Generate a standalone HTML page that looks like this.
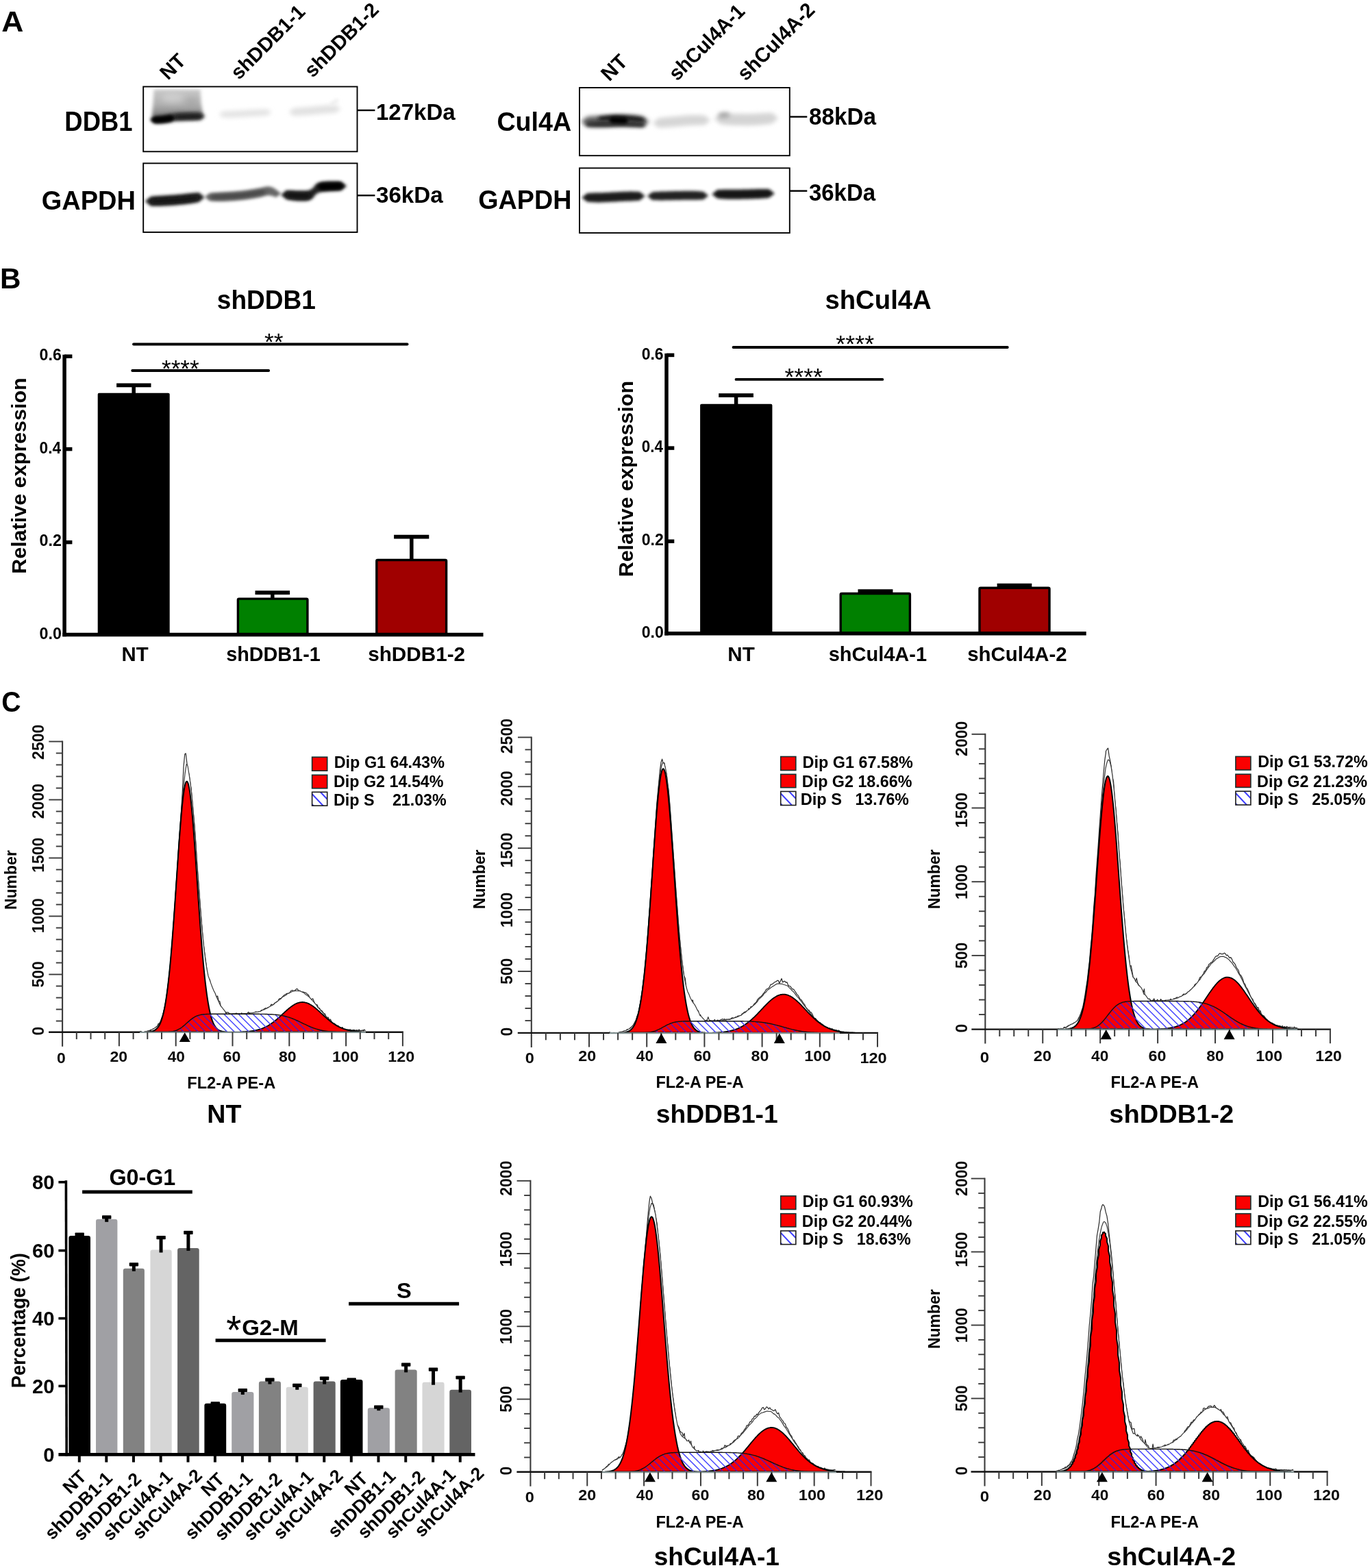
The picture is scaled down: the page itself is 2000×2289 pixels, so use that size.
<!DOCTYPE html>
<html lang="en">
<head>
<meta charset="utf-8">
<title>Figure</title>
<style>
html,body{margin:0;padding:0;background:#fff;}
body{width:2000px;height:2289px;overflow:hidden;}
svg{display:block;font-family:"Liberation Sans", sans-serif;}
</style>
</head>
<body>
<svg xmlns="http://www.w3.org/2000/svg" width="2000" height="2289" viewBox="0 0 2000 2289">
<defs>
<filter id="b2" filterUnits="userSpaceOnUse" x="0" y="0" width="2000" height="400"><feGaussianBlur stdDeviation="2"/></filter>
<filter id="b25" filterUnits="userSpaceOnUse" x="0" y="0" width="2000" height="400"><feGaussianBlur stdDeviation="2.6"/></filter>
<filter id="b3" filterUnits="userSpaceOnUse" x="0" y="0" width="2000" height="400"><feGaussianBlur stdDeviation="3"/></filter>
<filter id="b4" filterUnits="userSpaceOnUse" x="0" y="0" width="2000" height="400"><feGaussianBlur stdDeviation="4"/></filter>
<filter id="b1" filterUnits="userSpaceOnUse" x="0" y="0" width="2000" height="400"><feGaussianBlur stdDeviation="1.2"/></filter>
</defs>
<rect width="2000" height="2289" fill="#fff"/>
<text x="2.19" y="46.00" font-size="43.4" font-weight="bold" fill="#000" textLength="32.12" lengthAdjust="spacingAndGlyphs">A</text>
<g>
<linearGradient id="smg" x1="0" y1="0" x2="0" y2="1"><stop offset="0" stop-color="#c9c9c9"/><stop offset="0.55" stop-color="#b0b0b0"/><stop offset="1" stop-color="#7c7c7c"/></linearGradient>
<path d="M224.5,130.5 L292.5,130.5 L293.5,150 L296.5,168 L221.5,171 L223.5,150 Z" fill="url(#smg)" filter="url(#b25)"/>
<ellipse cx="252" cy="143" rx="16" ry="7" fill="#dcdcdc" opacity="0.55" filter="url(#b4)"/>
<ellipse cx="280" cy="150" rx="9" ry="8" fill="#999" opacity="0.35" filter="url(#b4)"/>
<path d="M219.4,174.2 226.0,168.9 226.8,168.8 227.9,168.7 229.1,168.5 230.5,168.4 232.1,168.2 233.7,168.1 235.3,167.9 236.9,167.8 238.5,167.6 240.0,167.5 241.5,167.3 242.9,167.0 244.4,166.8 245.8,166.5 247.3,166.2 248.8,165.9 250.3,165.7 251.9,165.4 253.4,165.2 255.0,165.0 256.6,164.9 258.2,164.7 259.8,164.6 261.5,164.5 263.1,164.5 264.8,164.4 266.5,164.4 268.3,164.3 270.1,164.3 272.0,164.2 274.0,164.2 276.3,164.1 278.7,164.1 281.1,164.1 283.6,164.1 285.9,164.1 288.1,164.2 290.1,164.3 291.7,164.4 293.0,164.5 299.6,169.8 L299.6,169.8 293.0,175.1 291.7,175.2 290.1,175.4 288.1,175.6 285.9,175.7 283.6,175.8 281.1,175.9 278.7,176.0 276.3,176.1 274.0,176.1 272.0,176.2 270.1,176.3 268.3,176.3 266.5,176.4 264.8,176.4 263.1,176.5 261.5,176.5 259.8,176.6 258.2,176.7 256.6,176.9 255.0,177.0 253.4,177.2 251.9,177.4 250.3,177.7 248.8,177.9 247.3,178.2 245.8,178.5 244.4,178.7 242.9,179.0 241.5,179.2 240.0,179.3 238.5,179.5 236.9,179.6 235.3,179.6 233.7,179.7 232.1,179.7 230.5,179.7 229.1,179.6 227.9,179.6 226.8,179.5 226.0,179.5 219.4,174.2Z" fill="#333" opacity="1.0" filter="url(#b25)"/>
<path d="M219.5,175.0 225.0,170.2 225.3,170.2 225.6,170.2 226.0,170.1 226.4,170.1 226.9,170.1 227.4,170.0 227.9,170.0 228.5,170.0 229.0,170.0 229.6,170.0 230.2,169.9 230.9,169.9 231.5,169.9 232.1,169.9 232.8,169.8 233.4,169.8 234.1,169.8 234.7,169.7 235.4,169.7 236.0,169.6 236.6,169.5 237.3,169.5 238.1,169.4 238.8,169.3 239.6,169.2 240.4,169.1 241.2,168.9 242.1,168.8 242.9,168.7 243.7,168.6 244.5,168.5 245.3,168.4 246.0,168.3 246.7,168.2 247.4,168.1 248.0,168.0 248.6,167.9 249.2,167.9 249.6,167.9 250.0,167.8 255.5,172.6 L255.5,172.6 250.0,177.4 249.6,177.5 249.2,177.6 248.6,177.7 248.0,177.8 247.4,177.9 246.7,178.0 246.0,178.2 245.3,178.3 244.5,178.4 243.7,178.6 242.9,178.7 242.1,178.8 241.2,178.9 240.4,179.1 239.6,179.2 238.8,179.3 238.1,179.4 237.3,179.5 236.6,179.5 236.0,179.6 235.4,179.7 234.7,179.7 234.1,179.7 233.4,179.8 232.8,179.8 232.1,179.8 231.5,179.9 230.9,179.9 230.2,179.9 229.6,179.9 229.0,179.9 228.5,179.9 227.9,179.9 227.4,179.9 226.9,179.9 226.4,179.8 226.0,179.8 225.6,179.8 225.3,179.8 225.0,179.8 219.5,175.0Z" fill="#000" opacity="1.0" filter="url(#b2)"/>
<path d="M254.2,171.0 258.0,167.9 258.9,167.8 259.7,167.7 260.6,167.6 261.4,167.5 262.2,167.5 263.1,167.4 263.9,167.4 264.8,167.3 265.6,167.3 266.5,167.3 267.4,167.2 268.2,167.2 269.1,167.2 269.9,167.2 270.8,167.1 271.6,167.1 272.4,167.1 273.3,167.1 274.1,167.0 275.0,167.0 275.9,167.0 276.7,167.0 277.6,166.9 278.4,166.9 279.2,166.9 280.1,166.9 280.9,166.8 281.8,166.8 282.6,166.8 283.5,166.8 284.4,166.7 285.2,166.7 286.1,166.7 286.9,166.7 287.8,166.7 288.6,166.7 289.4,166.7 290.3,166.8 291.1,166.8 292.0,166.9 295.9,170.0 L295.9,170.0 292.0,173.1 291.1,173.2 290.3,173.3 289.4,173.4 288.6,173.5 287.8,173.5 286.9,173.6 286.1,173.6 285.2,173.7 284.4,173.7 283.5,173.7 282.6,173.8 281.8,173.8 280.9,173.8 280.1,173.8 279.2,173.9 278.4,173.9 277.6,173.9 276.7,173.9 275.9,174.0 275.0,174.0 274.1,174.0 273.3,174.0 272.4,174.1 271.6,174.1 270.8,174.1 269.9,174.1 269.1,174.2 268.2,174.2 267.4,174.2 266.5,174.2 265.6,174.3 264.8,174.3 263.9,174.3 263.1,174.3 262.2,174.3 261.4,174.3 260.6,174.3 259.7,174.2 258.9,174.2 258.0,174.1 254.2,171.0Z" fill="#1a1a1a" opacity="0.8" filter="url(#b25)"/>
<path d="M319.5,167.0 325.0,162.7 325.9,162.6 326.9,162.5 328.1,162.3 329.5,162.2 331.0,162.1 332.6,162.0 334.3,162.0 336.0,161.9 337.8,161.8 339.6,161.7 341.4,161.7 343.2,161.6 345.0,161.5 346.8,161.4 348.6,161.3 350.5,161.2 352.5,161.1 354.4,161.0 356.4,160.8 358.4,160.7 360.4,160.6 362.4,160.5 364.4,160.3 366.3,160.2 368.2,160.1 370.0,160.0 371.8,159.9 373.7,159.8 375.5,159.7 377.4,159.7 379.3,159.6 381.2,159.6 382.9,159.5 384.6,159.5 386.2,159.5 387.7,159.5 389.0,159.6 390.1,159.6 391.0,159.7 396.5,164.0 L396.5,164.0 391.0,168.3 390.1,168.4 389.0,168.6 387.7,168.8 386.2,168.9 384.6,169.1 382.9,169.2 381.2,169.3 379.3,169.5 377.4,169.6 375.5,169.7 373.7,169.8 371.8,169.9 370.0,170.0 368.2,170.1 366.3,170.2 364.4,170.3 362.4,170.5 360.4,170.6 358.4,170.7 356.4,170.8 354.4,171.0 352.5,171.1 350.5,171.2 348.6,171.3 346.8,171.4 345.0,171.5 343.2,171.6 341.4,171.6 339.6,171.7 337.8,171.7 336.0,171.7 334.3,171.7 332.6,171.7 331.0,171.6 329.5,171.6 328.1,171.5 326.9,171.5 325.9,171.4 325.0,171.3 319.5,167.0Z" fill="#e4e4e4" opacity="1.0" filter="url(#b3)"/>
<path d="M421.4,163.5 428.0,158.2 429.0,158.0 430.2,157.8 431.6,157.6 433.1,157.4 434.9,157.3 436.7,157.1 438.6,156.9 440.5,156.7 442.5,156.6 444.5,156.4 446.4,156.3 448.2,156.1 450.0,156.0 451.7,155.9 453.4,155.7 455.1,155.6 456.9,155.4 458.6,155.2 460.3,155.1 462.0,154.9 463.8,154.7 465.5,154.6 467.1,154.4 468.8,154.3 470.4,154.1 472.0,154.0 473.6,153.9 475.3,153.8 477.0,153.7 478.7,153.6 480.4,153.6 482.1,153.5 483.7,153.5 485.2,153.5 486.7,153.5 488.0,153.5 489.2,153.6 490.2,153.6 491.0,153.7 497.6,159.0 L497.6,159.0 491.0,164.3 490.2,164.4 489.2,164.6 488.0,164.7 486.7,164.9 485.2,165.0 483.7,165.2 482.1,165.3 480.4,165.4 478.7,165.5 477.0,165.6 475.3,165.8 473.6,165.9 472.0,166.0 470.4,166.1 468.8,166.3 467.1,166.4 465.5,166.6 463.8,166.7 462.0,166.9 460.3,167.1 458.6,167.2 456.9,167.4 455.1,167.6 453.4,167.7 451.7,167.9 450.0,168.0 448.2,168.1 446.4,168.3 444.5,168.4 442.5,168.5 440.5,168.6 438.6,168.7 436.7,168.8 434.9,168.9 433.1,168.9 431.6,168.9 430.2,168.9 429.0,168.9 428.0,168.8 421.4,163.5Z" fill="#e2e2e2" opacity="1.0" filter="url(#b3)"/>
<path d="M480.7,152.0 484.0,149.0 484.2,148.9 484.4,148.8 484.6,148.6 484.8,148.5 485.0,148.4 485.2,148.3 485.4,148.1 485.6,148.0 485.8,147.9 486.0,147.8 486.2,147.6 486.4,147.5 486.6,147.4 486.8,147.3 487.0,147.1 487.2,147.0 487.4,146.9 487.6,146.8 487.8,146.6 488.0,146.5 488.2,146.4 488.4,146.3 488.6,146.1 488.8,146.0 489.0,145.9 489.2,145.8 489.4,145.6 489.6,145.5 489.8,145.4 490.0,145.3 490.2,145.1 490.4,145.0 490.6,144.9 490.8,144.8 491.0,144.6 491.2,144.5 491.4,144.4 491.6,144.3 491.8,144.2 492.0,144.0 495.3,147.0 L495.3,147.0 492.0,150.0 491.8,150.1 491.6,150.2 491.4,150.4 491.2,150.5 491.0,150.6 490.8,150.7 490.6,150.9 490.4,151.0 490.2,151.1 490.0,151.2 489.8,151.4 489.6,151.5 489.4,151.6 489.2,151.7 489.0,151.9 488.8,152.0 488.6,152.1 488.4,152.2 488.2,152.4 488.0,152.5 487.8,152.6 487.6,152.7 487.4,152.9 487.2,153.0 487.0,153.1 486.8,153.2 486.6,153.4 486.4,153.5 486.2,153.6 486.0,153.7 485.8,153.9 485.6,154.0 485.4,154.1 485.2,154.2 485.0,154.4 484.8,154.5 484.6,154.6 484.4,154.7 484.2,154.8 484.0,155.0 480.7,152.0Z" fill="#ececec" opacity="1.0" filter="url(#b25)"/>
<rect x="209.20" y="126.50" width="312.30" height="94.80" fill="none" stroke="#000" stroke-width="1.9"/>
<path d="M211.5,293.8 220.0,286.8 221.2,286.7 222.7,286.5 224.5,286.3 226.5,286.1 228.6,285.9 230.9,285.8 233.2,285.7 235.6,285.5 237.8,285.4 240.0,285.3 242.1,285.1 244.3,285.0 246.5,284.8 248.8,284.7 251.0,284.5 253.2,284.4 255.5,284.2 257.7,284.0 259.9,283.8 262.0,283.7 264.1,283.5 266.3,283.2 268.5,283.0 270.7,282.8 272.8,282.6 274.9,282.3 276.9,282.1 278.8,281.9 280.5,281.8 282.0,281.6 283.4,281.5 284.6,281.4 285.7,281.3 286.6,281.3 287.5,281.2 288.3,281.1 288.9,281.1 289.5,281.1 290.0,281.0 290.5,281.0 299.0,288.0 L299.0,288.0 290.5,295.0 290.0,295.1 289.5,295.2 288.9,295.4 288.3,295.5 287.5,295.7 286.6,295.9 285.7,296.1 284.6,296.3 283.4,296.5 282.0,296.8 280.5,297.0 278.8,297.2 276.9,297.5 274.9,297.7 272.8,298.0 270.7,298.2 268.5,298.5 266.3,298.7 264.1,298.9 262.0,299.1 259.9,299.3 257.7,299.5 255.5,299.7 253.2,299.9 251.0,300.0 248.8,300.2 246.5,300.3 244.3,300.5 242.1,300.6 240.0,300.7 237.8,300.8 235.6,300.9 233.2,301.0 230.9,301.0 228.6,301.1 226.5,301.0 224.5,301.0 222.7,300.9 221.2,300.9 220.0,300.8 211.5,293.8Z" fill="#262626" opacity="1.0" filter="url(#b2)"/>
<path d="M218.2,294.0 222.0,291.2 223.1,291.0 224.3,290.8 225.7,290.6 227.3,290.5 229.1,290.3 230.9,290.2 232.9,290.0 234.9,289.9 237.1,289.7 239.2,289.6 241.5,289.5 243.7,289.4 245.9,289.2 248.1,289.1 250.3,289.0 252.4,288.8 254.5,288.7 256.4,288.6 258.3,288.4 260.0,288.3 261.7,288.2 263.3,288.0 265.0,287.8 266.7,287.7 268.4,287.5 270.0,287.3 271.7,287.1 273.3,287.0 274.8,286.8 276.4,286.6 277.9,286.5 279.3,286.3 280.7,286.2 282.0,286.1 283.2,286.0 284.4,285.9 285.4,285.8 286.4,285.8 287.2,285.8 288.0,285.8 291.9,288.6 L291.9,288.6 288.0,291.4 287.2,291.6 286.4,291.8 285.4,292.0 284.4,292.2 283.2,292.4 282.0,292.6 280.7,292.9 279.3,293.1 277.9,293.3 276.4,293.5 274.8,293.7 273.3,293.9 271.7,294.1 270.0,294.3 268.4,294.5 266.7,294.7 265.0,294.8 263.3,295.0 261.7,295.2 260.0,295.3 258.3,295.4 256.4,295.6 254.5,295.7 252.4,295.8 250.3,296.0 248.1,296.1 245.9,296.2 243.7,296.4 241.5,296.5 239.2,296.6 237.1,296.7 234.9,296.8 232.9,296.9 230.9,296.9 229.1,297.0 227.3,297.0 225.7,297.0 224.3,297.0 223.1,296.9 222.0,296.8 218.2,294.0Z" fill="#0a0a0a" opacity="0.8" filter="url(#b25)"/>
<path d="M298.6,287.6 306.0,281.9 308.6,281.6 312.2,281.2 316.4,281.0 321.0,280.7 325.7,280.5 330.0,280.3 334.1,280.0 338.3,279.7 342.6,279.4 346.8,279.1 350.9,278.7 355.0,278.3 359.1,277.7 363.2,277.2 367.3,276.5 371.2,275.9 374.8,275.3 378.0,274.8 380.7,274.3 383.0,273.7 385.0,273.2 386.8,272.8 388.4,272.5 390.0,272.3 391.5,272.2 392.7,272.3 393.9,272.4 394.9,272.7 395.9,273.0 397.0,273.3 398.1,273.8 399.3,274.4 400.4,275.1 401.5,275.7 402.4,276.3 403.0,276.7 410.4,282.4 L410.4,282.4 403.0,288.1 402.4,287.9 401.5,287.5 400.4,287.0 399.3,286.6 398.1,286.2 397.0,285.9 395.9,285.6 394.9,285.4 393.9,285.3 392.7,285.2 391.5,285.2 390.0,285.3 388.4,285.6 386.8,286.0 385.0,286.5 383.0,287.1 380.7,287.7 378.0,288.2 374.8,288.8 371.2,289.4 367.3,290.0 363.2,290.7 359.1,291.2 355.0,291.7 350.9,292.2 346.8,292.6 342.6,292.9 338.3,293.2 334.1,293.5 330.0,293.7 325.7,293.9 321.0,293.9 316.4,293.9 312.2,293.8 308.6,293.6 306.0,293.3 298.6,287.6Z" fill="#666" opacity="1.0" filter="url(#b2)"/>
<path d="M306.1,287.6 310.0,284.8 311.1,284.6 312.4,284.5 313.9,284.3 315.5,284.2 317.3,284.0 319.2,283.9 321.2,283.8 323.4,283.7 325.6,283.6 327.8,283.5 330.1,283.3 332.4,283.2 334.8,283.1 337.1,283.0 339.4,282.9 341.7,282.7 343.9,282.6 346.0,282.4 348.1,282.3 350.0,282.1 351.9,281.9 353.9,281.7 355.9,281.4 357.9,281.2 359.9,280.9 362.0,280.6 364.0,280.3 366.0,280.0 368.0,279.7 370.0,279.4 371.9,279.1 373.8,278.9 375.5,278.6 377.2,278.4 378.8,278.2 380.3,278.0 381.7,277.8 382.9,277.7 384.0,277.7 385.0,277.6 388.9,280.4 L388.9,280.4 385.0,283.2 384.0,283.4 382.9,283.7 381.7,284.0 380.3,284.3 378.8,284.7 377.2,285.0 375.5,285.3 373.8,285.7 371.9,286.0 370.0,286.3 368.0,286.7 366.0,287.0 364.0,287.3 362.0,287.6 359.9,287.9 357.9,288.2 355.9,288.4 353.9,288.7 351.9,288.9 350.0,289.1 348.1,289.3 346.0,289.4 343.9,289.6 341.7,289.7 339.4,289.9 337.1,290.0 334.8,290.1 332.4,290.2 330.1,290.3 327.8,290.4 325.6,290.5 323.4,290.5 321.2,290.6 319.2,290.6 317.3,290.6 315.5,290.6 313.9,290.6 312.4,290.5 311.1,290.5 310.0,290.4 306.1,287.6Z" fill="#3a3a3a" opacity="0.7" filter="url(#b25)"/>
<path d="M409.8,284.4 418.0,277.8 419.5,277.8 421.6,277.8 424.0,278.0 426.7,278.1 429.4,278.3 432.0,278.4 434.6,278.5 437.5,278.6 440.4,278.6 443.2,278.6 445.8,278.5 448.0,278.3 449.8,278.0 451.3,277.6 452.6,277.1 453.7,276.5 454.8,275.7 456.0,274.9 457.2,273.8 458.2,272.6 459.2,271.2 460.3,269.8 461.6,268.5 463.0,267.5 464.6,266.7 466.2,266.1 468.0,265.7 470.0,265.3 472.3,265.0 475.0,264.7 478.5,264.5 482.7,264.4 487.2,264.4 491.6,264.5 495.4,264.7 498.0,265.0 506.2,271.6 L506.2,271.6 498.0,278.2 495.4,278.5 491.6,278.8 487.2,279.0 482.7,279.2 478.5,279.4 475.0,279.7 472.3,280.0 470.0,280.3 468.0,280.7 466.2,281.1 464.6,281.7 463.0,282.5 461.6,283.5 460.3,284.8 459.2,286.2 458.2,287.6 457.2,288.8 456.0,289.9 454.8,290.7 453.7,291.5 452.6,292.1 451.3,292.6 449.8,293.0 448.0,293.3 445.8,293.5 443.2,293.6 440.4,293.6 437.5,293.5 434.6,293.4 432.0,293.2 429.4,293.0 426.7,292.6 424.0,292.2 421.6,291.8 419.5,291.4 418.0,291.0 409.8,284.4Z" fill="#242424" opacity="1.0" filter="url(#b2)"/>
<path d="M462.5,272.6 468.0,267.9 468.7,267.8 469.4,267.7 470.2,267.7 470.9,267.6 471.6,267.5 472.4,267.5 473.1,267.5 473.8,267.4 474.5,267.4 475.2,267.4 476.0,267.3 476.7,267.3 477.4,267.3 478.1,267.3 478.9,267.2 479.6,267.2 480.3,267.2 481.1,267.2 481.8,267.1 482.5,267.1 483.2,267.1 483.9,267.1 484.7,267.0 485.4,267.0 486.1,267.0 486.9,267.0 487.6,266.9 488.3,266.9 489.0,266.9 489.8,266.9 490.5,266.8 491.2,266.8 491.9,266.8 492.6,266.8 493.4,266.8 494.1,266.8 494.8,266.8 495.6,266.8 496.3,266.8 497.0,266.9 502.5,271.6 L502.5,271.6 497.0,276.3 496.3,276.4 495.6,276.5 494.8,276.5 494.1,276.6 493.4,276.7 492.6,276.7 491.9,276.7 491.2,276.8 490.5,276.8 489.8,276.8 489.0,276.9 488.3,276.9 487.6,276.9 486.9,276.9 486.1,277.0 485.4,277.0 484.7,277.0 483.9,277.0 483.2,277.1 482.5,277.1 481.8,277.1 481.1,277.1 480.3,277.2 479.6,277.2 478.9,277.2 478.1,277.2 477.4,277.3 476.7,277.3 476.0,277.3 475.2,277.3 474.5,277.4 473.8,277.4 473.1,277.4 472.4,277.4 471.6,277.4 470.9,277.4 470.2,277.4 469.4,277.4 468.7,277.4 468.0,277.3 462.5,272.6Z" fill="#000" opacity="1.0" filter="url(#b2)"/>
<path d="M416.1,285.0 421.0,280.8 421.7,280.8 422.4,280.7 423.2,280.7 423.9,280.7 424.6,280.7 425.4,280.7 426.1,280.7 426.8,280.7 427.5,280.7 428.2,280.8 429.0,280.8 429.7,280.8 430.4,280.8 431.1,280.9 431.9,280.9 432.6,280.9 433.3,280.9 434.1,281.0 434.8,281.0 435.5,281.0 436.2,281.0 436.9,281.1 437.7,281.1 438.4,281.1 439.1,281.1 439.9,281.2 440.6,281.2 441.3,281.2 442.0,281.2 442.8,281.3 443.5,281.3 444.2,281.3 444.9,281.4 445.6,281.4 446.4,281.5 447.1,281.5 447.8,281.6 448.6,281.6 449.3,281.7 450.0,281.8 454.9,286.0 L454.9,286.0 450.0,290.2 449.3,290.2 448.6,290.3 447.8,290.3 447.1,290.3 446.4,290.3 445.6,290.3 444.9,290.3 444.2,290.3 443.5,290.3 442.8,290.2 442.0,290.2 441.3,290.2 440.6,290.2 439.9,290.1 439.1,290.1 438.4,290.1 437.7,290.1 436.9,290.0 436.2,290.0 435.5,290.0 434.8,290.0 434.1,289.9 433.3,289.9 432.6,289.9 431.9,289.9 431.1,289.8 430.4,289.8 429.7,289.8 429.0,289.8 428.2,289.7 427.5,289.7 426.8,289.7 426.1,289.6 425.4,289.6 424.6,289.5 423.9,289.5 423.2,289.4 422.4,289.4 421.7,289.3 421.0,289.2 416.1,285.0Z" fill="#0c0c0c" opacity="0.7" filter="url(#b25)"/>
<rect x="209.20" y="238.40" width="312.30" height="100.60" fill="none" stroke="#000" stroke-width="1.9"/>
</g>
<text x="94.34" y="190.60" font-size="40" font-weight="bold" fill="#000" textLength="99.17" lengthAdjust="spacingAndGlyphs">DDB1</text>
<text x="60.78" y="305.50" font-size="39.5" font-weight="bold" fill="#000" textLength="137.24" lengthAdjust="spacingAndGlyphs">GAPDH</text>
<line x1="521.60" y1="161.00" x2="547.40" y2="161.00" stroke="#000" stroke-width="2.4"/>
<line x1="521.60" y1="285.30" x2="547.40" y2="285.30" stroke="#000" stroke-width="2.4"/>
<text x="548.94" y="175.20" font-size="34" font-weight="bold" fill="#000" textLength="115.74" lengthAdjust="spacingAndGlyphs">127kDa</text>
<text x="548.95" y="295.80" font-size="34" font-weight="bold" fill="#000" textLength="97.86" lengthAdjust="spacingAndGlyphs">36kDa</text>
<text x="245.24" y="117.95" font-size="29.2" font-weight="bold" fill="#000" transform="rotate(-45 245.24 117.95)">NT</text>
<text x="348.68" y="117.58" font-size="29.2" font-weight="bold" fill="#000" transform="rotate(-45 348.68 117.58)">shDDB1-1</text>
<text x="456.23" y="114.58" font-size="29.2" font-weight="bold" fill="#000" transform="rotate(-45 456.23 114.58)">shDDB1-2</text>
<path d="M848.2,177.5 857.0,170.4 858.4,170.2 860.1,170.0 862.1,169.9 864.4,169.7 866.9,169.5 869.6,169.4 872.2,169.3 874.9,169.2 877.5,169.1 880.0,169.0 882.4,168.9 885.0,168.8 887.5,168.6 890.1,168.5 892.7,168.3 895.3,168.2 897.8,168.1 900.3,167.9 902.7,167.9 905.0,167.8 907.2,167.8 909.4,167.8 911.6,167.8 913.6,167.8 915.7,167.9 917.7,167.9 919.6,168.0 921.5,168.1 923.3,168.2 925.0,168.3 926.7,168.5 928.4,168.6 930.1,168.8 931.7,169.0 933.2,169.3 934.7,169.5 936.0,169.8 937.2,170.0 938.2,170.2 939.0,170.4 947.8,177.5 L947.8,177.5 939.0,184.6 938.2,184.6 937.2,184.6 936.0,184.6 934.7,184.5 933.2,184.5 931.7,184.4 930.1,184.3 928.4,184.2 926.7,184.1 925.0,184.1 923.3,184.0 921.5,184.0 919.6,183.9 917.7,183.9 915.7,183.8 913.6,183.8 911.6,183.8 909.4,183.8 907.2,183.8 905.0,183.8 902.7,183.9 900.3,183.9 897.8,184.1 895.3,184.2 892.7,184.3 890.1,184.5 887.5,184.6 885.0,184.8 882.4,184.9 880.0,185.0 877.5,185.0 874.9,185.1 872.2,185.1 869.6,185.1 866.9,185.1 864.4,185.0 862.1,185.0 860.1,184.9 858.4,184.7 857.0,184.6 848.2,177.5Z" fill="#5e5e5e" opacity="1.0" filter="url(#b3)"/>
<path d="M854.1,181.5 858.0,178.8 859.2,178.6 860.7,178.5 862.4,178.4 864.4,178.3 866.5,178.2 868.8,178.2 871.1,178.1 873.5,178.1 876.0,178.1 878.4,178.1 880.7,178.0 882.9,178.0 885.0,178.0 887.0,178.0 888.9,177.9 890.8,177.9 892.7,177.8 894.6,177.8 896.4,177.7 898.3,177.6 900.2,177.6 902.1,177.5 904.0,177.5 906.0,177.5 908.0,177.5 910.0,177.5 912.2,177.6 914.5,177.6 917.0,177.8 919.6,177.9 922.2,178.0 924.8,178.2 927.3,178.4 929.8,178.6 932.1,178.8 934.2,179.1 936.1,179.3 937.7,179.5 939.0,179.8 942.9,182.5 L942.9,182.5 939.0,185.2 937.7,185.3 936.1,185.4 934.2,185.4 932.1,185.3 929.8,185.3 927.3,185.2 924.8,185.1 922.2,185.0 919.6,184.8 917.0,184.7 914.5,184.6 912.2,184.6 910.0,184.5 908.0,184.5 906.0,184.5 904.0,184.5 902.1,184.5 900.2,184.6 898.3,184.6 896.4,184.7 894.6,184.8 892.7,184.8 890.8,184.9 888.9,184.9 887.0,185.0 885.0,185.0 882.9,185.0 880.7,185.0 878.4,185.0 876.0,185.0 873.5,185.0 871.1,184.9 868.8,184.9 866.5,184.8 864.4,184.7 862.4,184.6 860.7,184.5 859.2,184.4 858.0,184.2 854.1,181.5Z" fill="#2c2c2c" opacity="1.0" filter="url(#b25)"/>
<path d="M872.1,173.2 876.0,170.3 877.1,170.1 878.4,169.9 879.9,169.7 881.6,169.4 883.4,169.2 885.4,169.0 887.5,168.8 889.6,168.6 891.8,168.4 893.9,168.3 896.0,168.2 898.1,168.1 900.0,168.1 901.9,168.1 903.9,168.2 905.9,168.3 908.0,168.4 910.1,168.6 912.2,168.7 914.2,168.9 916.2,169.1 918.2,169.3 920.0,169.4 921.8,169.6 923.5,169.8 925.0,169.9 926.4,170.1 927.8,170.3 929.1,170.4 930.3,170.6 931.5,170.8 932.5,171.0 933.6,171.1 934.5,171.3 935.4,171.5 936.1,171.7 936.8,171.8 937.5,172.0 938.0,172.1 941.9,175.0 L941.9,175.0 938.0,177.9 937.5,177.9 936.8,177.8 936.1,177.8 935.4,177.8 934.5,177.7 933.6,177.6 932.5,177.5 931.5,177.4 930.3,177.3 929.1,177.2 927.8,177.1 926.4,177.0 925.0,176.9 923.5,176.7 921.8,176.6 920.0,176.4 918.2,176.2 916.2,176.1 914.2,175.9 912.2,175.7 910.1,175.6 908.0,175.4 905.9,175.3 903.9,175.2 901.9,175.1 900.0,175.1 898.1,175.1 896.0,175.2 893.9,175.3 891.8,175.4 889.6,175.5 887.5,175.6 885.4,175.8 883.4,175.9 881.6,176.0 879.9,176.1 878.4,176.1 877.1,176.1 876.0,176.1 872.1,173.2Z" fill="#1e1e1e" opacity="1.0" filter="url(#b25)"/>
<path d="M888.0,175.5 893.0,171.2 893.5,171.2 894.0,171.1 894.5,171.1 895.0,171.1 895.5,171.1 896.0,171.1 896.5,171.1 897.0,171.2 897.5,171.2 898.0,171.2 898.5,171.2 899.0,171.2 899.5,171.2 900.0,171.2 900.5,171.3 901.0,171.3 901.5,171.3 902.0,171.3 902.5,171.3 903.0,171.3 903.5,171.4 904.0,171.4 904.5,171.4 905.0,171.4 905.5,171.4 906.0,171.5 906.5,171.5 907.0,171.5 907.5,171.5 908.0,171.5 908.5,171.6 909.0,171.6 909.5,171.6 910.0,171.6 910.5,171.7 911.0,171.7 911.5,171.7 912.0,171.8 912.5,171.8 913.0,171.9 918.0,176.2 L918.0,176.2 913.0,180.5 912.5,180.5 912.0,180.6 911.5,180.6 911.0,180.6 910.5,180.6 910.0,180.6 909.5,180.6 909.0,180.5 908.5,180.5 908.0,180.5 907.5,180.5 907.0,180.5 906.5,180.5 906.0,180.5 905.5,180.4 905.0,180.4 904.5,180.4 904.0,180.4 903.5,180.4 903.0,180.3 902.5,180.3 902.0,180.3 901.5,180.3 901.0,180.3 900.5,180.3 900.0,180.2 899.5,180.2 899.0,180.2 898.5,180.2 898.0,180.2 897.5,180.1 897.0,180.1 896.5,180.1 896.0,180.1 895.5,180.0 895.0,180.0 894.5,180.0 894.0,179.9 893.5,179.9 893.0,179.8 888.0,175.5Z" fill="#000" opacity="1.0" filter="url(#b2)"/>
<path d="M952.8,179.5 961.0,172.7 962.1,172.5 963.4,172.3 964.9,172.1 966.6,171.8 968.4,171.6 970.4,171.4 972.5,171.1 974.6,170.9 976.8,170.7 978.9,170.5 981.0,170.3 983.1,170.2 985.0,170.0 986.9,169.8 988.9,169.7 990.8,169.5 992.8,169.3 994.8,169.1 996.8,169.0 998.8,168.8 1000.8,168.6 1002.7,168.5 1004.6,168.3 1006.5,168.2 1008.3,168.1 1010.0,168.0 1011.7,168.0 1013.4,167.9 1015.2,167.9 1016.9,167.9 1018.6,168.0 1020.3,168.0 1021.8,168.1 1023.3,168.2 1024.8,168.3 1026.0,168.4 1027.2,168.5 1028.2,168.6 1029.0,168.7 1037.2,175.5 L1037.2,175.5 1029.0,182.3 1028.2,182.3 1027.2,182.4 1026.0,182.5 1024.8,182.6 1023.3,182.6 1021.8,182.7 1020.3,182.7 1018.6,182.7 1016.9,182.8 1015.2,182.8 1013.4,182.8 1011.7,182.9 1010.0,183.0 1008.3,183.1 1006.5,183.2 1004.6,183.3 1002.7,183.5 1000.8,183.6 998.8,183.8 996.8,184.0 994.8,184.1 992.8,184.3 990.8,184.5 988.9,184.7 986.9,184.8 985.0,185.0 983.1,185.2 981.0,185.3 978.9,185.5 976.8,185.6 974.6,185.8 972.5,185.9 970.4,186.1 968.4,186.2 966.6,186.2 964.9,186.3 963.4,186.3 962.1,186.3 961.0,186.3 952.8,179.5Z" fill="#d6d6d6" opacity="1.0" filter="url(#b3)"/>
<path d="M1042.7,173.5 1052.0,165.8 1053.0,165.8 1054.3,165.7 1055.7,165.7 1057.3,165.6 1059.1,165.6 1061.0,165.7 1062.9,165.7 1065.0,165.7 1067.0,165.8 1069.1,165.9 1071.1,165.9 1073.1,166.0 1075.0,166.0 1076.9,166.0 1078.7,166.1 1080.6,166.1 1082.5,166.1 1084.4,166.2 1086.3,166.2 1088.2,166.2 1090.1,166.2 1092.1,166.2 1094.1,166.2 1096.0,166.1 1098.0,166.1 1100.0,166.0 1102.1,165.9 1104.3,165.8 1106.6,165.7 1109.0,165.5 1111.5,165.3 1113.9,165.2 1116.2,165.1 1118.5,164.9 1120.6,164.9 1122.6,164.8 1124.3,164.8 1125.8,164.8 1127.0,164.8 1136.3,172.5 L1136.3,172.5 1127.0,180.2 1125.8,180.4 1124.3,180.7 1122.6,180.9 1120.6,181.2 1118.5,181.5 1116.2,181.7 1113.9,182.0 1111.5,182.2 1109.0,182.4 1106.6,182.6 1104.3,182.8 1102.1,182.9 1100.0,183.0 1098.0,183.1 1096.0,183.1 1094.1,183.2 1092.1,183.2 1090.1,183.2 1088.2,183.2 1086.3,183.2 1084.4,183.2 1082.5,183.1 1080.6,183.1 1078.7,183.1 1076.9,183.0 1075.0,183.0 1073.1,182.9 1071.1,182.9 1069.1,182.8 1067.0,182.7 1065.0,182.5 1062.9,182.4 1061.0,182.2 1059.1,182.1 1057.3,181.9 1055.7,181.7 1054.3,181.5 1053.0,181.3 1052.0,181.2 1042.7,173.5Z" fill="#d4d4d4" opacity="1.0" filter="url(#b3)"/>
<path d="M1047.6,168.5 1052.0,164.6 1052.2,164.5 1052.5,164.5 1052.8,164.5 1053.0,164.5 1053.2,164.5 1053.5,164.4 1053.8,164.4 1054.0,164.4 1054.2,164.4 1054.5,164.4 1054.8,164.4 1055.0,164.4 1055.2,164.3 1055.5,164.3 1055.8,164.3 1056.0,164.3 1056.2,164.3 1056.5,164.3 1056.8,164.3 1057.0,164.2 1057.2,164.2 1057.5,164.2 1057.8,164.2 1058.0,164.2 1058.2,164.2 1058.5,164.2 1058.8,164.2 1059.0,164.2 1059.2,164.1 1059.5,164.1 1059.8,164.1 1060.0,164.1 1060.2,164.1 1060.5,164.1 1060.8,164.1 1061.0,164.1 1061.2,164.1 1061.5,164.1 1061.8,164.1 1062.0,164.1 1066.4,168.0 L1066.4,168.0 1062.0,171.9 1061.8,172.0 1061.5,172.0 1061.2,172.0 1061.0,172.0 1060.8,172.0 1060.5,172.1 1060.2,172.1 1060.0,172.1 1059.8,172.1 1059.5,172.1 1059.2,172.1 1059.0,172.1 1058.8,172.2 1058.5,172.2 1058.2,172.2 1058.0,172.2 1057.8,172.2 1057.5,172.2 1057.2,172.2 1057.0,172.2 1056.8,172.3 1056.5,172.3 1056.2,172.3 1056.0,172.3 1055.8,172.3 1055.5,172.3 1055.2,172.3 1055.0,172.3 1054.8,172.4 1054.5,172.4 1054.2,172.4 1054.0,172.4 1053.8,172.4 1053.5,172.4 1053.2,172.4 1053.0,172.4 1052.8,172.4 1052.5,172.4 1052.2,172.4 1052.0,172.4 1047.6,168.5Z" fill="#a8a8a8" opacity="1.0" filter="url(#b3)"/>
<rect x="846.00" y="128.00" width="306.80" height="99.20" fill="none" stroke="#000" stroke-width="1.9"/>
<path d="M849.3,288.4 857.0,282.2 858.0,282.1 859.2,282.0 860.6,281.9 862.2,281.8 863.9,281.7 865.7,281.7 867.6,281.6 869.6,281.6 871.7,281.5 873.7,281.5 875.8,281.4 877.9,281.4 880.0,281.3 882.1,281.2 884.3,281.1 886.6,281.0 888.9,280.9 891.3,280.8 893.7,280.6 896.2,280.5 898.6,280.4 901.0,280.2 903.3,280.1 905.6,280.0 907.9,279.9 910.0,279.8 912.1,279.7 914.3,279.7 916.4,279.7 918.6,279.6 920.8,279.6 922.9,279.6 924.9,279.7 926.8,279.7 928.6,279.8 930.2,279.8 931.7,279.9 933.0,280.0 934.0,280.1 941.7,286.3 L941.7,286.3 934.0,292.5 933.0,292.6 931.7,292.7 930.2,292.9 928.6,293.0 926.8,293.1 924.9,293.2 922.9,293.3 920.8,293.4 918.6,293.5 916.4,293.6 914.3,293.6 912.1,293.7 910.0,293.8 907.9,293.9 905.6,294.0 903.3,294.1 901.0,294.2 898.6,294.4 896.2,294.5 893.7,294.6 891.3,294.8 888.9,294.9 886.6,295.0 884.3,295.1 882.1,295.2 880.0,295.3 877.9,295.3 875.8,295.4 873.7,295.4 871.7,295.4 869.6,295.3 867.6,295.3 865.7,295.2 863.9,295.1 862.2,295.0 860.6,294.9 859.2,294.8 858.0,294.7 857.0,294.6 849.3,288.4Z" fill="#1a1a1a" opacity="1.0" filter="url(#b2)"/>
<path d="M944.9,286.2 952.0,280.5 953.0,280.4 954.2,280.3 955.6,280.1 957.2,280.0 958.9,279.9 960.7,279.8 962.6,279.7 964.6,279.6 966.7,279.5 968.7,279.5 970.8,279.4 972.9,279.4 975.0,279.3 977.1,279.3 979.3,279.2 981.6,279.2 984.0,279.1 986.4,279.0 988.8,279.0 991.3,278.9 993.7,278.9 996.1,278.8 998.5,278.8 1000.8,278.7 1002.9,278.7 1005.0,278.7 1007.0,278.7 1009.0,278.7 1011.1,278.8 1013.1,278.8 1015.0,278.9 1017.0,279.0 1018.8,279.1 1020.5,279.2 1022.1,279.4 1023.6,279.5 1024.9,279.6 1026.1,279.8 1027.0,279.9 1034.2,285.6 L1034.2,285.6 1027.0,291.3 1026.1,291.4 1024.9,291.5 1023.6,291.5 1022.1,291.6 1020.5,291.6 1018.8,291.7 1017.0,291.7 1015.0,291.7 1013.1,291.7 1011.1,291.7 1009.0,291.7 1007.0,291.7 1005.0,291.7 1002.9,291.7 1000.8,291.7 998.5,291.8 996.1,291.8 993.7,291.9 991.3,291.9 988.8,292.0 986.4,292.0 984.0,292.1 981.6,292.2 979.3,292.2 977.1,292.3 975.0,292.3 972.9,292.3 970.8,292.3 968.7,292.4 966.7,292.4 964.6,292.4 962.6,292.4 960.7,292.3 958.9,292.3 957.2,292.2 955.6,292.2 954.2,292.1 953.0,292.0 952.0,291.9 944.9,286.2Z" fill="#242424" opacity="1.0" filter="url(#b2)"/>
<path d="M1039.3,283.4 1047.0,277.2 1048.0,277.1 1049.2,277.1 1050.6,277.0 1052.2,276.9 1053.9,276.9 1055.7,276.8 1057.6,276.8 1059.6,276.8 1061.7,276.8 1063.7,276.8 1065.8,276.8 1067.9,276.8 1070.0,276.8 1072.1,276.8 1074.3,276.8 1076.6,276.7 1078.9,276.7 1081.3,276.7 1083.8,276.6 1086.2,276.5 1088.7,276.5 1091.1,276.4 1093.4,276.4 1095.7,276.3 1097.9,276.3 1100.0,276.2 1102.1,276.2 1104.2,276.1 1106.3,276.1 1108.3,276.0 1110.4,276.0 1112.4,276.0 1114.3,276.0 1116.1,276.0 1117.8,276.0 1119.4,276.0 1120.8,276.1 1122.0,276.2 1123.0,276.2 1130.7,282.4 L1130.7,282.4 1123.0,288.6 1122.0,288.7 1120.8,288.9 1119.4,289.0 1117.8,289.2 1116.1,289.4 1114.3,289.5 1112.4,289.6 1110.4,289.8 1108.3,289.9 1106.3,290.0 1104.2,290.0 1102.1,290.1 1100.0,290.2 1097.9,290.3 1095.7,290.3 1093.4,290.4 1091.1,290.4 1088.7,290.5 1086.2,290.5 1083.8,290.6 1081.3,290.7 1078.9,290.7 1076.6,290.7 1074.3,290.8 1072.1,290.8 1070.0,290.8 1067.9,290.8 1065.8,290.8 1063.7,290.7 1061.7,290.7 1059.6,290.6 1057.6,290.5 1055.7,290.4 1053.9,290.3 1052.2,290.1 1050.6,290.0 1049.2,289.8 1048.0,289.7 1047.0,289.6 1039.3,283.4Z" fill="#161616" opacity="1.0" filter="url(#b2)"/>
<rect x="846.00" y="245.40" width="306.80" height="94.60" fill="none" stroke="#000" stroke-width="1.9"/>
<text x="725.39" y="190.60" font-size="39.4" font-weight="bold" fill="#000" textLength="108.81" lengthAdjust="spacingAndGlyphs">Cul4A</text>
<text x="698.29" y="304.80" font-size="39" font-weight="bold" fill="#000" textLength="136.21" lengthAdjust="spacingAndGlyphs">GAPDH</text>
<line x1="1153.20" y1="170.50" x2="1178.30" y2="170.50" stroke="#000" stroke-width="2.4"/>
<line x1="1153.20" y1="278.70" x2="1178.30" y2="278.70" stroke="#000" stroke-width="2.4"/>
<text x="1181.12" y="182.40" font-size="34.3" font-weight="bold" fill="#000" textLength="97.99" lengthAdjust="spacingAndGlyphs">88kDa</text>
<text x="1180.96" y="292.90" font-size="34.3" font-weight="bold" fill="#000" textLength="97.16" lengthAdjust="spacingAndGlyphs">36kDa</text>
<text x="889.62" y="119.98" font-size="30" font-weight="bold" fill="#000" transform="rotate(-45 889.62 119.98)">NT</text>
<text x="988.41" y="119.18" font-size="30" font-weight="bold" fill="#000" transform="rotate(-45 988.41 119.18)" textLength="142.43" lengthAdjust="spacingAndGlyphs">shCul4A-1</text>
<text x="1088.58" y="119.22" font-size="30" font-weight="bold" fill="#000" transform="rotate(-45 1088.58 119.22)" textLength="145.40" lengthAdjust="spacingAndGlyphs">shCul4A-2</text>
<text x="0.06" y="421.30" font-size="43.2" font-weight="bold" fill="#000" textLength="30.43" lengthAdjust="spacingAndGlyphs">B</text>
<rect x="142.70" y="573.80" width="105.00" height="352.70" fill="#000" rx="2"/>
<rect x="347.40" y="874.10" width="101.50" height="52.40" fill="#008000" stroke="#000" stroke-width="3.4" rx="1.5"/>
<rect x="549.80" y="817.50" width="101.80" height="109.00" fill="#a00000" stroke="#000" stroke-width="3.4" rx="1.5"/>
<line x1="195.20" y1="562.40" x2="195.20" y2="575.00" stroke="#000" stroke-width="5.5"/>
<line x1="170.10" y1="562.40" x2="220.50" y2="562.40" stroke="#000" stroke-width="5.8"/>
<line x1="397.80" y1="865.20" x2="397.80" y2="874.00" stroke="#000" stroke-width="5.5"/>
<line x1="372.50" y1="865.20" x2="423.10" y2="865.20" stroke="#000" stroke-width="5.8"/>
<line x1="600.80" y1="783.60" x2="600.80" y2="818.00" stroke="#000" stroke-width="5.5"/>
<line x1="575.10" y1="783.60" x2="626.30" y2="783.60" stroke="#000" stroke-width="5.8"/>
<line x1="94.10" y1="517.65" x2="94.10" y2="929.25" stroke="#000" stroke-width="5.5"/>
<line x1="91.35" y1="926.50" x2="705.50" y2="926.50" stroke="#000" stroke-width="5.5"/>
<line x1="94.10" y1="520.20" x2="105.40" y2="520.20" stroke="#000" stroke-width="5.5"/>
<text x="57.57" y="526.10" font-size="23.5" font-weight="bold" fill="#000" textLength="32.24" lengthAdjust="spacingAndGlyphs">0.6</text>
<line x1="94.10" y1="655.60" x2="105.40" y2="655.60" stroke="#000" stroke-width="5.5"/>
<text x="57.59" y="661.70" font-size="23.5" font-weight="bold" fill="#000" textLength="31.52" lengthAdjust="spacingAndGlyphs">0.4</text>
<line x1="94.10" y1="791.60" x2="105.40" y2="791.60" stroke="#000" stroke-width="5.5"/>
<text x="57.57" y="796.80" font-size="23.5" font-weight="bold" fill="#000" textLength="32.37" lengthAdjust="spacingAndGlyphs">0.2</text>
<text x="57.57" y="933.00" font-size="23.5" font-weight="bold" fill="#000" textLength="32.37" lengthAdjust="spacingAndGlyphs">0.0</text>
<line x1="195.00" y1="502.50" x2="594.60" y2="502.50" stroke="#000" stroke-width="3.8" stroke-linecap="round"/>
<text x="385.98" y="510.50" font-size="35" font-weight="normal" fill="#000" textLength="27.48" lengthAdjust="spacingAndGlyphs">**</text>
<line x1="193.20" y1="541.00" x2="392.20" y2="541.00" stroke="#000" stroke-width="3.8" stroke-linecap="round"/>
<text x="235.98" y="549.80" font-size="35" font-weight="normal" fill="#000" textLength="54.80" lengthAdjust="spacingAndGlyphs">****</text>
<text x="316.80" y="451.30" font-size="38" font-weight="bold" fill="#000" textLength="144.10" lengthAdjust="spacingAndGlyphs">shDDB1</text>
<text x="177.52" y="964.90" font-size="30" font-weight="bold" fill="#000" textLength="39.09" lengthAdjust="spacingAndGlyphs">NT</text>
<text x="330.19" y="964.90" font-size="30" font-weight="bold" fill="#000" textLength="137.54" lengthAdjust="spacingAndGlyphs">shDDB1-1</text>
<text x="537.26" y="964.90" font-size="30" font-weight="bold" fill="#000" textLength="141.77" lengthAdjust="spacingAndGlyphs">shDDB1-2</text>
<text x="38.50" y="837.86" font-size="30.2" font-weight="bold" fill="#000" transform="rotate(-90 38.50 837.86)" textLength="286.53" lengthAdjust="spacingAndGlyphs">Relative expression</text>
<rect x="1022.10" y="589.70" width="105.30" height="335.00" fill="#000" rx="2"/>
<rect x="1227.20" y="866.50" width="101.20" height="58.20" fill="#008000" stroke="#000" stroke-width="3.4" rx="1.5"/>
<rect x="1430.00" y="858.30" width="102.00" height="66.40" fill="#a00000" stroke="#000" stroke-width="3.4" rx="1.5"/>
<line x1="1074.60" y1="577.10" x2="1074.60" y2="591.00" stroke="#000" stroke-width="5.5"/>
<line x1="1049.20" y1="577.10" x2="1099.90" y2="577.10" stroke="#000" stroke-width="5.8"/>
<line x1="1278.00" y1="863.20" x2="1278.00" y2="867.00" stroke="#000" stroke-width="5.5"/>
<line x1="1252.50" y1="863.20" x2="1303.40" y2="863.20" stroke="#000" stroke-width="5.8"/>
<line x1="1481.00" y1="854.70" x2="1481.00" y2="859.00" stroke="#000" stroke-width="5.5"/>
<line x1="1455.60" y1="854.70" x2="1506.30" y2="854.70" stroke="#000" stroke-width="5.8"/>
<line x1="973.00" y1="515.95" x2="973.00" y2="927.45" stroke="#000" stroke-width="5.5"/>
<line x1="970.25" y1="924.70" x2="1585.70" y2="924.70" stroke="#000" stroke-width="5.5"/>
<line x1="973.00" y1="518.40" x2="984.30" y2="518.40" stroke="#000" stroke-width="5.5"/>
<text x="936.68" y="524.50" font-size="23.5" font-weight="bold" fill="#000" textLength="31.93" lengthAdjust="spacingAndGlyphs">0.6</text>
<line x1="973.00" y1="654.10" x2="984.30" y2="654.10" stroke="#000" stroke-width="5.5"/>
<text x="936.70" y="660.30" font-size="23.5" font-weight="bold" fill="#000" textLength="31.21" lengthAdjust="spacingAndGlyphs">0.4</text>
<line x1="973.00" y1="790.20" x2="984.30" y2="790.20" stroke="#000" stroke-width="5.5"/>
<text x="936.68" y="795.80" font-size="23.5" font-weight="bold" fill="#000" textLength="32.05" lengthAdjust="spacingAndGlyphs">0.2</text>
<text x="936.68" y="931.10" font-size="23.5" font-weight="bold" fill="#000" textLength="32.05" lengthAdjust="spacingAndGlyphs">0.0</text>
<line x1="1070.50" y1="507.00" x2="1470.80" y2="507.00" stroke="#000" stroke-width="3.8" stroke-linecap="round"/>
<text x="1220.37" y="514.40" font-size="35" font-weight="normal" fill="#000" textLength="55.72" lengthAdjust="spacingAndGlyphs">****</text>
<line x1="1074.50" y1="553.90" x2="1288.30" y2="553.90" stroke="#000" stroke-width="3.8" stroke-linecap="round"/>
<text x="1145.48" y="561.80" font-size="35" font-weight="normal" fill="#000" textLength="55.42" lengthAdjust="spacingAndGlyphs">****</text>
<text x="1204.46" y="451.40" font-size="38" font-weight="bold" fill="#000" textLength="155.25" lengthAdjust="spacingAndGlyphs">shCul4A</text>
<text x="1062.30" y="965.30" font-size="30" font-weight="bold" fill="#000" textLength="39.41" lengthAdjust="spacingAndGlyphs">NT</text>
<text x="1209.69" y="965.30" font-size="30" font-weight="bold" fill="#000" textLength="143.32" lengthAdjust="spacingAndGlyphs">shCul4A-1</text>
<text x="1412.17" y="965.30" font-size="30" font-weight="bold" fill="#000" textLength="145.52" lengthAdjust="spacingAndGlyphs">shCul4A-2</text>
<text x="924.40" y="842.36" font-size="30.2" font-weight="bold" fill="#000" transform="rotate(-90 924.40 842.36)" textLength="286.43" lengthAdjust="spacingAndGlyphs">Relative expression</text>
<text x="2.13" y="1039.20" font-size="43.2" font-weight="bold" fill="#000" textLength="28.34" lengthAdjust="spacingAndGlyphs">C</text>
<clipPath id="sclip1"><path d="M246,1506.4 247,1506.3 248,1506.2 249,1506.1 250,1506.0 251,1505.9 252,1505.7 253,1505.5 254,1505.2 255,1505.0 256,1504.7 257,1504.3 258,1503.9 259,1503.5 260,1503.0 261,1502.5 262,1501.9 263,1501.3 264,1500.7 265,1500.0 266,1499.2 267,1498.4 268,1497.6 269,1496.8 270,1495.9 271,1495.0 272,1494.1 273,1493.2 274,1492.3 275,1491.4 276,1490.6 277,1489.7 278,1488.9 279,1488.1 280,1487.3 281,1486.6 282,1485.9 283,1485.3 284,1484.7 285,1484.2 286,1483.7 287,1483.2 288,1482.8 289,1482.5 290,1482.1 291,1481.9 292,1481.6 293,1481.4 294,1481.2 295,1481.0 296,1480.9 297,1480.8 298,1480.7 299,1480.6 300,1480.6 301,1480.5 302,1480.5 303,1480.4 304,1480.4 305,1480.4 306,1480.4 307,1480.3 308,1480.3 309,1480.3 310,1480.3 311,1480.3 312,1480.3 313,1480.3 314,1480.3 315,1480.3 316,1480.3 317,1480.3 318,1480.3 319,1480.3 320,1480.3 321,1480.3 322,1480.3 323,1480.3 324,1480.3 325,1480.3 326,1480.3 327,1480.3 328,1480.3 329,1480.3 330,1480.3 331,1480.3 332,1480.3 333,1480.3 334,1480.3 335,1480.3 336,1480.3 337,1480.3 338,1480.3 339,1480.3 340,1480.3 341,1480.3 342,1480.3 343,1480.3 344,1480.3 345,1480.3 346,1480.3 347,1480.3 348,1480.3 349,1480.3 350,1480.3 351,1480.3 352,1480.3 353,1480.3 354,1480.3 355,1480.3 356,1480.3 357,1480.3 358,1480.3 359,1480.3 360,1480.3 361,1480.3 362,1480.3 363,1480.3 364,1480.3 365,1480.3 366,1480.3 367,1480.3 368,1480.3 369,1480.3 370,1480.3 371,1480.3 372,1480.3 373,1480.3 374,1480.3 375,1480.3 376,1480.3 377,1480.3 378,1480.3 379,1480.4 380,1480.4 381,1480.4 382,1480.4 383,1480.4 384,1480.4 385,1480.4 386,1480.4 387,1480.5 388,1480.5 389,1480.5 390,1480.5 391,1480.6 392,1480.6 393,1480.6 394,1480.7 395,1480.7 396,1480.8 397,1480.8 398,1480.9 399,1481.0 400,1481.1 401,1481.1 402,1481.2 403,1481.3 404,1481.4 405,1481.5 406,1481.7 407,1481.8 408,1481.9 409,1482.1 410,1482.3 411,1482.4 412,1482.6 413,1482.8 414,1483.0 415,1483.3 416,1483.5 417,1483.8 418,1484.0 419,1484.3 420,1484.6 421,1484.9 422,1485.2 423,1485.5 424,1485.9 425,1486.2 426,1486.6 427,1487.0 428,1487.4 429,1487.8 430,1488.2 431,1488.6 432,1489.1 433,1489.5 434,1490.0 435,1490.4 436,1490.9 437,1491.4 438,1491.9 439,1492.3 440,1492.8 441,1493.3 442,1493.8 443,1494.3 444,1494.8 445,1495.2 446,1495.7 447,1496.2 448,1496.6 449,1497.1 450,1497.6 451,1498.0 452,1498.4 453,1498.9 454,1499.3 455,1499.7 456,1500.1 457,1500.5 458,1500.8 459,1501.2 460,1501.5 461,1501.9 462,1502.2 463,1502.5 464,1502.8 465,1503.0 466,1503.3 467,1503.5 468,1503.8 469,1504.0 470,1504.2 471,1504.4 472,1504.6 473,1504.8 474,1504.9 475,1505.1 476,1505.2 477,1505.4 478,1505.5 479,1505.6 480,1505.7 481,1505.8 482,1505.9 483,1506.0 484,1506.0 485,1506.1 486,1506.2 487,1506.2 488,1506.3 489,1506.3 490,1506.4 491,1506.4Z"/></clipPath>
<path d="M204.0,1505.8 205.6,1505.6 207.2,1506.4 208.8,1506.7 210.4,1506.7 212.0,1505.9 213.6,1506.4 215.2,1506.3 216.8,1504.7 218.4,1504.2 220.0,1503.3 221.6,1503.8 223.2,1502.4 224.8,1501.6 226.4,1501.9 228.0,1499.1 229.6,1497.9 231.2,1494.3 232.8,1493.9 234.4,1491.1 236.0,1486.0 237.6,1482.0 239.2,1475.1 240.8,1468.7 242.4,1458.9 244.0,1447.1 245.6,1434.7 247.2,1420.7 248.8,1405.7 250.4,1385.3 252.0,1365.6 253.6,1342.9 255.2,1320.7 256.8,1295.4 258.4,1273.0 260.0,1248.4 261.6,1224.0 263.2,1204.4 264.8,1180.3 266.4,1154.1 268.0,1119.7 269.6,1102.5 269.8,1101.0 271.2,1099.8 272.8,1113.0 274.4,1126.5 276.0,1130.1 277.6,1142.1 279.2,1152.4 280.8,1171.6 282.4,1188.2 284.0,1205.4 285.6,1226.9 287.2,1254.2 288.8,1277.0 290.4,1297.4 292.0,1317.9 293.6,1339.2 295.2,1357.6 296.8,1376.2 298.4,1388.7 300.0,1400.5 301.6,1412.9 303.2,1426.1 304.8,1430.2 306.4,1430.1 308.0,1443.5 309.6,1441.4 311.2,1448.0 312.8,1448.5 314.4,1452.4 316.0,1455.2 317.6,1454.0 319.2,1461.2 320.8,1461.7 322.4,1469.6 324.0,1473.3 325.6,1473.0 327.2,1484.5 328.8,1477.4 330.4,1477.8 332.0,1482.7 333.6,1478.1 335.2,1481.5 336.8,1482.4 338.4,1480.3 340.0,1481.1 341.6,1480.7 343.2,1480.3 344.8,1478.9 346.4,1480.0 348.0,1480.1 349.6,1479.7 351.2,1481.8 352.8,1478.7 354.4,1480.9 356.0,1479.4 357.6,1480.8 359.2,1480.6 360.8,1479.9 362.4,1477.5 364.0,1478.5 365.6,1479.6 367.2,1479.1 368.8,1479.7 370.4,1478.3 372.0,1478.6 373.6,1477.0 375.2,1478.7 376.8,1477.3 378.4,1477.3 380.0,1476.7 381.6,1474.7 383.2,1474.7 384.8,1473.6 386.4,1472.3 388.0,1471.6 389.6,1473.4 391.2,1470.5 392.8,1472.0 394.4,1469.3 396.0,1466.1 397.6,1467.3 399.2,1466.3 400.8,1464.6 402.4,1463.6 404.0,1462.3 405.6,1461.9 407.2,1458.6 408.8,1457.5 410.4,1457.4 412.0,1455.6 413.6,1453.9 415.2,1452.3 416.8,1451.8 418.4,1450.4 420.0,1450.4 421.6,1450.3 423.2,1448.8 424.8,1446.3 426.4,1445.7 428.0,1446.1 429.6,1446.5 431.2,1445.2 432.8,1443.6 434.4,1443.9 436.0,1446.5 437.6,1446.1 439.2,1448.2 440.8,1448.5 442.4,1447.8 444.0,1448.9 445.6,1448.9 447.2,1449.8 448.8,1451.6 450.4,1452.6 452.0,1456.2 453.6,1458.5 455.2,1458.5 456.8,1457.9 458.4,1462.3 460.0,1465.8 461.6,1466.3 463.2,1467.0 464.8,1471.5 466.4,1471.6 468.0,1475.0 469.6,1475.0 471.2,1477.4 472.8,1479.7 474.4,1479.9 476.0,1484.0 477.6,1485.9 479.2,1485.1 480.8,1489.2 482.4,1487.9 484.0,1491.3 485.6,1493.5 487.2,1493.8 488.8,1494.9 490.4,1495.9 492.0,1497.3 493.6,1497.1 495.2,1500.8 496.8,1500.1 498.4,1500.6 500.0,1499.6 501.6,1503.2 503.2,1502.4 504.8,1503.5 506.4,1503.5 508.0,1502.8 509.6,1503.3 511.2,1502.7 512.8,1504.4 514.4,1503.9 516.0,1503.4 517.6,1503.6 519.2,1504.6 520.8,1503.5 522.4,1505.1 524.0,1503.0 525.6,1504.3 527.2,1504.5 528.8,1504.2 530.4,1503.7 532.0,1503.1 533.6,1504.6" fill="#fff" stroke="#2a2a2a" stroke-width="1.2" stroke-linejoin="round"/>
<path d="M204.0,1506.7 206.0,1506.4 208.0,1506.6 210.0,1506.5 212.0,1505.8 214.0,1505.6 216.0,1504.8 218.0,1504.6 220.0,1504.3 222.0,1502.8 224.0,1501.9 226.0,1500.5 228.0,1499.4 230.0,1497.7 232.0,1495.1 234.0,1491.9 236.0,1487.1 238.0,1481.1 240.0,1472.2 242.0,1461.9 244.0,1448.4 246.0,1431.8 248.0,1412.5 250.0,1391.0 252.0,1364.9 254.0,1338.6 256.0,1308.8 258.0,1278.6 260.0,1248.6 262.0,1219.4 264.0,1191.6 266.0,1168.3 268.0,1147.6 270.0,1129.7 272.0,1116.6 272.3,1115.5 274.0,1118.0 276.0,1130.0 278.0,1144.0 280.0,1161.2 282.0,1182.3 284.0,1207.5 286.0,1234.5 288.0,1263.8 290.0,1291.4 292.0,1319.2 294.0,1344.4 296.0,1366.1 298.0,1386.0 300.0,1402.0 302.0,1414.6 304.0,1424.7 306.0,1430.1 308.0,1435.9 310.0,1441.3 312.0,1446.1 314.0,1449.7 316.0,1455.3 318.0,1459.4 320.0,1464.0 322.0,1468.3 324.0,1470.5 326.0,1473.2 328.0,1475.6 330.0,1479.6 332.0,1477.6 334.0,1479.0 336.0,1480.0 338.0,1480.1 340.0,1479.8 342.0,1479.8 344.0,1479.9 346.0,1480.1 348.0,1480.1 350.0,1479.8 352.0,1480.0 354.0,1480.1 356.0,1480.0 358.0,1479.7 360.0,1479.5 362.0,1478.8 364.0,1479.6 366.0,1478.8 368.0,1478.7 370.0,1478.3 372.0,1477.7 374.0,1477.3 376.0,1477.2 378.0,1476.8 380.0,1476.4 382.0,1475.3 384.0,1474.2 386.0,1473.8 388.0,1472.6 390.0,1471.6 392.0,1470.6 394.0,1469.2 396.0,1468.3 398.0,1467.2 400.0,1465.9 402.0,1463.8 404.0,1462.7 406.0,1461.1 408.0,1459.2 410.0,1458.1 412.0,1455.8 414.0,1454.6 416.0,1453.5 418.0,1452.2 420.0,1450.4 422.0,1449.9 424.0,1448.7 426.0,1447.7 428.0,1447.0 430.0,1446.6 432.0,1446.3 434.0,1446.5 436.0,1446.6 438.0,1446.7 440.0,1447.6 442.0,1448.8 444.0,1449.3 446.0,1451.8 448.0,1452.7 450.0,1454.3 452.0,1456.1 454.0,1458.4 456.0,1460.7 458.0,1462.7 460.0,1465.2 462.0,1467.4 464.0,1470.7 466.0,1472.2 468.0,1475.0 470.0,1476.8 472.0,1479.2 474.0,1481.4 476.0,1483.9 478.0,1485.7 480.0,1487.9 482.0,1489.6 484.0,1491.4 486.0,1493.2 488.0,1494.0 490.0,1495.7 492.0,1497.6 494.0,1498.1 496.0,1499.6 498.0,1500.3 500.0,1501.2 502.0,1501.9 504.0,1502.3 506.0,1502.9 508.0,1503.6 510.0,1503.6 512.0,1503.8 514.0,1503.7 516.0,1504.3 518.0,1504.6 520.0,1504.4 522.0,1504.2 524.0,1504.6 526.0,1504.5 528.0,1504.3 530.0,1504.4 532.0,1504.4" fill="#fff" stroke="#3a3a3a" stroke-width="1.2" stroke-linejoin="round"/>
<path d="M246,1506.4 247,1506.3 248,1506.2 249,1506.1 250,1506.0 251,1505.9 252,1505.7 253,1505.5 254,1505.2 255,1505.0 256,1504.7 257,1504.3 258,1503.9 259,1503.5 260,1503.0 261,1502.5 262,1501.9 263,1501.3 264,1500.7 265,1500.0 266,1499.2 267,1498.4 268,1497.6 269,1496.8 270,1495.9 271,1495.0 272,1494.1 273,1493.2 274,1492.3 275,1491.4 276,1490.6 277,1489.7 278,1488.9 279,1488.1 280,1487.3 281,1486.6 282,1485.9 283,1485.3 284,1484.7 285,1484.2 286,1483.7 287,1483.2 288,1482.8 289,1482.5 290,1482.1 291,1481.9 292,1481.6 293,1481.4 294,1481.2 295,1481.0 296,1480.9 297,1480.8 298,1480.7 299,1480.6 300,1480.6 301,1480.5 302,1480.5 303,1480.4 304,1480.4 305,1480.4 306,1480.4 307,1480.3 308,1480.3 309,1480.3 310,1480.3 311,1480.3 312,1480.3 313,1480.3 314,1480.3 315,1480.3 316,1480.3 317,1480.3 318,1480.3 319,1480.3 320,1480.3 321,1480.3 322,1480.3 323,1480.3 324,1480.3 325,1480.3 326,1480.3 327,1480.3 328,1480.3 329,1480.3 330,1480.3 331,1480.3 332,1480.3 333,1480.3 334,1480.3 335,1480.3 336,1480.3 337,1480.3 338,1480.3 339,1480.3 340,1480.3 341,1480.3 342,1480.3 343,1480.3 344,1480.3 345,1480.3 346,1480.3 347,1480.3 348,1480.3 349,1480.3 350,1480.3 351,1480.3 352,1480.3 353,1480.3 354,1480.3 355,1480.3 356,1480.3 357,1480.3 358,1480.3 359,1480.3 360,1480.3 361,1480.3 362,1480.3 363,1480.3 364,1480.3 365,1480.3 366,1480.3 367,1480.3 368,1480.3 369,1480.3 370,1480.3 371,1480.3 372,1480.3 373,1480.3 374,1480.3 375,1480.3 376,1480.3 377,1480.3 378,1480.3 379,1480.4 380,1480.4 381,1480.4 382,1480.4 383,1480.4 384,1480.4 385,1480.4 386,1480.4 387,1480.5 388,1480.5 389,1480.5 390,1480.5 391,1480.6 392,1480.6 393,1480.6 394,1480.7 395,1480.7 396,1480.8 397,1480.8 398,1480.9 399,1481.0 400,1481.1 401,1481.1 402,1481.2 403,1481.3 404,1481.4 405,1481.5 406,1481.7 407,1481.8 408,1481.9 409,1482.1 410,1482.3 411,1482.4 412,1482.6 413,1482.8 414,1483.0 415,1483.3 416,1483.5 417,1483.8 418,1484.0 419,1484.3 420,1484.6 421,1484.9 422,1485.2 423,1485.5 424,1485.9 425,1486.2 426,1486.6 427,1487.0 428,1487.4 429,1487.8 430,1488.2 431,1488.6 432,1489.1 433,1489.5 434,1490.0 435,1490.4 436,1490.9 437,1491.4 438,1491.9 439,1492.3 440,1492.8 441,1493.3 442,1493.8 443,1494.3 444,1494.8 445,1495.2 446,1495.7 447,1496.2 448,1496.6 449,1497.1 450,1497.6 451,1498.0 452,1498.4 453,1498.9 454,1499.3 455,1499.7 456,1500.1 457,1500.5 458,1500.8 459,1501.2 460,1501.5 461,1501.9 462,1502.2 463,1502.5 464,1502.8 465,1503.0 466,1503.3 467,1503.5 468,1503.8 469,1504.0 470,1504.2 471,1504.4 472,1504.6 473,1504.8 474,1504.9 475,1505.1 476,1505.2 477,1505.4 478,1505.5 479,1505.6 480,1505.7 481,1505.8 482,1505.9 483,1506.0 484,1506.0 485,1506.1 486,1506.2 487,1506.2 488,1506.3 489,1506.3 490,1506.4 491,1506.4Z" fill="#fff"/>
<path d="M216,1506.4 217,1506.3 218,1506.2 219,1506.1 220,1505.9 221,1505.7 222,1505.5 223,1505.2 224,1504.8 225,1504.4 226,1503.8 227,1503.2 228,1502.4 229,1501.4 230,1500.3 231,1499.0 232,1497.5 233,1495.7 234,1493.6 235,1491.1 236,1488.3 237,1485.1 238,1481.5 239,1477.4 240,1472.7 241,1467.5 242,1461.6 243,1455.1 244,1448.0 245,1440.2 246,1431.6 247,1422.3 248,1412.3 249,1401.6 250,1390.2 251,1378.1 252,1365.4 253,1352.2 254,1338.4 255,1324.2 256,1309.7 257,1295.0 258,1280.2 259,1265.5 260,1250.9 261,1236.6 262,1222.8 263,1209.7 264,1197.3 265,1185.8 266,1175.4 267,1166.1 268,1158.1 269,1151.6 270,1146.5 271,1142.9 272,1141.0 273,1140.7 274,1142.0 275,1144.9 276,1149.4 277,1155.3 278,1162.8 279,1171.5 280,1181.5 281,1192.6 282,1204.6 283,1217.5 284,1231.0 285,1245.1 286,1259.6 287,1274.3 288,1289.1 289,1303.8 290,1318.4 291,1332.8 292,1346.7 293,1360.2 294,1373.1 295,1385.5 296,1397.1 297,1408.1 298,1418.4 299,1428.0 300,1436.8 301,1444.9 302,1452.4 303,1459.1 304,1465.2 305,1470.7 306,1475.6 307,1479.9 308,1483.7 309,1487.1 310,1490.1 311,1492.6 312,1494.9 313,1496.8 314,1498.4 315,1499.8 316,1501.0 317,1502.0 318,1502.9 319,1503.6 320,1504.2 321,1504.6 322,1505.0 323,1505.4 324,1505.6 325,1505.9 326,1506.0 327,1506.2 328,1506.3 329,1506.4 330,1506.5Z" fill="#fa0000" stroke="#000" stroke-width="2" stroke-linejoin="round"/>
<path d="M351,1506.4 352,1506.4 353,1506.3 354,1506.3 355,1506.2 356,1506.2 357,1506.1 358,1506.1 359,1506.0 360,1505.9 361,1505.9 362,1505.8 363,1505.7 364,1505.6 365,1505.5 366,1505.3 367,1505.2 368,1505.1 369,1504.9 370,1504.8 371,1504.6 372,1504.4 373,1504.2 374,1504.0 375,1503.7 376,1503.5 377,1503.2 378,1503.0 379,1502.7 380,1502.3 381,1502.0 382,1501.6 383,1501.3 384,1500.9 385,1500.4 386,1500.0 387,1499.5 388,1499.1 389,1498.5 390,1498.0 391,1497.5 392,1496.9 393,1496.3 394,1495.6 395,1495.0 396,1494.3 397,1493.6 398,1492.9 399,1492.1 400,1491.4 401,1490.6 402,1489.8 403,1489.0 404,1488.1 405,1487.3 406,1486.4 407,1485.5 408,1484.6 409,1483.7 410,1482.8 411,1481.9 412,1480.9 413,1480.0 414,1479.1 415,1478.2 416,1477.2 417,1476.3 418,1475.4 419,1474.5 420,1473.7 421,1472.8 422,1472.0 423,1471.2 424,1470.4 425,1469.6 426,1468.9 427,1468.2 428,1467.5 429,1466.9 430,1466.3 431,1465.8 432,1465.3 433,1464.8 434,1464.4 435,1464.1 436,1463.8 437,1463.5 438,1463.3 439,1463.2 440,1463.1 441,1463.0 442,1463.0 443,1463.1 444,1463.2 445,1463.3 446,1463.6 447,1463.8 448,1464.1 449,1464.5 450,1464.9 451,1465.4 452,1465.9 453,1466.5 454,1467.0 455,1467.7 456,1468.3 457,1469.0 458,1469.8 459,1470.5 460,1471.3 461,1472.1 462,1473.0 463,1473.8 464,1474.7 465,1475.6 466,1476.5 467,1477.4 468,1478.3 469,1479.3 470,1480.2 471,1481.1 472,1482.0 473,1483.0 474,1483.9 475,1484.8 476,1485.7 477,1486.6 478,1487.4 479,1488.3 480,1489.1 481,1489.9 482,1490.7 483,1491.5 484,1492.3 485,1493.0 486,1493.7 487,1494.4 488,1495.1 489,1495.8 490,1496.4 491,1497.0 492,1497.6 493,1498.1 494,1498.6 495,1499.2 496,1499.6 497,1500.1 498,1500.5 499,1500.9 500,1501.3 501,1501.7 502,1502.1 503,1502.4 504,1502.7 505,1503.0 506,1503.3 507,1503.6 508,1503.8 509,1504.0 510,1504.2 511,1504.4 512,1504.6 513,1504.8 514,1505.0 515,1505.1 516,1505.2 517,1505.4 518,1505.5 519,1505.6 520,1505.7 521,1505.8 522,1505.9 523,1506.0 524,1506.0 525,1506.1 526,1506.1 527,1506.2 528,1506.3 529,1506.3 530,1506.3 531,1506.4 532,1506.4Z" fill="#fa0000" stroke="#000" stroke-width="1.8" stroke-linejoin="round"/>
<clipPath id="rclip1"><path d="M216,1506.4 217,1506.3 218,1506.2 219,1506.1 220,1505.9 221,1505.7 222,1505.5 223,1505.2 224,1504.8 225,1504.4 226,1503.8 227,1503.2 228,1502.4 229,1501.4 230,1500.3 231,1499.0 232,1497.5 233,1495.7 234,1493.6 235,1491.1 236,1488.3 237,1485.1 238,1481.5 239,1477.4 240,1472.7 241,1467.5 242,1461.6 243,1455.1 244,1448.0 245,1440.2 246,1431.6 247,1422.3 248,1412.3 249,1401.6 250,1390.2 251,1378.1 252,1365.4 253,1352.2 254,1338.4 255,1324.2 256,1309.7 257,1295.0 258,1280.2 259,1265.5 260,1250.9 261,1236.6 262,1222.8 263,1209.7 264,1197.3 265,1185.8 266,1175.4 267,1166.1 268,1158.1 269,1151.6 270,1146.5 271,1142.9 272,1141.0 273,1140.7 274,1142.0 275,1144.9 276,1149.4 277,1155.3 278,1162.8 279,1171.5 280,1181.5 281,1192.6 282,1204.6 283,1217.5 284,1231.0 285,1245.1 286,1259.6 287,1274.3 288,1289.1 289,1303.8 290,1318.4 291,1332.8 292,1346.7 293,1360.2 294,1373.1 295,1385.5 296,1397.1 297,1408.1 298,1418.4 299,1428.0 300,1436.8 301,1444.9 302,1452.4 303,1459.1 304,1465.2 305,1470.7 306,1475.6 307,1479.9 308,1483.7 309,1487.1 310,1490.1 311,1492.6 312,1494.9 313,1496.8 314,1498.4 315,1499.8 316,1501.0 317,1502.0 318,1502.9 319,1503.6 320,1504.2 321,1504.6 322,1505.0 323,1505.4 324,1505.6 325,1505.9 326,1506.0 327,1506.2 328,1506.3 329,1506.4 330,1506.5Z"/><path d="M351,1506.4 352,1506.4 353,1506.3 354,1506.3 355,1506.2 356,1506.2 357,1506.1 358,1506.1 359,1506.0 360,1505.9 361,1505.9 362,1505.8 363,1505.7 364,1505.6 365,1505.5 366,1505.3 367,1505.2 368,1505.1 369,1504.9 370,1504.8 371,1504.6 372,1504.4 373,1504.2 374,1504.0 375,1503.7 376,1503.5 377,1503.2 378,1503.0 379,1502.7 380,1502.3 381,1502.0 382,1501.6 383,1501.3 384,1500.9 385,1500.4 386,1500.0 387,1499.5 388,1499.1 389,1498.5 390,1498.0 391,1497.5 392,1496.9 393,1496.3 394,1495.6 395,1495.0 396,1494.3 397,1493.6 398,1492.9 399,1492.1 400,1491.4 401,1490.6 402,1489.8 403,1489.0 404,1488.1 405,1487.3 406,1486.4 407,1485.5 408,1484.6 409,1483.7 410,1482.8 411,1481.9 412,1480.9 413,1480.0 414,1479.1 415,1478.2 416,1477.2 417,1476.3 418,1475.4 419,1474.5 420,1473.7 421,1472.8 422,1472.0 423,1471.2 424,1470.4 425,1469.6 426,1468.9 427,1468.2 428,1467.5 429,1466.9 430,1466.3 431,1465.8 432,1465.3 433,1464.8 434,1464.4 435,1464.1 436,1463.8 437,1463.5 438,1463.3 439,1463.2 440,1463.1 441,1463.0 442,1463.0 443,1463.1 444,1463.2 445,1463.3 446,1463.6 447,1463.8 448,1464.1 449,1464.5 450,1464.9 451,1465.4 452,1465.9 453,1466.5 454,1467.0 455,1467.7 456,1468.3 457,1469.0 458,1469.8 459,1470.5 460,1471.3 461,1472.1 462,1473.0 463,1473.8 464,1474.7 465,1475.6 466,1476.5 467,1477.4 468,1478.3 469,1479.3 470,1480.2 471,1481.1 472,1482.0 473,1483.0 474,1483.9 475,1484.8 476,1485.7 477,1486.6 478,1487.4 479,1488.3 480,1489.1 481,1489.9 482,1490.7 483,1491.5 484,1492.3 485,1493.0 486,1493.7 487,1494.4 488,1495.1 489,1495.8 490,1496.4 491,1497.0 492,1497.6 493,1498.1 494,1498.6 495,1499.2 496,1499.6 497,1500.1 498,1500.5 499,1500.9 500,1501.3 501,1501.7 502,1502.1 503,1502.4 504,1502.7 505,1503.0 506,1503.3 507,1503.6 508,1503.8 509,1504.0 510,1504.2 511,1504.4 512,1504.6 513,1504.8 514,1505.0 515,1505.1 516,1505.2 517,1505.4 518,1505.5 519,1505.6 520,1505.7 521,1505.8 522,1505.9 523,1506.0 524,1506.0 525,1506.1 526,1506.1 527,1506.2 528,1506.3 529,1506.3 530,1506.3 531,1506.4 532,1506.4Z"/></clipPath>
<g clip-path="url(#sclip1)" fill="none" stroke-width="1.5">
<path d="M195.6,1476.3l32.4,32.4M206.2,1476.3l32.4,32.4M216.8,1476.3l32.4,32.4M227.4,1476.3l32.4,32.4M238.0,1476.3l32.4,32.4M248.6,1476.3l32.4,32.4M259.2,1476.3l32.4,32.4M269.8,1476.3l32.4,32.4M280.4,1476.3l32.4,32.4M291.0,1476.3l32.4,32.4M301.6,1476.3l32.4,32.4M312.2,1476.3l32.4,32.4M322.8,1476.3l32.4,32.4M333.4,1476.3l32.4,32.4M344.0,1476.3l32.4,32.4M354.6,1476.3l32.4,32.4M365.2,1476.3l32.4,32.4M375.8,1476.3l32.4,32.4M386.4,1476.3l32.4,32.4M397.0,1476.3l32.4,32.4M407.6,1476.3l32.4,32.4M418.2,1476.3l32.4,32.4M428.8,1476.3l32.4,32.4M439.4,1476.3l32.4,32.4M450.0,1476.3l32.4,32.4M460.6,1476.3l32.4,32.4M471.2,1476.3l32.4,32.4M481.8,1476.3l32.4,32.4M492.4,1476.3l32.4,32.4M503.0,1476.3l32.4,32.4M513.6,1476.3l32.4,32.4M524.2,1476.3l32.4,32.4" stroke="#4a4aff"/>
<g clip-path="url(#rclip1)"><path d="M195.6,1476.3l32.4,32.4M206.2,1476.3l32.4,32.4M216.8,1476.3l32.4,32.4M227.4,1476.3l32.4,32.4M238.0,1476.3l32.4,32.4M248.6,1476.3l32.4,32.4M259.2,1476.3l32.4,32.4M269.8,1476.3l32.4,32.4M280.4,1476.3l32.4,32.4M291.0,1476.3l32.4,32.4M301.6,1476.3l32.4,32.4M312.2,1476.3l32.4,32.4M322.8,1476.3l32.4,32.4M333.4,1476.3l32.4,32.4M344.0,1476.3l32.4,32.4M354.6,1476.3l32.4,32.4M365.2,1476.3l32.4,32.4M375.8,1476.3l32.4,32.4M386.4,1476.3l32.4,32.4M397.0,1476.3l32.4,32.4M407.6,1476.3l32.4,32.4M418.2,1476.3l32.4,32.4M428.8,1476.3l32.4,32.4M439.4,1476.3l32.4,32.4M450.0,1476.3l32.4,32.4M460.6,1476.3l32.4,32.4M471.2,1476.3l32.4,32.4M481.8,1476.3l32.4,32.4M492.4,1476.3l32.4,32.4M503.0,1476.3l32.4,32.4M513.6,1476.3l32.4,32.4M524.2,1476.3l32.4,32.4" stroke="#7a0a8c" stroke-width="1.5"/></g>
</g>
<path d="M246,1506.4 247,1506.3 248,1506.2 249,1506.1 250,1506.0 251,1505.9 252,1505.7 253,1505.5 254,1505.2 255,1505.0 256,1504.7 257,1504.3 258,1503.9 259,1503.5 260,1503.0 261,1502.5 262,1501.9 263,1501.3 264,1500.7 265,1500.0 266,1499.2 267,1498.4 268,1497.6 269,1496.8 270,1495.9 271,1495.0 272,1494.1 273,1493.2 274,1492.3 275,1491.4 276,1490.6 277,1489.7 278,1488.9 279,1488.1 280,1487.3 281,1486.6 282,1485.9 283,1485.3 284,1484.7 285,1484.2 286,1483.7 287,1483.2 288,1482.8 289,1482.5 290,1482.1 291,1481.9 292,1481.6 293,1481.4 294,1481.2 295,1481.0 296,1480.9 297,1480.8 298,1480.7 299,1480.6 300,1480.6 301,1480.5 302,1480.5 303,1480.4 304,1480.4 305,1480.4 306,1480.4 307,1480.3 308,1480.3 309,1480.3 310,1480.3 311,1480.3 312,1480.3 313,1480.3 314,1480.3 315,1480.3 316,1480.3 317,1480.3 318,1480.3 319,1480.3 320,1480.3 321,1480.3 322,1480.3 323,1480.3 324,1480.3 325,1480.3 326,1480.3 327,1480.3 328,1480.3 329,1480.3 330,1480.3 331,1480.3 332,1480.3 333,1480.3 334,1480.3 335,1480.3 336,1480.3 337,1480.3 338,1480.3 339,1480.3 340,1480.3 341,1480.3 342,1480.3 343,1480.3 344,1480.3 345,1480.3 346,1480.3 347,1480.3 348,1480.3 349,1480.3 350,1480.3 351,1480.3 352,1480.3 353,1480.3 354,1480.3 355,1480.3 356,1480.3 357,1480.3 358,1480.3 359,1480.3 360,1480.3 361,1480.3 362,1480.3 363,1480.3 364,1480.3 365,1480.3 366,1480.3 367,1480.3 368,1480.3 369,1480.3 370,1480.3 371,1480.3 372,1480.3 373,1480.3 374,1480.3 375,1480.3 376,1480.3 377,1480.3 378,1480.3 379,1480.4 380,1480.4 381,1480.4 382,1480.4 383,1480.4 384,1480.4 385,1480.4 386,1480.4 387,1480.5 388,1480.5 389,1480.5 390,1480.5 391,1480.6 392,1480.6 393,1480.6 394,1480.7 395,1480.7 396,1480.8 397,1480.8 398,1480.9 399,1481.0 400,1481.1 401,1481.1 402,1481.2 403,1481.3 404,1481.4 405,1481.5 406,1481.7 407,1481.8 408,1481.9 409,1482.1 410,1482.3 411,1482.4 412,1482.6 413,1482.8 414,1483.0 415,1483.3 416,1483.5 417,1483.8 418,1484.0 419,1484.3 420,1484.6 421,1484.9 422,1485.2 423,1485.5 424,1485.9 425,1486.2 426,1486.6 427,1487.0 428,1487.4 429,1487.8 430,1488.2 431,1488.6 432,1489.1 433,1489.5 434,1490.0 435,1490.4 436,1490.9 437,1491.4 438,1491.9 439,1492.3 440,1492.8 441,1493.3 442,1493.8 443,1494.3 444,1494.8 445,1495.2 446,1495.7 447,1496.2 448,1496.6 449,1497.1 450,1497.6 451,1498.0 452,1498.4 453,1498.9 454,1499.3 455,1499.7 456,1500.1 457,1500.5 458,1500.8 459,1501.2 460,1501.5 461,1501.9 462,1502.2 463,1502.5 464,1502.8 465,1503.0 466,1503.3 467,1503.5 468,1503.8 469,1504.0 470,1504.2 471,1504.4 472,1504.6 473,1504.8 474,1504.9 475,1505.1 476,1505.2 477,1505.4 478,1505.5 479,1505.6 480,1505.7 481,1505.8 482,1505.9 483,1506.0 484,1506.0 485,1506.1 486,1506.2 487,1506.2 488,1506.3 489,1506.3 490,1506.4 491,1506.4Z" fill="none" stroke="#111" stroke-width="1.4"/>
<line x1="91.10" y1="1081.50" x2="91.10" y2="1527.70" stroke="#3a3a3a" stroke-width="2.1"/>
<line x1="71.10" y1="1506.70" x2="205.00" y2="1506.70" stroke="#111" stroke-width="2.4"/>
<line x1="533.00" y1="1506.70" x2="588.90" y2="1506.70" stroke="#111" stroke-width="2.4"/>
<line x1="204.00" y1="1507.00" x2="534.00" y2="1507.00" stroke="#7f8f8f" stroke-width="2.2"/>
<text x="63.60" y="1511.38" font-size="23" font-weight="bold" fill="#0a0a0a" transform="rotate(-90 63.60 1511.38)">0</text>
<line x1="81.80" y1="1490.50" x2="91.10" y2="1490.50" stroke="#3a3a3a" stroke-width="1.9"/>
<line x1="81.80" y1="1473.50" x2="91.10" y2="1473.50" stroke="#3a3a3a" stroke-width="1.9"/>
<line x1="81.80" y1="1456.50" x2="91.10" y2="1456.50" stroke="#3a3a3a" stroke-width="1.9"/>
<line x1="81.80" y1="1439.50" x2="91.10" y2="1439.50" stroke="#3a3a3a" stroke-width="1.9"/>
<line x1="71.30" y1="1422.50" x2="91.10" y2="1422.50" stroke="#3a3a3a" stroke-width="1.9"/>
<text x="63.60" y="1441.59" font-size="23" font-weight="bold" fill="#0a0a0a" transform="rotate(-90 63.60 1441.59)">500</text>
<line x1="81.80" y1="1405.50" x2="91.10" y2="1405.50" stroke="#3a3a3a" stroke-width="1.9"/>
<line x1="81.80" y1="1388.50" x2="91.10" y2="1388.50" stroke="#3a3a3a" stroke-width="1.9"/>
<line x1="81.80" y1="1371.50" x2="91.10" y2="1371.50" stroke="#3a3a3a" stroke-width="1.9"/>
<line x1="81.80" y1="1354.50" x2="91.10" y2="1354.50" stroke="#3a3a3a" stroke-width="1.9"/>
<line x1="71.30" y1="1337.50" x2="91.10" y2="1337.50" stroke="#3a3a3a" stroke-width="1.9"/>
<text x="63.60" y="1362.32" font-size="23" font-weight="bold" fill="#0a0a0a" transform="rotate(-90 63.60 1362.32)">1000</text>
<line x1="81.80" y1="1320.50" x2="91.10" y2="1320.50" stroke="#3a3a3a" stroke-width="1.9"/>
<line x1="81.80" y1="1303.50" x2="91.10" y2="1303.50" stroke="#3a3a3a" stroke-width="1.9"/>
<line x1="81.80" y1="1286.50" x2="91.10" y2="1286.50" stroke="#3a3a3a" stroke-width="1.9"/>
<line x1="81.80" y1="1269.50" x2="91.10" y2="1269.50" stroke="#3a3a3a" stroke-width="1.9"/>
<line x1="71.30" y1="1252.50" x2="91.10" y2="1252.50" stroke="#3a3a3a" stroke-width="1.9"/>
<text x="63.60" y="1273.82" font-size="23" font-weight="bold" fill="#0a0a0a" transform="rotate(-90 63.60 1273.82)">1500</text>
<line x1="81.80" y1="1235.50" x2="91.10" y2="1235.50" stroke="#3a3a3a" stroke-width="1.9"/>
<line x1="81.80" y1="1218.50" x2="91.10" y2="1218.50" stroke="#3a3a3a" stroke-width="1.9"/>
<line x1="81.80" y1="1201.50" x2="91.10" y2="1201.50" stroke="#3a3a3a" stroke-width="1.9"/>
<line x1="81.80" y1="1184.50" x2="91.10" y2="1184.50" stroke="#3a3a3a" stroke-width="1.9"/>
<line x1="71.30" y1="1167.50" x2="91.10" y2="1167.50" stroke="#3a3a3a" stroke-width="1.9"/>
<text x="63.60" y="1195.20" font-size="23" font-weight="bold" fill="#0a0a0a" transform="rotate(-90 63.60 1195.20)">2000</text>
<line x1="81.80" y1="1150.50" x2="91.10" y2="1150.50" stroke="#3a3a3a" stroke-width="1.9"/>
<line x1="81.80" y1="1133.50" x2="91.10" y2="1133.50" stroke="#3a3a3a" stroke-width="1.9"/>
<line x1="81.80" y1="1116.50" x2="91.10" y2="1116.50" stroke="#3a3a3a" stroke-width="1.9"/>
<line x1="81.80" y1="1099.50" x2="91.10" y2="1099.50" stroke="#3a3a3a" stroke-width="1.9"/>
<line x1="71.30" y1="1082.50" x2="91.10" y2="1082.50" stroke="#3a3a3a" stroke-width="1.9"/>
<text x="63.60" y="1108.90" font-size="23" font-weight="bold" fill="#0a0a0a" transform="rotate(-90 63.60 1108.90)">2500</text>
<line x1="111.80" y1="1506.70" x2="111.80" y2="1517.10" stroke="#3a3a3a" stroke-width="2.0"/>
<line x1="132.50" y1="1506.70" x2="132.50" y2="1517.10" stroke="#3a3a3a" stroke-width="2.0"/>
<line x1="153.20" y1="1506.70" x2="153.20" y2="1517.10" stroke="#3a3a3a" stroke-width="2.0"/>
<line x1="173.90" y1="1506.70" x2="173.90" y2="1527.30" stroke="#3a3a3a" stroke-width="2.0"/>
<line x1="194.60" y1="1506.70" x2="194.60" y2="1517.10" stroke="#3a3a3a" stroke-width="2.0"/>
<line x1="215.30" y1="1506.70" x2="215.30" y2="1517.10" stroke="#3a3a3a" stroke-width="2.0"/>
<line x1="236.00" y1="1506.70" x2="236.00" y2="1517.10" stroke="#3a3a3a" stroke-width="2.0"/>
<line x1="256.70" y1="1506.70" x2="256.70" y2="1527.30" stroke="#3a3a3a" stroke-width="2.0"/>
<line x1="277.40" y1="1506.70" x2="277.40" y2="1517.10" stroke="#3a3a3a" stroke-width="2.0"/>
<line x1="298.10" y1="1506.70" x2="298.10" y2="1517.10" stroke="#3a3a3a" stroke-width="2.0"/>
<line x1="318.80" y1="1506.70" x2="318.80" y2="1517.10" stroke="#3a3a3a" stroke-width="2.0"/>
<line x1="339.50" y1="1506.70" x2="339.50" y2="1527.30" stroke="#3a3a3a" stroke-width="2.0"/>
<line x1="360.20" y1="1506.70" x2="360.20" y2="1517.10" stroke="#3a3a3a" stroke-width="2.0"/>
<line x1="380.90" y1="1506.70" x2="380.90" y2="1517.10" stroke="#3a3a3a" stroke-width="2.0"/>
<line x1="401.60" y1="1506.70" x2="401.60" y2="1517.10" stroke="#3a3a3a" stroke-width="2.0"/>
<line x1="422.30" y1="1506.70" x2="422.30" y2="1527.30" stroke="#3a3a3a" stroke-width="2.0"/>
<line x1="443.00" y1="1506.70" x2="443.00" y2="1517.10" stroke="#3a3a3a" stroke-width="2.0"/>
<line x1="463.70" y1="1506.70" x2="463.70" y2="1517.10" stroke="#3a3a3a" stroke-width="2.0"/>
<line x1="484.40" y1="1506.70" x2="484.40" y2="1517.10" stroke="#3a3a3a" stroke-width="2.0"/>
<line x1="505.10" y1="1506.70" x2="505.10" y2="1527.30" stroke="#3a3a3a" stroke-width="2.0"/>
<line x1="525.80" y1="1506.70" x2="525.80" y2="1517.10" stroke="#3a3a3a" stroke-width="2.0"/>
<line x1="546.50" y1="1506.70" x2="546.50" y2="1517.10" stroke="#3a3a3a" stroke-width="2.0"/>
<line x1="567.20" y1="1506.70" x2="567.20" y2="1517.10" stroke="#3a3a3a" stroke-width="2.0"/>
<line x1="587.90" y1="1506.70" x2="587.90" y2="1527.30" stroke="#3a3a3a" stroke-width="2.0"/>
<text x="82.98" y="1552.30" font-size="22.8" font-weight="bold" fill="#0a0a0a" textLength="12.76" lengthAdjust="spacingAndGlyphs">0</text>
<text x="160.49" y="1549.90" font-size="22.8" font-weight="bold" fill="#0a0a0a" textLength="25.69" lengthAdjust="spacingAndGlyphs">20</text>
<text x="244.66" y="1549.90" font-size="22.8" font-weight="bold" fill="#0a0a0a" textLength="25.20" lengthAdjust="spacingAndGlyphs">40</text>
<text x="325.63" y="1549.90" font-size="22.8" font-weight="bold" fill="#0a0a0a" textLength="25.86" lengthAdjust="spacingAndGlyphs">60</text>
<text x="407.05" y="1549.90" font-size="22.8" font-weight="bold" fill="#0a0a0a" textLength="25.62" lengthAdjust="spacingAndGlyphs">80</text>
<text x="485.05" y="1549.90" font-size="22.8" font-weight="bold" fill="#0a0a0a" textLength="38.70" lengthAdjust="spacingAndGlyphs">100</text>
<text x="566.24" y="1549.90" font-size="22.8" font-weight="bold" fill="#0a0a0a" textLength="38.91" lengthAdjust="spacingAndGlyphs">120</text>
<path d="M261.7,1521.0 L277.7,1521.0 L269.7,1507.2 Z" fill="#000"/>
<rect x="455.60" y="1105.20" width="22.10" height="20.00" fill="#fa0000" stroke="#16302e" stroke-width="1.6"/>
<rect x="455.60" y="1131.30" width="22.10" height="19.50" fill="#fa0000" stroke="#16302e" stroke-width="1.6"/>
<rect x="455.60" y="1156.30" width="22.10" height="19.90" fill="#fff" stroke="none" stroke-width="0"/>
<clipPath id="lg1"><rect x="455.6" y="1156.3" width="22.1" height="19.9"/></clipPath>
<g clip-path="url(#lg1)">
<line x1="438.00" y1="1155.50" x2="462.00" y2="1181.00" stroke="#3c3cff" stroke-width="2.0"/>
<line x1="452.20" y1="1155.50" x2="476.20" y2="1181.00" stroke="#3c3cff" stroke-width="2.0"/>
<line x1="467.10" y1="1155.50" x2="491.10" y2="1181.00" stroke="#3c3cff" stroke-width="2.0"/>
</g>
<rect x="455.60" y="1156.30" width="22.10" height="19.90" fill="none" stroke="#1c1c1c" stroke-width="1.6"/>
<text x="487.72" y="1121.40" font-size="23.6" font-weight="bold" fill="#000" textLength="161.22" lengthAdjust="spacingAndGlyphs">Dip G1 64.43%</text>
<text x="487.03" y="1149.30" font-size="23.6" font-weight="bold" fill="#000" textLength="160.51" lengthAdjust="spacingAndGlyphs">Dip G2 14.54%</text>
<text x="487.02" y="1176.00" font-size="23.6" font-weight="bold" fill="#000" textLength="59.67" lengthAdjust="spacingAndGlyphs">Dip S</text>
<text x="572.89" y="1176.00" font-size="23.6" font-weight="bold" fill="#000" textLength="78.83" lengthAdjust="spacingAndGlyphs">21.03%</text>
<text x="273.21" y="1589.10" font-size="23.5" font-weight="bold" fill="#000" textLength="129.06" lengthAdjust="spacingAndGlyphs">FL2-A PE-A</text>
<text x="302.26" y="1639.00" font-size="37.6" font-weight="bold" fill="#000">NT</text>
<text x="24.30" y="1328.07" font-size="23" font-weight="bold" fill="#000" transform="rotate(-90 24.30 1328.07)">Number</text>
<clipPath id="sclip2"><path d="M942,1507.6 943,1507.5 944,1507.5 945,1507.4 946,1507.3 947,1507.1 948,1507.0 949,1506.9 950,1506.7 951,1506.5 952,1506.3 953,1506.0 954,1505.7 955,1505.4 956,1505.1 957,1504.7 958,1504.4 959,1504.0 960,1503.5 961,1503.1 962,1502.6 963,1502.1 964,1501.6 965,1501.1 966,1500.5 967,1500.0 968,1499.4 969,1498.9 970,1498.3 971,1497.8 972,1497.2 973,1496.7 974,1496.2 975,1495.7 976,1495.3 977,1494.8 978,1494.4 979,1494.0 980,1493.6 981,1493.3 982,1493.0 983,1492.7 984,1492.4 985,1492.2 986,1492.0 987,1491.8 988,1491.6 989,1491.5 990,1491.4 991,1491.3 992,1491.2 993,1491.1 994,1491.0 995,1491.0 996,1490.9 997,1490.9 998,1490.8 999,1490.8 1000,1490.8 1001,1490.8 1002,1490.8 1003,1490.7 1004,1490.7 1005,1490.7 1006,1490.7 1007,1490.7 1008,1490.7 1009,1490.7 1010,1490.7 1011,1490.7 1012,1490.7 1013,1490.7 1014,1490.7 1015,1490.7 1016,1490.7 1017,1490.7 1018,1490.7 1019,1490.7 1020,1490.7 1021,1490.7 1022,1490.7 1023,1490.7 1024,1490.7 1025,1490.7 1026,1490.7 1027,1490.7 1028,1490.7 1029,1490.7 1030,1490.7 1031,1490.7 1032,1490.7 1033,1490.7 1034,1490.7 1035,1490.7 1036,1490.7 1037,1490.7 1038,1490.7 1039,1490.7 1040,1490.7 1041,1490.7 1042,1490.7 1043,1490.7 1044,1490.7 1045,1490.7 1046,1490.7 1047,1490.7 1048,1490.7 1049,1490.7 1050,1490.7 1051,1490.7 1052,1490.7 1053,1490.7 1054,1490.7 1055,1490.7 1056,1490.7 1057,1490.7 1058,1490.7 1059,1490.7 1060,1490.7 1061,1490.7 1062,1490.7 1063,1490.7 1064,1490.7 1065,1490.7 1066,1490.7 1067,1490.7 1068,1490.7 1069,1490.7 1070,1490.7 1071,1490.7 1072,1490.7 1073,1490.7 1074,1490.7 1075,1490.7 1076,1490.7 1077,1490.8 1078,1490.8 1079,1490.8 1080,1490.8 1081,1490.8 1082,1490.8 1083,1490.8 1084,1490.8 1085,1490.8 1086,1490.9 1087,1490.9 1088,1490.9 1089,1490.9 1090,1490.9 1091,1491.0 1092,1491.0 1093,1491.0 1094,1491.1 1095,1491.1 1096,1491.1 1097,1491.2 1098,1491.2 1099,1491.3 1100,1491.3 1101,1491.4 1102,1491.4 1103,1491.5 1104,1491.6 1105,1491.7 1106,1491.7 1107,1491.8 1108,1491.9 1109,1492.0 1110,1492.1 1111,1492.2 1112,1492.4 1113,1492.5 1114,1492.6 1115,1492.7 1116,1492.9 1117,1493.0 1118,1493.2 1119,1493.4 1120,1493.5 1121,1493.7 1122,1493.9 1123,1494.1 1124,1494.3 1125,1494.5 1126,1494.7 1127,1494.9 1128,1495.2 1129,1495.4 1130,1495.6 1131,1495.9 1132,1496.1 1133,1496.4 1134,1496.6 1135,1496.9 1136,1497.2 1137,1497.4 1138,1497.7 1139,1498.0 1140,1498.3 1141,1498.5 1142,1498.8 1143,1499.1 1144,1499.4 1145,1499.7 1146,1499.9 1147,1500.2 1148,1500.5 1149,1500.8 1150,1501.1 1151,1501.3 1152,1501.6 1153,1501.9 1154,1502.1 1155,1502.4 1156,1502.6 1157,1502.9 1158,1503.1 1159,1503.3 1160,1503.6 1161,1503.8 1162,1504.0 1163,1504.2 1164,1504.4 1165,1504.6 1166,1504.8 1167,1505.0 1168,1505.2 1169,1505.3 1170,1505.5 1171,1505.6 1172,1505.8 1173,1505.9 1174,1506.1 1175,1506.2 1176,1506.3 1177,1506.4 1178,1506.5 1179,1506.6 1180,1506.7 1181,1506.8 1182,1506.9 1183,1507.0 1184,1507.1 1185,1507.1 1186,1507.2 1187,1507.3 1188,1507.3 1189,1507.4 1190,1507.4 1191,1507.5 1192,1507.5 1193,1507.5 1194,1507.6 1195,1507.6 1196,1507.6Z"/></clipPath>
<path d="M889.8,1506.3 891.4,1507.9 893.0,1507.6 894.6,1507.7 896.2,1507.2 897.8,1507.9 899.4,1507.9 901.0,1507.9 902.6,1507.9 904.2,1507.6 905.8,1507.1 907.4,1506.5 909.0,1506.6 910.6,1505.1 912.2,1505.2 913.8,1506.7 915.4,1502.5 917.0,1503.0 918.6,1502.4 920.2,1500.5 921.8,1499.2 923.4,1497.7 925.0,1496.4 926.6,1492.7 928.2,1490.8 929.8,1483.6 931.4,1480.8 933.0,1473.1 934.6,1464.8 936.2,1455.0 937.8,1444.3 939.4,1430.4 941.0,1420.9 942.6,1400.1 944.2,1382.0 945.8,1362.5 947.4,1338.3 949.0,1319.6 950.6,1294.9 952.2,1274.3 953.8,1246.6 955.4,1226.5 957.0,1204.1 958.6,1175.9 960.2,1159.1 961.8,1141.7 963.4,1124.6 965.0,1113.0 965.0,1113.0 966.6,1108.1 968.2,1114.3 969.8,1113.6 971.4,1123.9 973.0,1129.5 974.6,1144.3 976.2,1154.3 977.8,1173.8 979.4,1196.7 981.0,1220.7 982.6,1241.3 984.2,1263.1 985.8,1287.6 987.4,1308.0 989.0,1328.5 990.6,1350.4 992.2,1369.6 993.8,1384.8 995.4,1401.3 997.0,1412.7 998.6,1425.1 1000.2,1427.9 1001.8,1442.0 1003.4,1450.3 1005.0,1450.5 1006.6,1456.4 1008.2,1460.4 1009.8,1460.3 1011.4,1460.1 1013.0,1472.5 1014.6,1468.6 1016.2,1472.2 1017.8,1475.4 1019.4,1475.6 1021.0,1484.8 1022.6,1481.4 1024.2,1486.1 1025.8,1486.8 1027.4,1489.0 1029.0,1490.2 1030.6,1491.3 1032.2,1489.1 1033.8,1484.6 1035.4,1489.4 1037.0,1489.7 1038.6,1490.0 1040.2,1490.9 1041.8,1489.9 1043.4,1488.4 1045.0,1491.5 1046.6,1489.4 1048.2,1489.2 1049.8,1489.7 1051.4,1489.1 1053.0,1488.4 1054.6,1487.5 1056.2,1488.2 1057.8,1487.6 1059.4,1488.7 1061.0,1487.9 1062.6,1488.3 1064.2,1487.8 1065.8,1488.2 1067.4,1486.7 1069.0,1485.5 1070.6,1486.6 1072.2,1485.7 1073.8,1484.7 1075.4,1484.7 1077.0,1483.1 1078.6,1483.0 1080.2,1483.6 1081.8,1482.6 1083.4,1479.9 1085.0,1479.0 1086.6,1477.4 1088.2,1477.2 1089.8,1476.0 1091.4,1476.5 1093.0,1472.1 1094.6,1473.0 1096.2,1469.4 1097.8,1470.2 1099.4,1468.0 1101.0,1465.5 1102.6,1464.3 1104.2,1462.8 1105.8,1459.2 1107.4,1457.6 1109.0,1456.0 1110.6,1454.9 1112.2,1453.5 1113.8,1451.2 1115.4,1449.4 1117.0,1447.0 1118.6,1444.3 1120.2,1443.6 1121.8,1442.7 1123.4,1440.9 1125.0,1437.2 1126.6,1437.2 1128.2,1435.9 1129.8,1434.7 1131.4,1433.4 1133.0,1433.2 1134.6,1431.3 1136.2,1431.3 1137.8,1435.5 1139.4,1432.1 1141.0,1428.5 1142.6,1434.0 1144.2,1432.7 1145.8,1432.3 1147.4,1434.4 1149.0,1433.9 1150.6,1438.2 1152.2,1439.5 1153.8,1439.8 1155.4,1442.1 1157.0,1444.2 1158.6,1444.2 1160.2,1446.5 1161.8,1448.9 1163.4,1451.6 1165.0,1453.0 1166.6,1455.7 1168.2,1458.7 1169.8,1459.6 1171.4,1462.0 1173.0,1464.7 1174.6,1466.3 1176.2,1470.5 1177.8,1471.7 1179.4,1474.2 1181.0,1474.5 1182.6,1477.4 1184.2,1477.8 1185.8,1480.3 1187.4,1484.0 1189.0,1486.5 1190.6,1486.6 1192.2,1489.0 1193.8,1490.4 1195.4,1492.6 1197.0,1492.5 1198.6,1494.1 1200.2,1495.1 1201.8,1496.3 1203.4,1498.4 1205.0,1500.4 1206.6,1499.6 1208.2,1500.7 1209.8,1501.4 1211.4,1500.8 1213.0,1502.3 1214.6,1501.5 1216.2,1503.0 1217.8,1503.0 1219.4,1503.5 1221.0,1503.6 1222.6,1505.5 1224.2,1503.9 1225.8,1504.8" fill="#fff" stroke="#2a2a2a" stroke-width="1.2" stroke-linejoin="round"/>
<path d="M889.8,1507.9 891.8,1507.8 893.8,1507.8 895.8,1507.6 897.8,1507.6 899.8,1507.5 901.8,1507.7 903.8,1506.8 905.8,1506.4 907.8,1506.1 909.8,1505.5 911.8,1504.7 913.8,1504.4 915.8,1503.2 917.8,1502.3 919.8,1501.2 921.8,1499.3 923.8,1497.2 925.8,1493.9 927.8,1490.1 929.8,1485.4 931.8,1478.5 933.8,1469.0 935.8,1457.8 937.8,1444.3 939.8,1428.0 941.8,1408.3 943.8,1386.7 945.8,1362.0 947.8,1334.6 949.8,1306.2 951.8,1277.1 953.8,1247.4 955.8,1217.8 957.8,1189.6 959.8,1166.1 961.8,1144.2 963.8,1129.3 965.8,1118.0 967.5,1113.3 967.8,1113.4 969.8,1114.6 971.8,1122.9 973.8,1135.0 975.8,1152.7 977.8,1175.7 979.8,1200.7 981.8,1228.5 983.8,1258.0 985.8,1284.6 987.8,1313.5 989.8,1339.8 991.8,1364.1 993.8,1385.7 995.8,1403.3 997.8,1419.9 999.8,1431.5 1001.8,1440.9 1003.8,1447.4 1005.8,1451.6 1007.8,1456.7 1009.8,1460.6 1011.8,1463.8 1013.8,1466.1 1015.8,1469.7 1017.8,1473.9 1019.8,1477.1 1021.8,1482.2 1023.8,1483.9 1025.8,1486.2 1027.8,1488.4 1029.8,1489.8 1031.8,1489.2 1033.8,1490.7 1035.8,1490.4 1037.8,1490.6 1039.8,1489.9 1041.8,1490.3 1043.8,1490.4 1045.8,1490.2 1047.8,1490.1 1049.8,1489.9 1051.8,1490.2 1053.8,1489.9 1055.8,1489.2 1057.8,1488.9 1059.8,1489.1 1061.8,1488.5 1063.8,1488.3 1065.8,1488.3 1067.8,1487.3 1069.8,1487.0 1071.8,1485.8 1073.8,1485.4 1075.8,1484.6 1077.8,1484.1 1079.8,1482.7 1081.8,1482.3 1083.8,1480.5 1085.8,1479.0 1087.8,1478.3 1089.8,1476.3 1091.8,1474.6 1093.8,1473.4 1095.8,1471.3 1097.8,1469.7 1099.8,1467.9 1101.8,1466.3 1103.8,1464.0 1105.8,1462.0 1107.8,1458.7 1109.8,1457.1 1111.8,1455.0 1113.8,1453.2 1115.8,1450.1 1117.8,1448.9 1119.8,1446.1 1121.8,1444.4 1123.8,1442.9 1125.8,1441.6 1127.8,1440.0 1129.8,1439.1 1131.8,1437.5 1133.8,1436.4 1135.8,1436.1 1137.8,1435.8 1139.8,1436.3 1141.8,1436.3 1143.8,1437.2 1145.8,1437.8 1147.8,1438.5 1149.8,1439.2 1151.8,1441.4 1153.8,1443.2 1155.8,1445.7 1157.8,1447.2 1159.8,1449.7 1161.8,1452.3 1163.8,1454.8 1165.8,1456.9 1167.8,1459.7 1169.8,1462.0 1171.8,1465.0 1173.8,1467.6 1175.8,1469.8 1177.8,1472.6 1179.8,1475.2 1181.8,1477.5 1183.8,1480.2 1185.8,1482.8 1187.8,1484.9 1189.8,1487.2 1191.8,1488.7 1193.8,1490.7 1195.8,1492.2 1197.8,1493.7 1199.8,1495.6 1201.8,1496.7 1203.8,1497.7 1205.8,1499.1 1207.8,1499.9 1209.8,1501.0 1211.8,1502.0 1213.8,1502.5 1215.8,1503.5 1217.8,1503.5 1219.8,1504.2 1221.8,1504.1 1223.8,1504.9 1225.8,1504.9" fill="#fff" stroke="#3a3a3a" stroke-width="1.2" stroke-linejoin="round"/>
<path d="M942,1507.6 943,1507.5 944,1507.5 945,1507.4 946,1507.3 947,1507.1 948,1507.0 949,1506.9 950,1506.7 951,1506.5 952,1506.3 953,1506.0 954,1505.7 955,1505.4 956,1505.1 957,1504.7 958,1504.4 959,1504.0 960,1503.5 961,1503.1 962,1502.6 963,1502.1 964,1501.6 965,1501.1 966,1500.5 967,1500.0 968,1499.4 969,1498.9 970,1498.3 971,1497.8 972,1497.2 973,1496.7 974,1496.2 975,1495.7 976,1495.3 977,1494.8 978,1494.4 979,1494.0 980,1493.6 981,1493.3 982,1493.0 983,1492.7 984,1492.4 985,1492.2 986,1492.0 987,1491.8 988,1491.6 989,1491.5 990,1491.4 991,1491.3 992,1491.2 993,1491.1 994,1491.0 995,1491.0 996,1490.9 997,1490.9 998,1490.8 999,1490.8 1000,1490.8 1001,1490.8 1002,1490.8 1003,1490.7 1004,1490.7 1005,1490.7 1006,1490.7 1007,1490.7 1008,1490.7 1009,1490.7 1010,1490.7 1011,1490.7 1012,1490.7 1013,1490.7 1014,1490.7 1015,1490.7 1016,1490.7 1017,1490.7 1018,1490.7 1019,1490.7 1020,1490.7 1021,1490.7 1022,1490.7 1023,1490.7 1024,1490.7 1025,1490.7 1026,1490.7 1027,1490.7 1028,1490.7 1029,1490.7 1030,1490.7 1031,1490.7 1032,1490.7 1033,1490.7 1034,1490.7 1035,1490.7 1036,1490.7 1037,1490.7 1038,1490.7 1039,1490.7 1040,1490.7 1041,1490.7 1042,1490.7 1043,1490.7 1044,1490.7 1045,1490.7 1046,1490.7 1047,1490.7 1048,1490.7 1049,1490.7 1050,1490.7 1051,1490.7 1052,1490.7 1053,1490.7 1054,1490.7 1055,1490.7 1056,1490.7 1057,1490.7 1058,1490.7 1059,1490.7 1060,1490.7 1061,1490.7 1062,1490.7 1063,1490.7 1064,1490.7 1065,1490.7 1066,1490.7 1067,1490.7 1068,1490.7 1069,1490.7 1070,1490.7 1071,1490.7 1072,1490.7 1073,1490.7 1074,1490.7 1075,1490.7 1076,1490.7 1077,1490.8 1078,1490.8 1079,1490.8 1080,1490.8 1081,1490.8 1082,1490.8 1083,1490.8 1084,1490.8 1085,1490.8 1086,1490.9 1087,1490.9 1088,1490.9 1089,1490.9 1090,1490.9 1091,1491.0 1092,1491.0 1093,1491.0 1094,1491.1 1095,1491.1 1096,1491.1 1097,1491.2 1098,1491.2 1099,1491.3 1100,1491.3 1101,1491.4 1102,1491.4 1103,1491.5 1104,1491.6 1105,1491.7 1106,1491.7 1107,1491.8 1108,1491.9 1109,1492.0 1110,1492.1 1111,1492.2 1112,1492.4 1113,1492.5 1114,1492.6 1115,1492.7 1116,1492.9 1117,1493.0 1118,1493.2 1119,1493.4 1120,1493.5 1121,1493.7 1122,1493.9 1123,1494.1 1124,1494.3 1125,1494.5 1126,1494.7 1127,1494.9 1128,1495.2 1129,1495.4 1130,1495.6 1131,1495.9 1132,1496.1 1133,1496.4 1134,1496.6 1135,1496.9 1136,1497.2 1137,1497.4 1138,1497.7 1139,1498.0 1140,1498.3 1141,1498.5 1142,1498.8 1143,1499.1 1144,1499.4 1145,1499.7 1146,1499.9 1147,1500.2 1148,1500.5 1149,1500.8 1150,1501.1 1151,1501.3 1152,1501.6 1153,1501.9 1154,1502.1 1155,1502.4 1156,1502.6 1157,1502.9 1158,1503.1 1159,1503.3 1160,1503.6 1161,1503.8 1162,1504.0 1163,1504.2 1164,1504.4 1165,1504.6 1166,1504.8 1167,1505.0 1168,1505.2 1169,1505.3 1170,1505.5 1171,1505.6 1172,1505.8 1173,1505.9 1174,1506.1 1175,1506.2 1176,1506.3 1177,1506.4 1178,1506.5 1179,1506.6 1180,1506.7 1181,1506.8 1182,1506.9 1183,1507.0 1184,1507.1 1185,1507.1 1186,1507.2 1187,1507.3 1188,1507.3 1189,1507.4 1190,1507.4 1191,1507.5 1192,1507.5 1193,1507.5 1194,1507.6 1195,1507.6 1196,1507.6Z" fill="#fff"/>
<path d="M908,1507.6 909,1507.5 910,1507.4 911,1507.3 912,1507.2 913,1507.0 914,1506.7 915,1506.5 916,1506.1 917,1505.7 918,1505.3 919,1504.7 920,1504.0 921,1503.2 922,1502.2 923,1501.1 924,1499.8 925,1498.3 926,1496.5 927,1494.5 928,1492.1 929,1489.4 930,1486.4 931,1482.9 932,1479.0 933,1474.6 934,1469.7 935,1464.3 936,1458.3 937,1451.6 938,1444.4 939,1436.5 940,1427.9 941,1418.6 942,1408.7 943,1398.1 944,1386.8 945,1374.9 946,1362.4 947,1349.3 948,1335.8 949,1321.9 950,1307.6 951,1293.0 952,1278.4 953,1263.7 954,1249.0 955,1234.6 956,1220.6 957,1206.9 958,1193.9 959,1181.7 960,1170.2 961,1159.8 962,1150.4 963,1142.3 964,1135.4 965,1129.9 966,1125.9 967,1123.3 968,1122.2 969,1122.7 970,1124.7 971,1128.1 972,1133.1 973,1139.4 974,1147.0 975,1155.9 976,1165.9 977,1177.0 978,1188.9 979,1201.7 980,1215.0 981,1229.0 982,1243.2 983,1257.8 984,1272.5 985,1287.2 986,1301.8 987,1316.2 988,1330.3 989,1344.0 990,1357.2 991,1369.9 992,1382.1 993,1393.6 994,1404.5 995,1414.7 996,1424.3 997,1433.1 998,1441.3 999,1448.8 1000,1455.7 1001,1462.0 1002,1467.6 1003,1472.7 1004,1477.3 1005,1481.4 1006,1485.0 1007,1488.3 1008,1491.1 1009,1493.6 1010,1495.7 1011,1497.6 1012,1499.2 1013,1500.6 1014,1501.8 1015,1502.8 1016,1503.7 1017,1504.4 1018,1505.0 1019,1505.6 1020,1506.0 1021,1506.3 1022,1506.6 1023,1506.9 1024,1507.1 1025,1507.2 1026,1507.4 1027,1507.5 1028,1507.6 1029,1507.6Z" fill="#fa0000" stroke="#000" stroke-width="2" stroke-linejoin="round"/>
<path d="M1040,1507.6 1041,1507.6 1042,1507.5 1043,1507.5 1044,1507.5 1045,1507.4 1046,1507.4 1047,1507.3 1048,1507.3 1049,1507.2 1050,1507.1 1051,1507.1 1052,1507.0 1053,1506.9 1054,1506.8 1055,1506.7 1056,1506.6 1057,1506.5 1058,1506.3 1059,1506.2 1060,1506.1 1061,1505.9 1062,1505.7 1063,1505.6 1064,1505.4 1065,1505.2 1066,1504.9 1067,1504.7 1068,1504.5 1069,1504.2 1070,1503.9 1071,1503.6 1072,1503.3 1073,1503.0 1074,1502.6 1075,1502.3 1076,1501.9 1077,1501.5 1078,1501.1 1079,1500.6 1080,1500.1 1081,1499.6 1082,1499.1 1083,1498.6 1084,1498.0 1085,1497.4 1086,1496.8 1087,1496.2 1088,1495.5 1089,1494.8 1090,1494.1 1091,1493.4 1092,1492.6 1093,1491.9 1094,1491.0 1095,1490.2 1096,1489.4 1097,1488.5 1098,1487.6 1099,1486.7 1100,1485.7 1101,1484.8 1102,1483.8 1103,1482.8 1104,1481.8 1105,1480.8 1106,1479.8 1107,1478.7 1108,1477.7 1109,1476.6 1110,1475.6 1111,1474.5 1112,1473.4 1113,1472.4 1114,1471.3 1115,1470.2 1116,1469.2 1117,1468.2 1118,1467.1 1119,1466.1 1120,1465.1 1121,1464.1 1122,1463.2 1123,1462.2 1124,1461.3 1125,1460.4 1126,1459.6 1127,1458.8 1128,1458.0 1129,1457.2 1130,1456.5 1131,1455.9 1132,1455.2 1133,1454.7 1134,1454.1 1135,1453.6 1136,1453.2 1137,1452.8 1138,1452.5 1139,1452.2 1140,1452.0 1141,1451.8 1142,1451.7 1143,1451.6 1144,1451.6 1145,1451.6 1146,1451.7 1147,1451.9 1148,1452.1 1149,1452.4 1150,1452.7 1151,1453.0 1152,1453.5 1153,1453.9 1154,1454.4 1155,1455.0 1156,1455.6 1157,1456.3 1158,1456.9 1159,1457.7 1160,1458.4 1161,1459.3 1162,1460.1 1163,1461.0 1164,1461.9 1165,1462.8 1166,1463.7 1167,1464.7 1168,1465.7 1169,1466.7 1170,1467.7 1171,1468.8 1172,1469.8 1173,1470.9 1174,1471.9 1175,1473.0 1176,1474.1 1177,1475.1 1178,1476.2 1179,1477.3 1180,1478.3 1181,1479.4 1182,1480.4 1183,1481.4 1184,1482.4 1185,1483.4 1186,1484.4 1187,1485.4 1188,1486.3 1189,1487.2 1190,1488.1 1191,1489.0 1192,1489.9 1193,1490.7 1194,1491.5 1195,1492.3 1196,1493.1 1197,1493.8 1198,1494.6 1199,1495.3 1200,1495.9 1201,1496.6 1202,1497.2 1203,1497.8 1204,1498.4 1205,1498.9 1206,1499.4 1207,1499.9 1208,1500.4 1209,1500.9 1210,1501.3 1211,1501.7 1212,1502.1 1213,1502.5 1214,1502.9 1215,1503.2 1216,1503.5 1217,1503.8 1218,1504.1 1219,1504.4 1220,1504.6 1221,1504.9 1222,1505.1 1223,1505.3 1224,1505.5 1225,1505.7 1226,1505.8 1227,1506.0 1228,1506.1 1229,1506.3 1230,1506.4 1231,1506.5 1232,1506.6 1233,1506.8 1234,1506.8 1235,1506.9 1236,1507.0 1237,1507.1 1238,1507.2 1239,1507.2 1240,1507.3 1241,1507.3 1242,1507.4 1243,1507.4 1244,1507.5 1245,1507.5 1246,1507.6 1247,1507.6 1248,1507.6Z" fill="#fa0000" stroke="#000" stroke-width="1.8" stroke-linejoin="round"/>
<clipPath id="rclip2"><path d="M908,1507.6 909,1507.5 910,1507.4 911,1507.3 912,1507.2 913,1507.0 914,1506.7 915,1506.5 916,1506.1 917,1505.7 918,1505.3 919,1504.7 920,1504.0 921,1503.2 922,1502.2 923,1501.1 924,1499.8 925,1498.3 926,1496.5 927,1494.5 928,1492.1 929,1489.4 930,1486.4 931,1482.9 932,1479.0 933,1474.6 934,1469.7 935,1464.3 936,1458.3 937,1451.6 938,1444.4 939,1436.5 940,1427.9 941,1418.6 942,1408.7 943,1398.1 944,1386.8 945,1374.9 946,1362.4 947,1349.3 948,1335.8 949,1321.9 950,1307.6 951,1293.0 952,1278.4 953,1263.7 954,1249.0 955,1234.6 956,1220.6 957,1206.9 958,1193.9 959,1181.7 960,1170.2 961,1159.8 962,1150.4 963,1142.3 964,1135.4 965,1129.9 966,1125.9 967,1123.3 968,1122.2 969,1122.7 970,1124.7 971,1128.1 972,1133.1 973,1139.4 974,1147.0 975,1155.9 976,1165.9 977,1177.0 978,1188.9 979,1201.7 980,1215.0 981,1229.0 982,1243.2 983,1257.8 984,1272.5 985,1287.2 986,1301.8 987,1316.2 988,1330.3 989,1344.0 990,1357.2 991,1369.9 992,1382.1 993,1393.6 994,1404.5 995,1414.7 996,1424.3 997,1433.1 998,1441.3 999,1448.8 1000,1455.7 1001,1462.0 1002,1467.6 1003,1472.7 1004,1477.3 1005,1481.4 1006,1485.0 1007,1488.3 1008,1491.1 1009,1493.6 1010,1495.7 1011,1497.6 1012,1499.2 1013,1500.6 1014,1501.8 1015,1502.8 1016,1503.7 1017,1504.4 1018,1505.0 1019,1505.6 1020,1506.0 1021,1506.3 1022,1506.6 1023,1506.9 1024,1507.1 1025,1507.2 1026,1507.4 1027,1507.5 1028,1507.6 1029,1507.6Z"/><path d="M1040,1507.6 1041,1507.6 1042,1507.5 1043,1507.5 1044,1507.5 1045,1507.4 1046,1507.4 1047,1507.3 1048,1507.3 1049,1507.2 1050,1507.1 1051,1507.1 1052,1507.0 1053,1506.9 1054,1506.8 1055,1506.7 1056,1506.6 1057,1506.5 1058,1506.3 1059,1506.2 1060,1506.1 1061,1505.9 1062,1505.7 1063,1505.6 1064,1505.4 1065,1505.2 1066,1504.9 1067,1504.7 1068,1504.5 1069,1504.2 1070,1503.9 1071,1503.6 1072,1503.3 1073,1503.0 1074,1502.6 1075,1502.3 1076,1501.9 1077,1501.5 1078,1501.1 1079,1500.6 1080,1500.1 1081,1499.6 1082,1499.1 1083,1498.6 1084,1498.0 1085,1497.4 1086,1496.8 1087,1496.2 1088,1495.5 1089,1494.8 1090,1494.1 1091,1493.4 1092,1492.6 1093,1491.9 1094,1491.0 1095,1490.2 1096,1489.4 1097,1488.5 1098,1487.6 1099,1486.7 1100,1485.7 1101,1484.8 1102,1483.8 1103,1482.8 1104,1481.8 1105,1480.8 1106,1479.8 1107,1478.7 1108,1477.7 1109,1476.6 1110,1475.6 1111,1474.5 1112,1473.4 1113,1472.4 1114,1471.3 1115,1470.2 1116,1469.2 1117,1468.2 1118,1467.1 1119,1466.1 1120,1465.1 1121,1464.1 1122,1463.2 1123,1462.2 1124,1461.3 1125,1460.4 1126,1459.6 1127,1458.8 1128,1458.0 1129,1457.2 1130,1456.5 1131,1455.9 1132,1455.2 1133,1454.7 1134,1454.1 1135,1453.6 1136,1453.2 1137,1452.8 1138,1452.5 1139,1452.2 1140,1452.0 1141,1451.8 1142,1451.7 1143,1451.6 1144,1451.6 1145,1451.6 1146,1451.7 1147,1451.9 1148,1452.1 1149,1452.4 1150,1452.7 1151,1453.0 1152,1453.5 1153,1453.9 1154,1454.4 1155,1455.0 1156,1455.6 1157,1456.3 1158,1456.9 1159,1457.7 1160,1458.4 1161,1459.3 1162,1460.1 1163,1461.0 1164,1461.9 1165,1462.8 1166,1463.7 1167,1464.7 1168,1465.7 1169,1466.7 1170,1467.7 1171,1468.8 1172,1469.8 1173,1470.9 1174,1471.9 1175,1473.0 1176,1474.1 1177,1475.1 1178,1476.2 1179,1477.3 1180,1478.3 1181,1479.4 1182,1480.4 1183,1481.4 1184,1482.4 1185,1483.4 1186,1484.4 1187,1485.4 1188,1486.3 1189,1487.2 1190,1488.1 1191,1489.0 1192,1489.9 1193,1490.7 1194,1491.5 1195,1492.3 1196,1493.1 1197,1493.8 1198,1494.6 1199,1495.3 1200,1495.9 1201,1496.6 1202,1497.2 1203,1497.8 1204,1498.4 1205,1498.9 1206,1499.4 1207,1499.9 1208,1500.4 1209,1500.9 1210,1501.3 1211,1501.7 1212,1502.1 1213,1502.5 1214,1502.9 1215,1503.2 1216,1503.5 1217,1503.8 1218,1504.1 1219,1504.4 1220,1504.6 1221,1504.9 1222,1505.1 1223,1505.3 1224,1505.5 1225,1505.7 1226,1505.8 1227,1506.0 1228,1506.1 1229,1506.3 1230,1506.4 1231,1506.5 1232,1506.6 1233,1506.8 1234,1506.8 1235,1506.9 1236,1507.0 1237,1507.1 1238,1507.2 1239,1507.2 1240,1507.3 1241,1507.3 1242,1507.4 1243,1507.4 1244,1507.5 1245,1507.5 1246,1507.6 1247,1507.6 1248,1507.6Z"/></clipPath>
<g clip-path="url(#sclip2)" fill="none" stroke-width="1.5">
<path d="M897.2,1486.7l23.2,23.2M907.8,1486.7l23.2,23.2M918.4,1486.7l23.2,23.2M929.0,1486.7l23.2,23.2M939.6,1486.7l23.2,23.2M950.2,1486.7l23.2,23.2M960.8,1486.7l23.2,23.2M971.4,1486.7l23.2,23.2M982.0,1486.7l23.2,23.2M992.6,1486.7l23.2,23.2M1003.2,1486.7l23.2,23.2M1013.8,1486.7l23.2,23.2M1024.4,1486.7l23.2,23.2M1035.0,1486.7l23.2,23.2M1045.6,1486.7l23.2,23.2M1056.2,1486.7l23.2,23.2M1066.8,1486.7l23.2,23.2M1077.4,1486.7l23.2,23.2M1088.0,1486.7l23.2,23.2M1098.6,1486.7l23.2,23.2M1109.2,1486.7l23.2,23.2M1119.8,1486.7l23.2,23.2M1130.4,1486.7l23.2,23.2M1141.0,1486.7l23.2,23.2M1151.6,1486.7l23.2,23.2M1162.2,1486.7l23.2,23.2M1172.8,1486.7l23.2,23.2M1183.4,1486.7l23.2,23.2M1194.0,1486.7l23.2,23.2M1204.6,1486.7l23.2,23.2M1215.2,1486.7l23.2,23.2M1225.8,1486.7l23.2,23.2M1236.4,1486.7l23.2,23.2" stroke="#4a4aff"/>
<g clip-path="url(#rclip2)"><path d="M897.2,1486.7l23.2,23.2M907.8,1486.7l23.2,23.2M918.4,1486.7l23.2,23.2M929.0,1486.7l23.2,23.2M939.6,1486.7l23.2,23.2M950.2,1486.7l23.2,23.2M960.8,1486.7l23.2,23.2M971.4,1486.7l23.2,23.2M982.0,1486.7l23.2,23.2M992.6,1486.7l23.2,23.2M1003.2,1486.7l23.2,23.2M1013.8,1486.7l23.2,23.2M1024.4,1486.7l23.2,23.2M1035.0,1486.7l23.2,23.2M1045.6,1486.7l23.2,23.2M1056.2,1486.7l23.2,23.2M1066.8,1486.7l23.2,23.2M1077.4,1486.7l23.2,23.2M1088.0,1486.7l23.2,23.2M1098.6,1486.7l23.2,23.2M1109.2,1486.7l23.2,23.2M1119.8,1486.7l23.2,23.2M1130.4,1486.7l23.2,23.2M1141.0,1486.7l23.2,23.2M1151.6,1486.7l23.2,23.2M1162.2,1486.7l23.2,23.2M1172.8,1486.7l23.2,23.2M1183.4,1486.7l23.2,23.2M1194.0,1486.7l23.2,23.2M1204.6,1486.7l23.2,23.2M1215.2,1486.7l23.2,23.2M1225.8,1486.7l23.2,23.2M1236.4,1486.7l23.2,23.2" stroke="#7a0a8c" stroke-width="1.5"/></g>
</g>
<path d="M942,1507.6 943,1507.5 944,1507.5 945,1507.4 946,1507.3 947,1507.1 948,1507.0 949,1506.9 950,1506.7 951,1506.5 952,1506.3 953,1506.0 954,1505.7 955,1505.4 956,1505.1 957,1504.7 958,1504.4 959,1504.0 960,1503.5 961,1503.1 962,1502.6 963,1502.1 964,1501.6 965,1501.1 966,1500.5 967,1500.0 968,1499.4 969,1498.9 970,1498.3 971,1497.8 972,1497.2 973,1496.7 974,1496.2 975,1495.7 976,1495.3 977,1494.8 978,1494.4 979,1494.0 980,1493.6 981,1493.3 982,1493.0 983,1492.7 984,1492.4 985,1492.2 986,1492.0 987,1491.8 988,1491.6 989,1491.5 990,1491.4 991,1491.3 992,1491.2 993,1491.1 994,1491.0 995,1491.0 996,1490.9 997,1490.9 998,1490.8 999,1490.8 1000,1490.8 1001,1490.8 1002,1490.8 1003,1490.7 1004,1490.7 1005,1490.7 1006,1490.7 1007,1490.7 1008,1490.7 1009,1490.7 1010,1490.7 1011,1490.7 1012,1490.7 1013,1490.7 1014,1490.7 1015,1490.7 1016,1490.7 1017,1490.7 1018,1490.7 1019,1490.7 1020,1490.7 1021,1490.7 1022,1490.7 1023,1490.7 1024,1490.7 1025,1490.7 1026,1490.7 1027,1490.7 1028,1490.7 1029,1490.7 1030,1490.7 1031,1490.7 1032,1490.7 1033,1490.7 1034,1490.7 1035,1490.7 1036,1490.7 1037,1490.7 1038,1490.7 1039,1490.7 1040,1490.7 1041,1490.7 1042,1490.7 1043,1490.7 1044,1490.7 1045,1490.7 1046,1490.7 1047,1490.7 1048,1490.7 1049,1490.7 1050,1490.7 1051,1490.7 1052,1490.7 1053,1490.7 1054,1490.7 1055,1490.7 1056,1490.7 1057,1490.7 1058,1490.7 1059,1490.7 1060,1490.7 1061,1490.7 1062,1490.7 1063,1490.7 1064,1490.7 1065,1490.7 1066,1490.7 1067,1490.7 1068,1490.7 1069,1490.7 1070,1490.7 1071,1490.7 1072,1490.7 1073,1490.7 1074,1490.7 1075,1490.7 1076,1490.7 1077,1490.8 1078,1490.8 1079,1490.8 1080,1490.8 1081,1490.8 1082,1490.8 1083,1490.8 1084,1490.8 1085,1490.8 1086,1490.9 1087,1490.9 1088,1490.9 1089,1490.9 1090,1490.9 1091,1491.0 1092,1491.0 1093,1491.0 1094,1491.1 1095,1491.1 1096,1491.1 1097,1491.2 1098,1491.2 1099,1491.3 1100,1491.3 1101,1491.4 1102,1491.4 1103,1491.5 1104,1491.6 1105,1491.7 1106,1491.7 1107,1491.8 1108,1491.9 1109,1492.0 1110,1492.1 1111,1492.2 1112,1492.4 1113,1492.5 1114,1492.6 1115,1492.7 1116,1492.9 1117,1493.0 1118,1493.2 1119,1493.4 1120,1493.5 1121,1493.7 1122,1493.9 1123,1494.1 1124,1494.3 1125,1494.5 1126,1494.7 1127,1494.9 1128,1495.2 1129,1495.4 1130,1495.6 1131,1495.9 1132,1496.1 1133,1496.4 1134,1496.6 1135,1496.9 1136,1497.2 1137,1497.4 1138,1497.7 1139,1498.0 1140,1498.3 1141,1498.5 1142,1498.8 1143,1499.1 1144,1499.4 1145,1499.7 1146,1499.9 1147,1500.2 1148,1500.5 1149,1500.8 1150,1501.1 1151,1501.3 1152,1501.6 1153,1501.9 1154,1502.1 1155,1502.4 1156,1502.6 1157,1502.9 1158,1503.1 1159,1503.3 1160,1503.6 1161,1503.8 1162,1504.0 1163,1504.2 1164,1504.4 1165,1504.6 1166,1504.8 1167,1505.0 1168,1505.2 1169,1505.3 1170,1505.5 1171,1505.6 1172,1505.8 1173,1505.9 1174,1506.1 1175,1506.2 1176,1506.3 1177,1506.4 1178,1506.5 1179,1506.6 1180,1506.7 1181,1506.8 1182,1506.9 1183,1507.0 1184,1507.1 1185,1507.1 1186,1507.2 1187,1507.3 1188,1507.3 1189,1507.4 1190,1507.4 1191,1507.5 1192,1507.5 1193,1507.5 1194,1507.6 1195,1507.6 1196,1507.6Z" fill="none" stroke="#111" stroke-width="1.4"/>
<line x1="775.80" y1="1075.38" x2="775.80" y2="1528.90" stroke="#3a3a3a" stroke-width="2.1"/>
<line x1="755.80" y1="1507.90" x2="890.80" y2="1507.90" stroke="#111" stroke-width="2.4"/>
<line x1="1224.90" y1="1507.90" x2="1282.00" y2="1507.90" stroke="#111" stroke-width="2.4"/>
<line x1="889.80" y1="1508.20" x2="1225.90" y2="1508.20" stroke="#7f8f8f" stroke-width="2.2"/>
<text x="747.80" y="1512.38" font-size="23" font-weight="bold" fill="#0a0a0a" transform="rotate(-90 747.80 1512.38)">0</text>
<line x1="766.50" y1="1489.92" x2="775.80" y2="1489.92" stroke="#3a3a3a" stroke-width="1.9"/>
<line x1="766.50" y1="1471.94" x2="775.80" y2="1471.94" stroke="#3a3a3a" stroke-width="1.9"/>
<line x1="766.50" y1="1453.96" x2="775.80" y2="1453.96" stroke="#3a3a3a" stroke-width="1.9"/>
<line x1="766.50" y1="1435.98" x2="775.80" y2="1435.98" stroke="#3a3a3a" stroke-width="1.9"/>
<line x1="756.00" y1="1418.00" x2="775.80" y2="1418.00" stroke="#3a3a3a" stroke-width="1.9"/>
<text x="747.80" y="1437.09" font-size="23" font-weight="bold" fill="#0a0a0a" transform="rotate(-90 747.80 1437.09)">500</text>
<line x1="766.50" y1="1400.02" x2="775.80" y2="1400.02" stroke="#3a3a3a" stroke-width="1.9"/>
<line x1="766.50" y1="1382.04" x2="775.80" y2="1382.04" stroke="#3a3a3a" stroke-width="1.9"/>
<line x1="766.50" y1="1364.06" x2="775.80" y2="1364.06" stroke="#3a3a3a" stroke-width="1.9"/>
<line x1="766.50" y1="1346.08" x2="775.80" y2="1346.08" stroke="#3a3a3a" stroke-width="1.9"/>
<line x1="756.00" y1="1328.10" x2="775.80" y2="1328.10" stroke="#3a3a3a" stroke-width="1.9"/>
<text x="747.80" y="1353.92" font-size="23" font-weight="bold" fill="#0a0a0a" transform="rotate(-90 747.80 1353.92)">1000</text>
<line x1="766.50" y1="1310.12" x2="775.80" y2="1310.12" stroke="#3a3a3a" stroke-width="1.9"/>
<line x1="766.50" y1="1292.14" x2="775.80" y2="1292.14" stroke="#3a3a3a" stroke-width="1.9"/>
<line x1="766.50" y1="1274.16" x2="775.80" y2="1274.16" stroke="#3a3a3a" stroke-width="1.9"/>
<line x1="766.50" y1="1256.18" x2="775.80" y2="1256.18" stroke="#3a3a3a" stroke-width="1.9"/>
<line x1="756.00" y1="1238.20" x2="775.80" y2="1238.20" stroke="#3a3a3a" stroke-width="1.9"/>
<text x="747.80" y="1266.72" font-size="23" font-weight="bold" fill="#0a0a0a" transform="rotate(-90 747.80 1266.72)">1500</text>
<line x1="766.50" y1="1220.22" x2="775.80" y2="1220.22" stroke="#3a3a3a" stroke-width="1.9"/>
<line x1="766.50" y1="1202.24" x2="775.80" y2="1202.24" stroke="#3a3a3a" stroke-width="1.9"/>
<line x1="766.50" y1="1184.26" x2="775.80" y2="1184.26" stroke="#3a3a3a" stroke-width="1.9"/>
<line x1="766.50" y1="1166.28" x2="775.80" y2="1166.28" stroke="#3a3a3a" stroke-width="1.9"/>
<line x1="756.00" y1="1148.30" x2="775.80" y2="1148.30" stroke="#3a3a3a" stroke-width="1.9"/>
<text x="747.80" y="1176.40" font-size="23" font-weight="bold" fill="#0a0a0a" transform="rotate(-90 747.80 1176.40)">2000</text>
<line x1="766.50" y1="1130.32" x2="775.80" y2="1130.32" stroke="#3a3a3a" stroke-width="1.9"/>
<line x1="766.50" y1="1112.34" x2="775.80" y2="1112.34" stroke="#3a3a3a" stroke-width="1.9"/>
<line x1="766.50" y1="1094.36" x2="775.80" y2="1094.36" stroke="#3a3a3a" stroke-width="1.9"/>
<line x1="756.00" y1="1076.38" x2="775.80" y2="1076.38" stroke="#3a3a3a" stroke-width="1.9"/>
<text x="747.80" y="1100.20" font-size="23" font-weight="bold" fill="#0a0a0a" transform="rotate(-90 747.80 1100.20)">2500</text>
<line x1="796.85" y1="1507.90" x2="796.85" y2="1518.30" stroke="#3a3a3a" stroke-width="2.0"/>
<line x1="817.90" y1="1507.90" x2="817.90" y2="1518.30" stroke="#3a3a3a" stroke-width="2.0"/>
<line x1="838.95" y1="1507.90" x2="838.95" y2="1518.30" stroke="#3a3a3a" stroke-width="2.0"/>
<line x1="860.00" y1="1507.90" x2="860.00" y2="1528.50" stroke="#3a3a3a" stroke-width="2.0"/>
<line x1="881.05" y1="1507.90" x2="881.05" y2="1518.30" stroke="#3a3a3a" stroke-width="2.0"/>
<line x1="902.10" y1="1507.90" x2="902.10" y2="1518.30" stroke="#3a3a3a" stroke-width="2.0"/>
<line x1="923.15" y1="1507.90" x2="923.15" y2="1518.30" stroke="#3a3a3a" stroke-width="2.0"/>
<line x1="944.20" y1="1507.90" x2="944.20" y2="1528.50" stroke="#3a3a3a" stroke-width="2.0"/>
<line x1="965.25" y1="1507.90" x2="965.25" y2="1518.30" stroke="#3a3a3a" stroke-width="2.0"/>
<line x1="986.30" y1="1507.90" x2="986.30" y2="1518.30" stroke="#3a3a3a" stroke-width="2.0"/>
<line x1="1007.35" y1="1507.90" x2="1007.35" y2="1518.30" stroke="#3a3a3a" stroke-width="2.0"/>
<line x1="1028.40" y1="1507.90" x2="1028.40" y2="1528.50" stroke="#3a3a3a" stroke-width="2.0"/>
<line x1="1049.45" y1="1507.90" x2="1049.45" y2="1518.30" stroke="#3a3a3a" stroke-width="2.0"/>
<line x1="1070.50" y1="1507.90" x2="1070.50" y2="1518.30" stroke="#3a3a3a" stroke-width="2.0"/>
<line x1="1091.55" y1="1507.90" x2="1091.55" y2="1518.30" stroke="#3a3a3a" stroke-width="2.0"/>
<line x1="1112.60" y1="1507.90" x2="1112.60" y2="1528.50" stroke="#3a3a3a" stroke-width="2.0"/>
<line x1="1133.65" y1="1507.90" x2="1133.65" y2="1518.30" stroke="#3a3a3a" stroke-width="2.0"/>
<line x1="1154.70" y1="1507.90" x2="1154.70" y2="1518.30" stroke="#3a3a3a" stroke-width="2.0"/>
<line x1="1175.75" y1="1507.90" x2="1175.75" y2="1518.30" stroke="#3a3a3a" stroke-width="2.0"/>
<line x1="1196.80" y1="1507.90" x2="1196.80" y2="1528.50" stroke="#3a3a3a" stroke-width="2.0"/>
<line x1="1217.85" y1="1507.90" x2="1217.85" y2="1518.30" stroke="#3a3a3a" stroke-width="2.0"/>
<line x1="1238.90" y1="1507.90" x2="1238.90" y2="1518.30" stroke="#3a3a3a" stroke-width="2.0"/>
<line x1="1259.95" y1="1507.90" x2="1259.95" y2="1518.30" stroke="#3a3a3a" stroke-width="2.0"/>
<line x1="1281.00" y1="1507.90" x2="1281.00" y2="1528.50" stroke="#3a3a3a" stroke-width="2.0"/>
<text x="766.66" y="1551.60" font-size="22.8" font-weight="bold" fill="#0a0a0a" textLength="13.11" lengthAdjust="spacingAndGlyphs">0</text>
<text x="844.29" y="1549.40" font-size="22.8" font-weight="bold" fill="#0a0a0a" textLength="25.90" lengthAdjust="spacingAndGlyphs">20</text>
<text x="928.86" y="1549.40" font-size="22.8" font-weight="bold" fill="#0a0a0a" textLength="25.09" lengthAdjust="spacingAndGlyphs">40</text>
<text x="1012.43" y="1549.40" font-size="22.8" font-weight="bold" fill="#0a0a0a" textLength="25.86" lengthAdjust="spacingAndGlyphs">60</text>
<text x="1096.55" y="1549.40" font-size="22.8" font-weight="bold" fill="#0a0a0a" textLength="25.73" lengthAdjust="spacingAndGlyphs">80</text>
<text x="1174.23" y="1549.40" font-size="22.8" font-weight="bold" fill="#0a0a0a" textLength="39.23" lengthAdjust="spacingAndGlyphs">100</text>
<text x="1255.43" y="1551.90" font-size="22.8" font-weight="bold" fill="#0a0a0a" textLength="39.23" lengthAdjust="spacingAndGlyphs">120</text>
<path d="M957.4,1523.0 L973.4,1523.0 L965.4,1508.4 Z" fill="#000"/>
<path d="M1129.8,1523.0 L1145.8,1523.0 L1137.8,1508.4 Z" fill="#000"/>
<rect x="1139.70" y="1104.50" width="22.10" height="20.00" fill="#fa0000" stroke="#16302e" stroke-width="1.6"/>
<rect x="1139.70" y="1130.30" width="22.10" height="19.40" fill="#fa0000" stroke="#16302e" stroke-width="1.6"/>
<rect x="1139.70" y="1155.40" width="22.10" height="20.10" fill="#fff" stroke="none" stroke-width="0"/>
<clipPath id="lg2"><rect x="1139.7" y="1155.4" width="22.1" height="20.1"/></clipPath>
<g clip-path="url(#lg2)">
<line x1="1122.10" y1="1154.60" x2="1146.10" y2="1180.10" stroke="#3c3cff" stroke-width="2.0"/>
<line x1="1136.30" y1="1154.60" x2="1160.30" y2="1180.10" stroke="#3c3cff" stroke-width="2.0"/>
<line x1="1151.20" y1="1154.60" x2="1175.20" y2="1180.10" stroke="#3c3cff" stroke-width="2.0"/>
</g>
<rect x="1139.70" y="1155.40" width="22.10" height="20.10" fill="none" stroke="#1c1c1c" stroke-width="1.6"/>
<text x="1171.52" y="1120.70" font-size="23.6" font-weight="bold" fill="#000" textLength="161.22" lengthAdjust="spacingAndGlyphs">Dip G1 67.58%</text>
<text x="1170.83" y="1149.10" font-size="23.6" font-weight="bold" fill="#000" textLength="160.61" lengthAdjust="spacingAndGlyphs">Dip G2 18.66%</text>
<text x="1168.71" y="1175.30" font-size="23.6" font-weight="bold" fill="#000">Dip S</text>
<text x="1248.46" y="1175.30" font-size="23.6" font-weight="bold" fill="#000" textLength="78.36" lengthAdjust="spacingAndGlyphs">13.76%</text>
<text x="957.41" y="1588.40" font-size="23.5" font-weight="bold" fill="#000">FL2-A PE-A</text>
<text x="957.70" y="1638.70" font-size="37.6" font-weight="bold" fill="#000" textLength="178.08" lengthAdjust="spacingAndGlyphs">shDDB1-1</text>
<text x="707.60" y="1327.07" font-size="23" font-weight="bold" fill="#000" transform="rotate(-90 707.60 1327.07)">Number</text>
<clipPath id="sclip3"><path d="M1586,1502.3 1587,1502.3 1588,1502.2 1589,1502.1 1590,1502.0 1591,1501.8 1592,1501.7 1593,1501.5 1594,1501.3 1595,1501.0 1596,1500.7 1597,1500.4 1598,1500.0 1599,1499.6 1600,1499.1 1601,1498.6 1602,1498.0 1603,1497.3 1604,1496.6 1605,1495.8 1606,1494.9 1607,1494.0 1608,1493.1 1609,1492.0 1610,1491.0 1611,1489.8 1612,1488.7 1613,1487.4 1614,1486.2 1615,1484.9 1616,1483.6 1617,1482.3 1618,1481.0 1619,1479.7 1620,1478.4 1621,1477.2 1622,1475.9 1623,1474.7 1624,1473.6 1625,1472.5 1626,1471.4 1627,1470.4 1628,1469.5 1629,1468.6 1630,1467.8 1631,1467.1 1632,1466.4 1633,1465.8 1634,1465.2 1635,1464.7 1636,1464.3 1637,1463.9 1638,1463.5 1639,1463.2 1640,1462.9 1641,1462.7 1642,1462.5 1643,1462.3 1644,1462.2 1645,1462.1 1646,1461.9 1647,1461.9 1648,1461.8 1649,1461.7 1650,1461.7 1651,1461.6 1652,1461.6 1653,1461.6 1654,1461.6 1655,1461.6 1656,1461.5 1657,1461.5 1658,1461.5 1659,1461.5 1660,1461.5 1661,1461.5 1662,1461.5 1663,1461.5 1664,1461.5 1665,1461.5 1666,1461.5 1667,1461.5 1668,1461.5 1669,1461.5 1670,1461.5 1671,1461.5 1672,1461.5 1673,1461.5 1674,1461.5 1675,1461.5 1676,1461.5 1677,1461.5 1678,1461.5 1679,1461.5 1680,1461.5 1681,1461.5 1682,1461.5 1683,1461.5 1684,1461.5 1685,1461.5 1686,1461.5 1687,1461.5 1688,1461.5 1689,1461.5 1690,1461.5 1691,1461.5 1692,1461.5 1693,1461.5 1694,1461.5 1695,1461.5 1696,1461.5 1697,1461.5 1698,1461.5 1699,1461.5 1700,1461.5 1701,1461.5 1702,1461.5 1703,1461.5 1704,1461.5 1705,1461.5 1706,1461.5 1707,1461.5 1708,1461.5 1709,1461.5 1710,1461.5 1711,1461.5 1712,1461.5 1713,1461.5 1714,1461.5 1715,1461.5 1716,1461.5 1717,1461.5 1718,1461.5 1719,1461.5 1720,1461.5 1721,1461.6 1722,1461.6 1723,1461.6 1724,1461.6 1725,1461.6 1726,1461.6 1727,1461.6 1728,1461.6 1729,1461.7 1730,1461.7 1731,1461.7 1732,1461.7 1733,1461.7 1734,1461.8 1735,1461.8 1736,1461.9 1737,1461.9 1738,1461.9 1739,1462.0 1740,1462.1 1741,1462.1 1742,1462.2 1743,1462.3 1744,1462.4 1745,1462.4 1746,1462.5 1747,1462.6 1748,1462.8 1749,1462.9 1750,1463.0 1751,1463.2 1752,1463.3 1753,1463.5 1754,1463.7 1755,1463.9 1756,1464.1 1757,1464.3 1758,1464.6 1759,1464.8 1760,1465.1 1761,1465.4 1762,1465.7 1763,1466.0 1764,1466.3 1765,1466.7 1766,1467.1 1767,1467.4 1768,1467.8 1769,1468.3 1770,1468.7 1771,1469.2 1772,1469.7 1773,1470.2 1774,1470.7 1775,1471.2 1776,1471.7 1777,1472.3 1778,1472.9 1779,1473.5 1780,1474.1 1781,1474.7 1782,1475.3 1783,1476.0 1784,1476.6 1785,1477.3 1786,1478.0 1787,1478.7 1788,1479.3 1789,1480.0 1790,1480.7 1791,1481.4 1792,1482.1 1793,1482.8 1794,1483.5 1795,1484.2 1796,1484.9 1797,1485.6 1798,1486.3 1799,1486.9 1800,1487.6 1801,1488.2 1802,1488.9 1803,1489.5 1804,1490.1 1805,1490.7 1806,1491.3 1807,1491.9 1808,1492.5 1809,1493.0 1810,1493.5 1811,1494.1 1812,1494.5 1813,1495.0 1814,1495.5 1815,1495.9 1816,1496.3 1817,1496.7 1818,1497.1 1819,1497.5 1820,1497.8 1821,1498.2 1822,1498.5 1823,1498.8 1824,1499.1 1825,1499.3 1826,1499.6 1827,1499.8 1828,1500.0 1829,1500.3 1830,1500.4 1831,1500.6 1832,1500.8 1833,1501.0 1834,1501.1 1835,1501.2 1836,1501.4 1837,1501.5 1838,1501.6 1839,1501.7 1840,1501.8 1841,1501.8 1842,1501.9 1843,1502.0 1844,1502.1 1845,1502.1 1846,1502.2 1847,1502.2 1848,1502.3 1849,1502.3 1850,1502.3Z"/></clipPath>
<path d="M1544.0,1502.4 1545.6,1501.5 1547.2,1502.6 1548.8,1501.2 1550.4,1501.8 1552.0,1501.4 1553.6,1499.3 1555.2,1500.0 1556.8,1499.4 1558.4,1498.0 1560.0,1496.9 1561.6,1496.9 1563.2,1495.4 1564.8,1495.7 1566.4,1494.2 1568.0,1493.2 1569.6,1492.8 1571.2,1491.6 1572.8,1490.0 1574.4,1486.5 1576.0,1483.5 1577.6,1479.8 1579.2,1474.7 1580.8,1470.1 1582.4,1461.5 1584.0,1452.4 1585.6,1441.4 1587.2,1431.3 1588.8,1417.1 1590.4,1403.8 1592.0,1384.8 1593.6,1368.7 1595.2,1347.7 1596.8,1322.8 1598.4,1305.9 1600.0,1278.4 1601.6,1256.2 1603.2,1234.4 1604.8,1210.6 1606.4,1188.4 1608.0,1165.6 1609.6,1146.5 1611.2,1126.8 1612.8,1109.7 1614.4,1098.9 1614.5,1096.5 1616.0,1094.0 1617.6,1092.2 1619.2,1103.9 1620.8,1110.8 1622.4,1120.6 1624.0,1134.7 1625.6,1141.3 1627.2,1165.6 1628.8,1179.8 1630.4,1200.0 1632.0,1216.9 1633.6,1244.5 1635.2,1260.8 1636.8,1284.9 1638.4,1304.4 1640.0,1324.6 1641.6,1340.8 1643.2,1360.1 1644.8,1373.6 1646.4,1386.3 1648.0,1395.8 1649.6,1410.8 1651.2,1409.7 1652.8,1418.0 1654.4,1427.8 1656.0,1428.2 1657.6,1433.4 1659.2,1427.8 1660.8,1434.7 1662.4,1438.1 1664.0,1440.3 1665.6,1442.7 1667.2,1445.4 1668.8,1450.6 1670.4,1443.6 1672.0,1459.5 1673.6,1467.2 1675.2,1457.6 1676.8,1459.1 1678.4,1458.4 1680.0,1460.9 1681.6,1461.2 1683.2,1459.9 1684.8,1458.0 1686.4,1461.6 1688.0,1461.6 1689.6,1459.1 1691.2,1460.6 1692.8,1462.1 1694.4,1458.5 1696.0,1460.1 1697.6,1461.4 1699.2,1461.9 1700.8,1460.2 1702.4,1461.3 1704.0,1461.3 1705.6,1461.4 1707.2,1460.3 1708.8,1458.3 1710.4,1459.7 1712.0,1460.4 1713.6,1457.8 1715.2,1458.0 1716.8,1456.7 1718.4,1455.7 1720.0,1456.7 1721.6,1456.0 1723.2,1455.2 1724.8,1455.6 1726.4,1452.7 1728.0,1451.0 1729.6,1451.3 1731.2,1450.7 1732.8,1449.5 1734.4,1448.8 1736.0,1447.5 1737.6,1445.6 1739.2,1444.5 1740.8,1442.4 1742.4,1441.9 1744.0,1437.8 1745.6,1436.3 1747.2,1435.7 1748.8,1434.9 1750.4,1430.0 1752.0,1426.4 1753.6,1426.4 1755.2,1423.7 1756.8,1421.5 1758.4,1417.6 1760.0,1417.1 1761.6,1412.4 1763.2,1411.7 1764.8,1407.8 1766.4,1406.7 1768.0,1404.9 1769.6,1404.5 1771.2,1401.6 1772.8,1399.3 1774.4,1396.5 1776.0,1395.6 1777.6,1395.6 1779.2,1393.2 1780.8,1391.6 1782.4,1392.6 1784.0,1392.7 1785.6,1392.6 1787.2,1391.2 1788.8,1392.1 1790.4,1394.8 1792.0,1394.1 1793.6,1396.5 1795.2,1398.4 1796.8,1397.6 1798.4,1400.1 1800.0,1404.3 1801.6,1405.7 1803.2,1407.8 1804.8,1412.0 1806.4,1414.3 1808.0,1416.3 1809.6,1422.5 1811.2,1423.2 1812.8,1426.0 1814.4,1429.6 1816.0,1435.2 1817.6,1436.6 1819.2,1441.4 1820.8,1443.1 1822.4,1446.4 1824.0,1450.1 1825.6,1454.4 1827.2,1457.3 1828.8,1458.7 1830.4,1463.5 1832.0,1464.8 1833.6,1467.5 1835.2,1470.9 1836.8,1470.7 1838.4,1475.4 1840.0,1475.5 1841.6,1481.7 1843.2,1483.8 1844.8,1482.6 1846.4,1484.6 1848.0,1487.1 1849.6,1488.3 1851.2,1491.3 1852.8,1491.4 1854.4,1492.9 1856.0,1493.3 1857.6,1493.3 1859.2,1494.9 1860.8,1495.4 1862.4,1496.9 1864.0,1497.3 1865.6,1497.4 1867.2,1498.1 1868.8,1497.3 1870.4,1499.3 1872.0,1497.5 1873.6,1499.9 1875.2,1498.5 1876.8,1500.1 1878.4,1498.3 1880.0,1499.6 1881.6,1499.5 1883.2,1499.3 1884.8,1500.4 1886.4,1500.7 1888.0,1501.5 1889.6,1499.2 1891.2,1500.7 1892.8,1500.7" fill="#fff" stroke="#2a2a2a" stroke-width="1.2" stroke-linejoin="round"/>
<path d="M1544.0,1502.4 1546.0,1501.9 1548.0,1502.4 1550.0,1501.7 1552.0,1501.3 1554.0,1500.5 1556.0,1500.2 1558.0,1498.9 1560.0,1497.6 1562.0,1496.3 1564.0,1495.2 1566.0,1494.6 1568.0,1493.2 1570.0,1491.9 1572.0,1490.5 1574.0,1488.3 1576.0,1484.6 1578.0,1480.4 1580.0,1474.6 1582.0,1466.6 1584.0,1457.4 1586.0,1444.7 1588.0,1430.1 1590.0,1412.7 1592.0,1392.4 1594.0,1369.9 1596.0,1344.9 1598.0,1318.1 1600.0,1289.2 1602.0,1261.4 1604.0,1232.1 1606.0,1204.6 1608.0,1179.4 1610.0,1156.0 1612.0,1137.6 1614.0,1121.7 1616.0,1113.2 1617.0,1110.2 1618.0,1109.0 1620.0,1111.1 1622.0,1119.0 1624.0,1132.0 1626.0,1149.9 1628.0,1171.2 1630.0,1194.2 1632.0,1220.0 1634.0,1247.1 1636.0,1272.9 1638.0,1299.1 1640.0,1324.1 1642.0,1346.0 1644.0,1366.7 1646.0,1383.9 1648.0,1398.0 1650.0,1411.4 1652.0,1418.6 1654.0,1426.4 1656.0,1428.6 1658.0,1433.0 1660.0,1434.4 1662.0,1438.2 1664.0,1439.8 1666.0,1441.8 1668.0,1445.8 1670.0,1451.5 1672.0,1452.3 1674.0,1455.1 1676.0,1458.3 1678.0,1458.1 1680.0,1461.2 1682.0,1460.9 1684.0,1460.1 1686.0,1460.8 1688.0,1460.8 1690.0,1461.5 1692.0,1461.6 1694.0,1460.9 1696.0,1461.3 1698.0,1460.8 1700.0,1461.0 1702.0,1460.1 1704.0,1460.0 1706.0,1459.8 1708.0,1459.6 1710.0,1459.3 1712.0,1459.0 1714.0,1458.3 1716.0,1457.8 1718.0,1457.1 1720.0,1456.6 1722.0,1455.2 1724.0,1454.7 1726.0,1453.4 1728.0,1452.3 1730.0,1451.7 1732.0,1450.5 1734.0,1448.1 1736.0,1447.0 1738.0,1445.0 1740.0,1443.2 1742.0,1441.0 1744.0,1439.3 1746.0,1436.6 1748.0,1434.3 1750.0,1431.6 1752.0,1429.7 1754.0,1426.0 1756.0,1423.4 1758.0,1421.3 1760.0,1418.2 1762.0,1415.2 1764.0,1412.3 1766.0,1409.9 1768.0,1407.0 1770.0,1405.2 1772.0,1403.5 1774.0,1401.5 1776.0,1399.4 1778.0,1398.6 1780.0,1397.1 1782.0,1396.4 1784.0,1396.3 1786.0,1396.2 1788.0,1397.1 1790.0,1397.9 1792.0,1399.3 1794.0,1400.9 1796.0,1403.2 1798.0,1405.1 1800.0,1407.9 1802.0,1410.9 1804.0,1413.5 1806.0,1416.8 1808.0,1420.7 1810.0,1423.8 1812.0,1427.8 1814.0,1431.7 1816.0,1436.2 1818.0,1440.5 1820.0,1443.9 1822.0,1447.9 1824.0,1451.7 1826.0,1455.5 1828.0,1459.0 1830.0,1463.0 1832.0,1466.1 1834.0,1469.7 1836.0,1473.1 1838.0,1475.5 1840.0,1477.7 1842.0,1481.0 1844.0,1482.7 1846.0,1485.2 1848.0,1487.1 1850.0,1488.8 1852.0,1490.4 1854.0,1492.1 1856.0,1493.1 1858.0,1494.2 1860.0,1495.2 1862.0,1496.4 1864.0,1496.6 1866.0,1497.2 1868.0,1497.6 1870.0,1498.9 1872.0,1498.9 1874.0,1499.6 1876.0,1499.3 1878.0,1499.5 1880.0,1499.9 1882.0,1500.1 1884.0,1499.8 1886.0,1499.8 1888.0,1500.2 1890.0,1500.1 1892.0,1500.7 1894.0,1500.4" fill="#fff" stroke="#3a3a3a" stroke-width="1.2" stroke-linejoin="round"/>
<path d="M1586,1502.3 1587,1502.3 1588,1502.2 1589,1502.1 1590,1502.0 1591,1501.8 1592,1501.7 1593,1501.5 1594,1501.3 1595,1501.0 1596,1500.7 1597,1500.4 1598,1500.0 1599,1499.6 1600,1499.1 1601,1498.6 1602,1498.0 1603,1497.3 1604,1496.6 1605,1495.8 1606,1494.9 1607,1494.0 1608,1493.1 1609,1492.0 1610,1491.0 1611,1489.8 1612,1488.7 1613,1487.4 1614,1486.2 1615,1484.9 1616,1483.6 1617,1482.3 1618,1481.0 1619,1479.7 1620,1478.4 1621,1477.2 1622,1475.9 1623,1474.7 1624,1473.6 1625,1472.5 1626,1471.4 1627,1470.4 1628,1469.5 1629,1468.6 1630,1467.8 1631,1467.1 1632,1466.4 1633,1465.8 1634,1465.2 1635,1464.7 1636,1464.3 1637,1463.9 1638,1463.5 1639,1463.2 1640,1462.9 1641,1462.7 1642,1462.5 1643,1462.3 1644,1462.2 1645,1462.1 1646,1461.9 1647,1461.9 1648,1461.8 1649,1461.7 1650,1461.7 1651,1461.6 1652,1461.6 1653,1461.6 1654,1461.6 1655,1461.6 1656,1461.5 1657,1461.5 1658,1461.5 1659,1461.5 1660,1461.5 1661,1461.5 1662,1461.5 1663,1461.5 1664,1461.5 1665,1461.5 1666,1461.5 1667,1461.5 1668,1461.5 1669,1461.5 1670,1461.5 1671,1461.5 1672,1461.5 1673,1461.5 1674,1461.5 1675,1461.5 1676,1461.5 1677,1461.5 1678,1461.5 1679,1461.5 1680,1461.5 1681,1461.5 1682,1461.5 1683,1461.5 1684,1461.5 1685,1461.5 1686,1461.5 1687,1461.5 1688,1461.5 1689,1461.5 1690,1461.5 1691,1461.5 1692,1461.5 1693,1461.5 1694,1461.5 1695,1461.5 1696,1461.5 1697,1461.5 1698,1461.5 1699,1461.5 1700,1461.5 1701,1461.5 1702,1461.5 1703,1461.5 1704,1461.5 1705,1461.5 1706,1461.5 1707,1461.5 1708,1461.5 1709,1461.5 1710,1461.5 1711,1461.5 1712,1461.5 1713,1461.5 1714,1461.5 1715,1461.5 1716,1461.5 1717,1461.5 1718,1461.5 1719,1461.5 1720,1461.5 1721,1461.6 1722,1461.6 1723,1461.6 1724,1461.6 1725,1461.6 1726,1461.6 1727,1461.6 1728,1461.6 1729,1461.7 1730,1461.7 1731,1461.7 1732,1461.7 1733,1461.7 1734,1461.8 1735,1461.8 1736,1461.9 1737,1461.9 1738,1461.9 1739,1462.0 1740,1462.1 1741,1462.1 1742,1462.2 1743,1462.3 1744,1462.4 1745,1462.4 1746,1462.5 1747,1462.6 1748,1462.8 1749,1462.9 1750,1463.0 1751,1463.2 1752,1463.3 1753,1463.5 1754,1463.7 1755,1463.9 1756,1464.1 1757,1464.3 1758,1464.6 1759,1464.8 1760,1465.1 1761,1465.4 1762,1465.7 1763,1466.0 1764,1466.3 1765,1466.7 1766,1467.1 1767,1467.4 1768,1467.8 1769,1468.3 1770,1468.7 1771,1469.2 1772,1469.7 1773,1470.2 1774,1470.7 1775,1471.2 1776,1471.7 1777,1472.3 1778,1472.9 1779,1473.5 1780,1474.1 1781,1474.7 1782,1475.3 1783,1476.0 1784,1476.6 1785,1477.3 1786,1478.0 1787,1478.7 1788,1479.3 1789,1480.0 1790,1480.7 1791,1481.4 1792,1482.1 1793,1482.8 1794,1483.5 1795,1484.2 1796,1484.9 1797,1485.6 1798,1486.3 1799,1486.9 1800,1487.6 1801,1488.2 1802,1488.9 1803,1489.5 1804,1490.1 1805,1490.7 1806,1491.3 1807,1491.9 1808,1492.5 1809,1493.0 1810,1493.5 1811,1494.1 1812,1494.5 1813,1495.0 1814,1495.5 1815,1495.9 1816,1496.3 1817,1496.7 1818,1497.1 1819,1497.5 1820,1497.8 1821,1498.2 1822,1498.5 1823,1498.8 1824,1499.1 1825,1499.3 1826,1499.6 1827,1499.8 1828,1500.0 1829,1500.3 1830,1500.4 1831,1500.6 1832,1500.8 1833,1501.0 1834,1501.1 1835,1501.2 1836,1501.4 1837,1501.5 1838,1501.6 1839,1501.7 1840,1501.8 1841,1501.8 1842,1501.9 1843,1502.0 1844,1502.1 1845,1502.1 1846,1502.2 1847,1502.2 1848,1502.3 1849,1502.3 1850,1502.3Z" fill="#fff"/>
<path d="M1556,1502.3 1557,1502.3 1558,1502.2 1559,1502.1 1560,1501.9 1561,1501.8 1562,1501.6 1563,1501.3 1564,1501.0 1565,1500.7 1566,1500.2 1567,1499.7 1568,1499.1 1569,1498.4 1570,1497.6 1571,1496.6 1572,1495.4 1573,1494.1 1574,1492.5 1575,1490.7 1576,1488.6 1577,1486.2 1578,1483.5 1579,1480.5 1580,1477.0 1581,1473.1 1582,1468.7 1583,1463.9 1584,1458.5 1585,1452.6 1586,1446.1 1587,1439.0 1588,1431.2 1589,1422.9 1590,1413.9 1591,1404.3 1592,1394.0 1593,1383.2 1594,1371.7 1595,1359.8 1596,1347.3 1597,1334.4 1598,1321.1 1599,1307.5 1600,1293.7 1601,1279.8 1602,1265.9 1603,1252.1 1604,1238.5 1605,1225.2 1606,1212.4 1607,1200.2 1608,1188.7 1609,1178.0 1610,1168.2 1611,1159.4 1612,1151.8 1613,1145.4 1614,1140.2 1615,1136.4 1616,1134.0 1617,1133.0 1618,1133.5 1619,1135.3 1620,1138.5 1621,1143.2 1622,1149.1 1623,1156.2 1624,1164.5 1625,1173.9 1626,1184.3 1627,1195.5 1628,1207.5 1629,1220.1 1630,1233.1 1631,1246.6 1632,1260.4 1633,1274.2 1634,1288.2 1635,1302.0 1636,1315.7 1637,1329.1 1638,1342.2 1639,1354.8 1640,1367.0 1641,1378.7 1642,1389.8 1643,1400.2 1644,1410.1 1645,1419.4 1646,1428.0 1647,1436.0 1648,1443.3 1649,1450.0 1650,1456.2 1651,1461.8 1652,1466.9 1653,1471.4 1654,1475.5 1655,1479.1 1656,1482.3 1657,1485.2 1658,1487.7 1659,1489.9 1660,1491.8 1661,1493.5 1662,1494.9 1663,1496.1 1664,1497.2 1665,1498.1 1666,1498.9 1667,1499.5 1668,1500.1 1669,1500.5 1670,1500.9 1671,1501.2 1672,1501.5 1673,1501.7 1674,1501.9 1675,1502.0 1676,1502.1 1677,1502.2 1678,1502.3Z" fill="#fa0000" stroke="#000" stroke-width="2" stroke-linejoin="round"/>
<path d="M1689,1502.3 1690,1502.3 1691,1502.2 1692,1502.2 1693,1502.1 1694,1502.1 1695,1502.0 1696,1502.0 1697,1501.9 1698,1501.8 1699,1501.8 1700,1501.7 1701,1501.6 1702,1501.5 1703,1501.4 1704,1501.3 1705,1501.1 1706,1501.0 1707,1500.9 1708,1500.7 1709,1500.5 1710,1500.3 1711,1500.1 1712,1499.9 1713,1499.7 1714,1499.4 1715,1499.2 1716,1498.9 1717,1498.6 1718,1498.2 1719,1497.9 1720,1497.5 1721,1497.1 1722,1496.7 1723,1496.3 1724,1495.8 1725,1495.3 1726,1494.8 1727,1494.2 1728,1493.6 1729,1493.0 1730,1492.4 1731,1491.7 1732,1491.0 1733,1490.2 1734,1489.5 1735,1488.7 1736,1487.8 1737,1486.9 1738,1486.0 1739,1485.0 1740,1484.1 1741,1483.0 1742,1482.0 1743,1480.9 1744,1479.7 1745,1478.6 1746,1477.4 1747,1476.2 1748,1474.9 1749,1473.6 1750,1472.3 1751,1470.9 1752,1469.6 1753,1468.2 1754,1466.8 1755,1465.3 1756,1463.9 1757,1462.4 1758,1461.0 1759,1459.5 1760,1458.0 1761,1456.5 1762,1455.0 1763,1453.5 1764,1452.0 1765,1450.6 1766,1449.1 1767,1447.7 1768,1446.2 1769,1444.9 1770,1443.5 1771,1442.1 1772,1440.8 1773,1439.6 1774,1438.3 1775,1437.2 1776,1436.0 1777,1434.9 1778,1433.9 1779,1432.9 1780,1432.0 1781,1431.2 1782,1430.4 1783,1429.7 1784,1429.0 1785,1428.5 1786,1428.0 1787,1427.5 1788,1427.2 1789,1426.9 1790,1426.7 1791,1426.6 1792,1426.6 1793,1426.6 1794,1426.8 1795,1427.0 1796,1427.3 1797,1427.6 1798,1428.1 1799,1428.6 1800,1429.2 1801,1429.8 1802,1430.6 1803,1431.3 1804,1432.2 1805,1433.1 1806,1434.1 1807,1435.2 1808,1436.2 1809,1437.4 1810,1438.6 1811,1439.8 1812,1441.1 1813,1442.4 1814,1443.8 1815,1445.1 1816,1446.5 1817,1448.0 1818,1449.4 1819,1450.9 1820,1452.3 1821,1453.8 1822,1455.3 1823,1456.8 1824,1458.3 1825,1459.8 1826,1461.3 1827,1462.7 1828,1464.2 1829,1465.6 1830,1467.1 1831,1468.5 1832,1469.9 1833,1471.2 1834,1472.6 1835,1473.9 1836,1475.2 1837,1476.4 1838,1477.6 1839,1478.8 1840,1480.0 1841,1481.1 1842,1482.2 1843,1483.2 1844,1484.3 1845,1485.2 1846,1486.2 1847,1487.1 1848,1488.0 1849,1488.8 1850,1489.6 1851,1490.4 1852,1491.1 1853,1491.8 1854,1492.5 1855,1493.2 1856,1493.8 1857,1494.3 1858,1494.9 1859,1495.4 1860,1495.9 1861,1496.4 1862,1496.8 1863,1497.2 1864,1497.6 1865,1498.0 1866,1498.3 1867,1498.6 1868,1498.9 1869,1499.2 1870,1499.5 1871,1499.7 1872,1500.0 1873,1500.2 1874,1500.4 1875,1500.6 1876,1500.7 1877,1500.9 1878,1501.0 1879,1501.2 1880,1501.3 1881,1501.4 1882,1501.5 1883,1501.6 1884,1501.7 1885,1501.8 1886,1501.9 1887,1501.9 1888,1502.0 1889,1502.1 1890,1502.1 1891,1502.2 1892,1502.2 1893,1502.2 1894,1502.3 1895,1502.3Z" fill="#fa0000" stroke="#000" stroke-width="1.8" stroke-linejoin="round"/>
<clipPath id="rclip3"><path d="M1556,1502.3 1557,1502.3 1558,1502.2 1559,1502.1 1560,1501.9 1561,1501.8 1562,1501.6 1563,1501.3 1564,1501.0 1565,1500.7 1566,1500.2 1567,1499.7 1568,1499.1 1569,1498.4 1570,1497.6 1571,1496.6 1572,1495.4 1573,1494.1 1574,1492.5 1575,1490.7 1576,1488.6 1577,1486.2 1578,1483.5 1579,1480.5 1580,1477.0 1581,1473.1 1582,1468.7 1583,1463.9 1584,1458.5 1585,1452.6 1586,1446.1 1587,1439.0 1588,1431.2 1589,1422.9 1590,1413.9 1591,1404.3 1592,1394.0 1593,1383.2 1594,1371.7 1595,1359.8 1596,1347.3 1597,1334.4 1598,1321.1 1599,1307.5 1600,1293.7 1601,1279.8 1602,1265.9 1603,1252.1 1604,1238.5 1605,1225.2 1606,1212.4 1607,1200.2 1608,1188.7 1609,1178.0 1610,1168.2 1611,1159.4 1612,1151.8 1613,1145.4 1614,1140.2 1615,1136.4 1616,1134.0 1617,1133.0 1618,1133.5 1619,1135.3 1620,1138.5 1621,1143.2 1622,1149.1 1623,1156.2 1624,1164.5 1625,1173.9 1626,1184.3 1627,1195.5 1628,1207.5 1629,1220.1 1630,1233.1 1631,1246.6 1632,1260.4 1633,1274.2 1634,1288.2 1635,1302.0 1636,1315.7 1637,1329.1 1638,1342.2 1639,1354.8 1640,1367.0 1641,1378.7 1642,1389.8 1643,1400.2 1644,1410.1 1645,1419.4 1646,1428.0 1647,1436.0 1648,1443.3 1649,1450.0 1650,1456.2 1651,1461.8 1652,1466.9 1653,1471.4 1654,1475.5 1655,1479.1 1656,1482.3 1657,1485.2 1658,1487.7 1659,1489.9 1660,1491.8 1661,1493.5 1662,1494.9 1663,1496.1 1664,1497.2 1665,1498.1 1666,1498.9 1667,1499.5 1668,1500.1 1669,1500.5 1670,1500.9 1671,1501.2 1672,1501.5 1673,1501.7 1674,1501.9 1675,1502.0 1676,1502.1 1677,1502.2 1678,1502.3Z"/><path d="M1689,1502.3 1690,1502.3 1691,1502.2 1692,1502.2 1693,1502.1 1694,1502.1 1695,1502.0 1696,1502.0 1697,1501.9 1698,1501.8 1699,1501.8 1700,1501.7 1701,1501.6 1702,1501.5 1703,1501.4 1704,1501.3 1705,1501.1 1706,1501.0 1707,1500.9 1708,1500.7 1709,1500.5 1710,1500.3 1711,1500.1 1712,1499.9 1713,1499.7 1714,1499.4 1715,1499.2 1716,1498.9 1717,1498.6 1718,1498.2 1719,1497.9 1720,1497.5 1721,1497.1 1722,1496.7 1723,1496.3 1724,1495.8 1725,1495.3 1726,1494.8 1727,1494.2 1728,1493.6 1729,1493.0 1730,1492.4 1731,1491.7 1732,1491.0 1733,1490.2 1734,1489.5 1735,1488.7 1736,1487.8 1737,1486.9 1738,1486.0 1739,1485.0 1740,1484.1 1741,1483.0 1742,1482.0 1743,1480.9 1744,1479.7 1745,1478.6 1746,1477.4 1747,1476.2 1748,1474.9 1749,1473.6 1750,1472.3 1751,1470.9 1752,1469.6 1753,1468.2 1754,1466.8 1755,1465.3 1756,1463.9 1757,1462.4 1758,1461.0 1759,1459.5 1760,1458.0 1761,1456.5 1762,1455.0 1763,1453.5 1764,1452.0 1765,1450.6 1766,1449.1 1767,1447.7 1768,1446.2 1769,1444.9 1770,1443.5 1771,1442.1 1772,1440.8 1773,1439.6 1774,1438.3 1775,1437.2 1776,1436.0 1777,1434.9 1778,1433.9 1779,1432.9 1780,1432.0 1781,1431.2 1782,1430.4 1783,1429.7 1784,1429.0 1785,1428.5 1786,1428.0 1787,1427.5 1788,1427.2 1789,1426.9 1790,1426.7 1791,1426.6 1792,1426.6 1793,1426.6 1794,1426.8 1795,1427.0 1796,1427.3 1797,1427.6 1798,1428.1 1799,1428.6 1800,1429.2 1801,1429.8 1802,1430.6 1803,1431.3 1804,1432.2 1805,1433.1 1806,1434.1 1807,1435.2 1808,1436.2 1809,1437.4 1810,1438.6 1811,1439.8 1812,1441.1 1813,1442.4 1814,1443.8 1815,1445.1 1816,1446.5 1817,1448.0 1818,1449.4 1819,1450.9 1820,1452.3 1821,1453.8 1822,1455.3 1823,1456.8 1824,1458.3 1825,1459.8 1826,1461.3 1827,1462.7 1828,1464.2 1829,1465.6 1830,1467.1 1831,1468.5 1832,1469.9 1833,1471.2 1834,1472.6 1835,1473.9 1836,1475.2 1837,1476.4 1838,1477.6 1839,1478.8 1840,1480.0 1841,1481.1 1842,1482.2 1843,1483.2 1844,1484.3 1845,1485.2 1846,1486.2 1847,1487.1 1848,1488.0 1849,1488.8 1850,1489.6 1851,1490.4 1852,1491.1 1853,1491.8 1854,1492.5 1855,1493.2 1856,1493.8 1857,1494.3 1858,1494.9 1859,1495.4 1860,1495.9 1861,1496.4 1862,1496.8 1863,1497.2 1864,1497.6 1865,1498.0 1866,1498.3 1867,1498.6 1868,1498.9 1869,1499.2 1870,1499.5 1871,1499.7 1872,1500.0 1873,1500.2 1874,1500.4 1875,1500.6 1876,1500.7 1877,1500.9 1878,1501.0 1879,1501.2 1880,1501.3 1881,1501.4 1882,1501.5 1883,1501.6 1884,1501.7 1885,1501.8 1886,1501.9 1887,1501.9 1888,1502.0 1889,1502.1 1890,1502.1 1891,1502.2 1892,1502.2 1893,1502.2 1894,1502.3 1895,1502.3Z"/></clipPath>
<g clip-path="url(#sclip3)" fill="none" stroke-width="1.5">
<path d="M1522.2,1457.5l47.1,47.1M1532.8,1457.5l47.1,47.1M1543.4,1457.5l47.1,47.1M1554.0,1457.5l47.1,47.1M1564.6,1457.5l47.1,47.1M1575.2,1457.5l47.1,47.1M1585.8,1457.5l47.1,47.1M1596.4,1457.5l47.1,47.1M1607.0,1457.5l47.1,47.1M1617.6,1457.5l47.1,47.1M1628.2,1457.5l47.1,47.1M1638.8,1457.5l47.1,47.1M1649.4,1457.5l47.1,47.1M1660.0,1457.5l47.1,47.1M1670.6,1457.5l47.1,47.1M1681.2,1457.5l47.1,47.1M1691.8,1457.5l47.1,47.1M1702.4,1457.5l47.1,47.1M1713.0,1457.5l47.1,47.1M1723.6,1457.5l47.1,47.1M1734.2,1457.5l47.1,47.1M1744.8,1457.5l47.1,47.1M1755.4,1457.5l47.1,47.1M1766.0,1457.5l47.1,47.1M1776.6,1457.5l47.1,47.1M1787.2,1457.5l47.1,47.1M1797.8,1457.5l47.1,47.1M1808.4,1457.5l47.1,47.1M1819.0,1457.5l47.1,47.1M1829.6,1457.5l47.1,47.1M1840.2,1457.5l47.1,47.1M1850.8,1457.5l47.1,47.1M1861.4,1457.5l47.1,47.1M1872.0,1457.5l47.1,47.1M1882.6,1457.5l47.1,47.1" stroke="#4a4aff"/>
<g clip-path="url(#rclip3)"><path d="M1522.2,1457.5l47.1,47.1M1532.8,1457.5l47.1,47.1M1543.4,1457.5l47.1,47.1M1554.0,1457.5l47.1,47.1M1564.6,1457.5l47.1,47.1M1575.2,1457.5l47.1,47.1M1585.8,1457.5l47.1,47.1M1596.4,1457.5l47.1,47.1M1607.0,1457.5l47.1,47.1M1617.6,1457.5l47.1,47.1M1628.2,1457.5l47.1,47.1M1638.8,1457.5l47.1,47.1M1649.4,1457.5l47.1,47.1M1660.0,1457.5l47.1,47.1M1670.6,1457.5l47.1,47.1M1681.2,1457.5l47.1,47.1M1691.8,1457.5l47.1,47.1M1702.4,1457.5l47.1,47.1M1713.0,1457.5l47.1,47.1M1723.6,1457.5l47.1,47.1M1734.2,1457.5l47.1,47.1M1744.8,1457.5l47.1,47.1M1755.4,1457.5l47.1,47.1M1766.0,1457.5l47.1,47.1M1776.6,1457.5l47.1,47.1M1787.2,1457.5l47.1,47.1M1797.8,1457.5l47.1,47.1M1808.4,1457.5l47.1,47.1M1819.0,1457.5l47.1,47.1M1829.6,1457.5l47.1,47.1M1840.2,1457.5l47.1,47.1M1850.8,1457.5l47.1,47.1M1861.4,1457.5l47.1,47.1M1872.0,1457.5l47.1,47.1M1882.6,1457.5l47.1,47.1" stroke="#7a0a8c" stroke-width="1.5"/></g>
</g>
<path d="M1586,1502.3 1587,1502.3 1588,1502.2 1589,1502.1 1590,1502.0 1591,1501.8 1592,1501.7 1593,1501.5 1594,1501.3 1595,1501.0 1596,1500.7 1597,1500.4 1598,1500.0 1599,1499.6 1600,1499.1 1601,1498.6 1602,1498.0 1603,1497.3 1604,1496.6 1605,1495.8 1606,1494.9 1607,1494.0 1608,1493.1 1609,1492.0 1610,1491.0 1611,1489.8 1612,1488.7 1613,1487.4 1614,1486.2 1615,1484.9 1616,1483.6 1617,1482.3 1618,1481.0 1619,1479.7 1620,1478.4 1621,1477.2 1622,1475.9 1623,1474.7 1624,1473.6 1625,1472.5 1626,1471.4 1627,1470.4 1628,1469.5 1629,1468.6 1630,1467.8 1631,1467.1 1632,1466.4 1633,1465.8 1634,1465.2 1635,1464.7 1636,1464.3 1637,1463.9 1638,1463.5 1639,1463.2 1640,1462.9 1641,1462.7 1642,1462.5 1643,1462.3 1644,1462.2 1645,1462.1 1646,1461.9 1647,1461.9 1648,1461.8 1649,1461.7 1650,1461.7 1651,1461.6 1652,1461.6 1653,1461.6 1654,1461.6 1655,1461.6 1656,1461.5 1657,1461.5 1658,1461.5 1659,1461.5 1660,1461.5 1661,1461.5 1662,1461.5 1663,1461.5 1664,1461.5 1665,1461.5 1666,1461.5 1667,1461.5 1668,1461.5 1669,1461.5 1670,1461.5 1671,1461.5 1672,1461.5 1673,1461.5 1674,1461.5 1675,1461.5 1676,1461.5 1677,1461.5 1678,1461.5 1679,1461.5 1680,1461.5 1681,1461.5 1682,1461.5 1683,1461.5 1684,1461.5 1685,1461.5 1686,1461.5 1687,1461.5 1688,1461.5 1689,1461.5 1690,1461.5 1691,1461.5 1692,1461.5 1693,1461.5 1694,1461.5 1695,1461.5 1696,1461.5 1697,1461.5 1698,1461.5 1699,1461.5 1700,1461.5 1701,1461.5 1702,1461.5 1703,1461.5 1704,1461.5 1705,1461.5 1706,1461.5 1707,1461.5 1708,1461.5 1709,1461.5 1710,1461.5 1711,1461.5 1712,1461.5 1713,1461.5 1714,1461.5 1715,1461.5 1716,1461.5 1717,1461.5 1718,1461.5 1719,1461.5 1720,1461.5 1721,1461.6 1722,1461.6 1723,1461.6 1724,1461.6 1725,1461.6 1726,1461.6 1727,1461.6 1728,1461.6 1729,1461.7 1730,1461.7 1731,1461.7 1732,1461.7 1733,1461.7 1734,1461.8 1735,1461.8 1736,1461.9 1737,1461.9 1738,1461.9 1739,1462.0 1740,1462.1 1741,1462.1 1742,1462.2 1743,1462.3 1744,1462.4 1745,1462.4 1746,1462.5 1747,1462.6 1748,1462.8 1749,1462.9 1750,1463.0 1751,1463.2 1752,1463.3 1753,1463.5 1754,1463.7 1755,1463.9 1756,1464.1 1757,1464.3 1758,1464.6 1759,1464.8 1760,1465.1 1761,1465.4 1762,1465.7 1763,1466.0 1764,1466.3 1765,1466.7 1766,1467.1 1767,1467.4 1768,1467.8 1769,1468.3 1770,1468.7 1771,1469.2 1772,1469.7 1773,1470.2 1774,1470.7 1775,1471.2 1776,1471.7 1777,1472.3 1778,1472.9 1779,1473.5 1780,1474.1 1781,1474.7 1782,1475.3 1783,1476.0 1784,1476.6 1785,1477.3 1786,1478.0 1787,1478.7 1788,1479.3 1789,1480.0 1790,1480.7 1791,1481.4 1792,1482.1 1793,1482.8 1794,1483.5 1795,1484.2 1796,1484.9 1797,1485.6 1798,1486.3 1799,1486.9 1800,1487.6 1801,1488.2 1802,1488.9 1803,1489.5 1804,1490.1 1805,1490.7 1806,1491.3 1807,1491.9 1808,1492.5 1809,1493.0 1810,1493.5 1811,1494.1 1812,1494.5 1813,1495.0 1814,1495.5 1815,1495.9 1816,1496.3 1817,1496.7 1818,1497.1 1819,1497.5 1820,1497.8 1821,1498.2 1822,1498.5 1823,1498.8 1824,1499.1 1825,1499.3 1826,1499.6 1827,1499.8 1828,1500.0 1829,1500.3 1830,1500.4 1831,1500.6 1832,1500.8 1833,1501.0 1834,1501.1 1835,1501.2 1836,1501.4 1837,1501.5 1838,1501.6 1839,1501.7 1840,1501.8 1841,1501.8 1842,1501.9 1843,1502.0 1844,1502.1 1845,1502.1 1846,1502.2 1847,1502.2 1848,1502.3 1849,1502.3 1850,1502.3Z" fill="none" stroke="#111" stroke-width="1.4"/>
<line x1="1438.30" y1="1070.80" x2="1438.30" y2="1523.60" stroke="#3a3a3a" stroke-width="2.1"/>
<line x1="1418.30" y1="1502.60" x2="1545.00" y2="1502.60" stroke="#111" stroke-width="2.4"/>
<line x1="1893.20" y1="1502.60" x2="1942.90" y2="1502.60" stroke="#111" stroke-width="2.4"/>
<line x1="1544.00" y1="1502.90" x2="1894.20" y2="1502.90" stroke="#7f8f8f" stroke-width="2.2"/>
<text x="1411.60" y="1507.38" font-size="23" font-weight="bold" fill="#0a0a0a" transform="rotate(-90 1411.60 1507.38)">0</text>
<line x1="1429.00" y1="1481.06" x2="1438.30" y2="1481.06" stroke="#3a3a3a" stroke-width="1.9"/>
<line x1="1429.00" y1="1459.52" x2="1438.30" y2="1459.52" stroke="#3a3a3a" stroke-width="1.9"/>
<line x1="1429.00" y1="1437.98" x2="1438.30" y2="1437.98" stroke="#3a3a3a" stroke-width="1.9"/>
<line x1="1429.00" y1="1416.44" x2="1438.30" y2="1416.44" stroke="#3a3a3a" stroke-width="1.9"/>
<line x1="1418.50" y1="1394.90" x2="1438.30" y2="1394.90" stroke="#3a3a3a" stroke-width="1.9"/>
<text x="1411.60" y="1413.99" font-size="23" font-weight="bold" fill="#0a0a0a" transform="rotate(-90 1411.60 1413.99)">500</text>
<line x1="1429.00" y1="1373.36" x2="1438.30" y2="1373.36" stroke="#3a3a3a" stroke-width="1.9"/>
<line x1="1429.00" y1="1351.82" x2="1438.30" y2="1351.82" stroke="#3a3a3a" stroke-width="1.9"/>
<line x1="1429.00" y1="1330.28" x2="1438.30" y2="1330.28" stroke="#3a3a3a" stroke-width="1.9"/>
<line x1="1429.00" y1="1308.74" x2="1438.30" y2="1308.74" stroke="#3a3a3a" stroke-width="1.9"/>
<line x1="1418.50" y1="1287.20" x2="1438.30" y2="1287.20" stroke="#3a3a3a" stroke-width="1.9"/>
<text x="1411.60" y="1313.02" font-size="23" font-weight="bold" fill="#0a0a0a" transform="rotate(-90 1411.60 1313.02)">1000</text>
<line x1="1429.00" y1="1265.66" x2="1438.30" y2="1265.66" stroke="#3a3a3a" stroke-width="1.9"/>
<line x1="1429.00" y1="1244.12" x2="1438.30" y2="1244.12" stroke="#3a3a3a" stroke-width="1.9"/>
<line x1="1429.00" y1="1222.58" x2="1438.30" y2="1222.58" stroke="#3a3a3a" stroke-width="1.9"/>
<line x1="1429.00" y1="1201.04" x2="1438.30" y2="1201.04" stroke="#3a3a3a" stroke-width="1.9"/>
<line x1="1418.50" y1="1179.50" x2="1438.30" y2="1179.50" stroke="#3a3a3a" stroke-width="1.9"/>
<text x="1411.60" y="1208.12" font-size="23" font-weight="bold" fill="#0a0a0a" transform="rotate(-90 1411.60 1208.12)">1500</text>
<line x1="1429.00" y1="1157.96" x2="1438.30" y2="1157.96" stroke="#3a3a3a" stroke-width="1.9"/>
<line x1="1429.00" y1="1136.42" x2="1438.30" y2="1136.42" stroke="#3a3a3a" stroke-width="1.9"/>
<line x1="1429.00" y1="1114.88" x2="1438.30" y2="1114.88" stroke="#3a3a3a" stroke-width="1.9"/>
<line x1="1429.00" y1="1093.34" x2="1438.30" y2="1093.34" stroke="#3a3a3a" stroke-width="1.9"/>
<line x1="1418.50" y1="1071.80" x2="1438.30" y2="1071.80" stroke="#3a3a3a" stroke-width="1.9"/>
<text x="1411.60" y="1103.90" font-size="23" font-weight="bold" fill="#0a0a0a" transform="rotate(-90 1411.60 1103.90)">2000</text>
<line x1="1459.28" y1="1502.60" x2="1459.28" y2="1513.00" stroke="#3a3a3a" stroke-width="2.0"/>
<line x1="1480.27" y1="1502.60" x2="1480.27" y2="1513.00" stroke="#3a3a3a" stroke-width="2.0"/>
<line x1="1501.25" y1="1502.60" x2="1501.25" y2="1513.00" stroke="#3a3a3a" stroke-width="2.0"/>
<line x1="1522.23" y1="1502.60" x2="1522.23" y2="1523.20" stroke="#3a3a3a" stroke-width="2.0"/>
<line x1="1543.22" y1="1502.60" x2="1543.22" y2="1513.00" stroke="#3a3a3a" stroke-width="2.0"/>
<line x1="1564.20" y1="1502.60" x2="1564.20" y2="1513.00" stroke="#3a3a3a" stroke-width="2.0"/>
<line x1="1585.18" y1="1502.60" x2="1585.18" y2="1513.00" stroke="#3a3a3a" stroke-width="2.0"/>
<line x1="1606.17" y1="1502.60" x2="1606.17" y2="1523.20" stroke="#3a3a3a" stroke-width="2.0"/>
<line x1="1627.15" y1="1502.60" x2="1627.15" y2="1513.00" stroke="#3a3a3a" stroke-width="2.0"/>
<line x1="1648.13" y1="1502.60" x2="1648.13" y2="1513.00" stroke="#3a3a3a" stroke-width="2.0"/>
<line x1="1669.12" y1="1502.60" x2="1669.12" y2="1513.00" stroke="#3a3a3a" stroke-width="2.0"/>
<line x1="1690.10" y1="1502.60" x2="1690.10" y2="1523.20" stroke="#3a3a3a" stroke-width="2.0"/>
<line x1="1711.08" y1="1502.60" x2="1711.08" y2="1513.00" stroke="#3a3a3a" stroke-width="2.0"/>
<line x1="1732.07" y1="1502.60" x2="1732.07" y2="1513.00" stroke="#3a3a3a" stroke-width="2.0"/>
<line x1="1753.05" y1="1502.60" x2="1753.05" y2="1513.00" stroke="#3a3a3a" stroke-width="2.0"/>
<line x1="1774.03" y1="1502.60" x2="1774.03" y2="1523.20" stroke="#3a3a3a" stroke-width="2.0"/>
<line x1="1795.02" y1="1502.60" x2="1795.02" y2="1513.00" stroke="#3a3a3a" stroke-width="2.0"/>
<line x1="1816.00" y1="1502.60" x2="1816.00" y2="1513.00" stroke="#3a3a3a" stroke-width="2.0"/>
<line x1="1836.98" y1="1502.60" x2="1836.98" y2="1513.00" stroke="#3a3a3a" stroke-width="2.0"/>
<line x1="1857.97" y1="1502.60" x2="1857.97" y2="1523.20" stroke="#3a3a3a" stroke-width="2.0"/>
<line x1="1878.95" y1="1502.60" x2="1878.95" y2="1513.00" stroke="#3a3a3a" stroke-width="2.0"/>
<line x1="1899.93" y1="1502.60" x2="1899.93" y2="1513.00" stroke="#3a3a3a" stroke-width="2.0"/>
<line x1="1920.92" y1="1502.60" x2="1920.92" y2="1513.00" stroke="#3a3a3a" stroke-width="2.0"/>
<line x1="1941.90" y1="1502.60" x2="1941.90" y2="1523.20" stroke="#3a3a3a" stroke-width="2.0"/>
<text x="1430.84" y="1551.20" font-size="22.8" font-weight="bold" fill="#0a0a0a" textLength="13.35" lengthAdjust="spacingAndGlyphs">0</text>
<text x="1508.88" y="1549.00" font-size="22.8" font-weight="bold" fill="#0a0a0a" textLength="26.01" lengthAdjust="spacingAndGlyphs">20</text>
<text x="1593.06" y="1549.00" font-size="22.8" font-weight="bold" fill="#0a0a0a" textLength="25.20" lengthAdjust="spacingAndGlyphs">40</text>
<text x="1676.63" y="1549.00" font-size="22.8" font-weight="bold" fill="#0a0a0a" textLength="25.86" lengthAdjust="spacingAndGlyphs">60</text>
<text x="1761.15" y="1548.60" font-size="22.8" font-weight="bold" fill="#0a0a0a" textLength="25.52" lengthAdjust="spacingAndGlyphs">80</text>
<text x="1833.35" y="1548.60" font-size="22.8" font-weight="bold" fill="#0a0a0a" textLength="38.70" lengthAdjust="spacingAndGlyphs">100</text>
<text x="1920.36" y="1548.60" font-size="22.8" font-weight="bold" fill="#0a0a0a" textLength="38.38" lengthAdjust="spacingAndGlyphs">120</text>
<path d="M1606.7,1517.2 L1622.7,1517.2 L1614.7,1503.1 Z" fill="#000"/>
<path d="M1786.6,1517.2 L1802.6,1517.2 L1794.6,1503.1 Z" fill="#000"/>
<rect x="1803.90" y="1104.40" width="22.00" height="19.60" fill="#fa0000" stroke="#16302e" stroke-width="1.6"/>
<rect x="1803.90" y="1130.20" width="22.00" height="19.20" fill="#fa0000" stroke="#16302e" stroke-width="1.6"/>
<rect x="1803.90" y="1155.10" width="22.00" height="19.90" fill="#fff" stroke="none" stroke-width="0"/>
<clipPath id="lg3"><rect x="1803.9" y="1155.1" width="22.0" height="19.9"/></clipPath>
<g clip-path="url(#lg3)">
<line x1="1786.30" y1="1154.30" x2="1810.30" y2="1179.80" stroke="#3c3cff" stroke-width="2.0"/>
<line x1="1800.50" y1="1154.30" x2="1824.50" y2="1179.80" stroke="#3c3cff" stroke-width="2.0"/>
<line x1="1815.40" y1="1154.30" x2="1839.40" y2="1179.80" stroke="#3c3cff" stroke-width="2.0"/>
</g>
<rect x="1803.90" y="1155.10" width="22.00" height="19.90" fill="none" stroke="#1c1c1c" stroke-width="1.6"/>
<text x="1836.13" y="1120.30" font-size="23.6" font-weight="bold" fill="#000" textLength="160.61" lengthAdjust="spacingAndGlyphs">Dip G1 53.72%</text>
<text x="1835.12" y="1149.00" font-size="23.6" font-weight="bold" fill="#000" textLength="161.02" lengthAdjust="spacingAndGlyphs">Dip G2 21.23%</text>
<text x="1835.92" y="1175.10" font-size="23.6" font-weight="bold" fill="#000" textLength="59.77" lengthAdjust="spacingAndGlyphs">Dip S</text>
<text x="1915.19" y="1175.10" font-size="23.6" font-weight="bold" fill="#000" textLength="78.43" lengthAdjust="spacingAndGlyphs">25.05%</text>
<text x="1621.61" y="1588.00" font-size="23.5" font-weight="bold" fill="#000">FL2-A PE-A</text>
<text x="1619.37" y="1639.00" font-size="37.6" font-weight="bold" fill="#000" textLength="181.81" lengthAdjust="spacingAndGlyphs">shDDB1-2</text>
<text x="1371.80" y="1327.07" font-size="23" font-weight="bold" fill="#000" transform="rotate(-90 1371.80 1327.07)">Number</text>
<clipPath id="sclip4"><path d="M919,2148.5 920,2148.5 921,2148.4 922,2148.3 923,2148.2 924,2148.1 925,2148.0 926,2147.9 927,2147.7 928,2147.5 929,2147.3 930,2147.1 931,2146.8 932,2146.5 933,2146.2 934,2145.8 935,2145.4 936,2145.0 937,2144.5 938,2144.0 939,2143.5 940,2142.9 941,2142.3 942,2141.6 943,2141.0 944,2140.3 945,2139.5 946,2138.8 947,2138.0 948,2137.2 949,2136.4 950,2135.5 951,2134.7 952,2133.9 953,2133.1 954,2132.2 955,2131.4 956,2130.7 957,2129.9 958,2129.1 959,2128.4 960,2127.7 961,2127.1 962,2126.4 963,2125.9 964,2125.3 965,2124.8 966,2124.3 967,2123.9 968,2123.4 969,2123.1 970,2122.7 971,2122.4 972,2122.1 973,2121.9 974,2121.7 975,2121.5 976,2121.3 977,2121.2 978,2121.0 979,2120.9 980,2120.8 981,2120.7 982,2120.7 983,2120.6 984,2120.5 985,2120.5 986,2120.5 987,2120.4 988,2120.4 989,2120.4 990,2120.4 991,2120.4 992,2120.3 993,2120.3 994,2120.3 995,2120.3 996,2120.3 997,2120.3 998,2120.3 999,2120.3 1000,2120.3 1001,2120.3 1002,2120.3 1003,2120.3 1004,2120.3 1005,2120.3 1006,2120.3 1007,2120.3 1008,2120.3 1009,2120.3 1010,2120.3 1011,2120.3 1012,2120.3 1013,2120.3 1014,2120.3 1015,2120.3 1016,2120.3 1017,2120.3 1018,2120.3 1019,2120.3 1020,2120.3 1021,2120.3 1022,2120.3 1023,2120.3 1024,2120.3 1025,2120.3 1026,2120.3 1027,2120.3 1028,2120.3 1029,2120.3 1030,2120.3 1031,2120.3 1032,2120.3 1033,2120.3 1034,2120.3 1035,2120.3 1036,2120.3 1037,2120.3 1038,2120.3 1039,2120.3 1040,2120.3 1041,2120.3 1042,2120.3 1043,2120.3 1044,2120.3 1045,2120.3 1046,2120.3 1047,2120.3 1048,2120.3 1049,2120.3 1050,2120.3 1051,2120.3 1052,2120.3 1053,2120.3 1054,2120.3 1055,2120.4 1056,2120.4 1057,2120.4 1058,2120.4 1059,2120.4 1060,2120.4 1061,2120.4 1062,2120.4 1063,2120.4 1064,2120.5 1065,2120.5 1066,2120.5 1067,2120.5 1068,2120.6 1069,2120.6 1070,2120.6 1071,2120.6 1072,2120.7 1073,2120.7 1074,2120.8 1075,2120.8 1076,2120.9 1077,2120.9 1078,2121.0 1079,2121.1 1080,2121.2 1081,2121.2 1082,2121.3 1083,2121.4 1084,2121.5 1085,2121.6 1086,2121.7 1087,2121.9 1088,2122.0 1089,2122.1 1090,2122.3 1091,2122.5 1092,2122.6 1093,2122.8 1094,2123.0 1095,2123.2 1096,2123.4 1097,2123.6 1098,2123.9 1099,2124.1 1100,2124.4 1101,2124.6 1102,2124.9 1103,2125.2 1104,2125.5 1105,2125.8 1106,2126.2 1107,2126.5 1108,2126.8 1109,2127.2 1110,2127.6 1111,2127.9 1112,2128.3 1113,2128.7 1114,2129.1 1115,2129.5 1116,2130.0 1117,2130.4 1118,2130.8 1119,2131.3 1120,2131.7 1121,2132.2 1122,2132.6 1123,2133.1 1124,2133.5 1125,2134.0 1126,2134.5 1127,2134.9 1128,2135.4 1129,2135.8 1130,2136.3 1131,2136.8 1132,2137.2 1133,2137.7 1134,2138.1 1135,2138.5 1136,2139.0 1137,2139.4 1138,2139.8 1139,2140.2 1140,2140.6 1141,2141.0 1142,2141.4 1143,2141.8 1144,2142.1 1145,2142.5 1146,2142.8 1147,2143.1 1148,2143.5 1149,2143.8 1150,2144.1 1151,2144.3 1152,2144.6 1153,2144.9 1154,2145.1 1155,2145.4 1156,2145.6 1157,2145.8 1158,2146.0 1159,2146.2 1160,2146.4 1161,2146.6 1162,2146.7 1163,2146.9 1164,2147.0 1165,2147.2 1166,2147.3 1167,2147.4 1168,2147.5 1169,2147.6 1170,2147.7 1171,2147.8 1172,2147.9 1173,2148.0 1174,2148.1 1175,2148.1 1176,2148.2 1177,2148.3 1178,2148.3 1179,2148.4 1180,2148.4 1181,2148.4 1182,2148.5 1183,2148.5Z"/></clipPath>
<path d="M879.0,2146.2 880.6,2145.0 882.2,2144.7 883.8,2142.8 885.4,2140.9 887.0,2139.8 888.6,2137.3 890.2,2137.8 891.8,2135.5 893.4,2134.8 895.0,2133.7 896.6,2132.2 898.2,2131.0 899.8,2130.1 901.4,2129.3 903.0,2126.9 904.6,2127.1 906.2,2128.0 907.8,2124.2 909.4,2122.2 911.0,2118.3 912.6,2111.5 914.2,2107.1 915.8,2101.6 917.4,2090.3 919.0,2080.8 920.6,2070.2 922.2,2056.7 923.8,2041.7 925.4,2024.8 927.0,2008.0 928.6,1988.7 930.2,1966.4 931.8,1950.0 933.4,1929.2 935.0,1907.2 936.6,1883.9 938.2,1866.5 939.8,1843.0 941.4,1829.2 943.0,1810.4 944.6,1789.6 946.2,1771.9 947.8,1755.7 948.6,1749.8 949.4,1746.2 951.0,1749.2 952.6,1755.9 954.2,1759.2 955.8,1767.7 957.4,1777.3 959.0,1785.3 960.6,1802.3 962.2,1815.5 963.8,1831.4 965.4,1850.8 967.0,1870.9 968.6,1889.1 970.2,1910.5 971.8,1930.4 973.4,1950.5 975.0,1965.6 976.6,1986.2 978.2,2000.4 979.8,2017.0 981.4,2032.1 983.0,2043.6 984.6,2055.4 986.2,2065.5 987.8,2079.1 989.4,2080.8 991.0,2083.5 992.6,2089.2 994.2,2090.7 995.8,2091.2 997.4,2096.4 999.0,2092.4 1000.6,2105.1 1002.2,2102.1 1003.8,2111.1 1005.4,2102.0 1007.0,2106.5 1008.6,2103.8 1010.2,2112.6 1011.8,2119.8 1013.4,2111.4 1015.0,2120.9 1016.6,2121.7 1018.2,2119.2 1019.8,2117.3 1021.4,2121.0 1023.0,2119.1 1024.6,2125.3 1026.2,2118.0 1027.8,2119.7 1029.4,2119.4 1031.0,2118.9 1032.6,2119.2 1034.2,2119.0 1035.8,2120.0 1037.4,2119.0 1039.0,2118.2 1040.6,2117.3 1042.2,2118.3 1043.8,2117.7 1045.4,2117.2 1047.0,2116.5 1048.6,2116.5 1050.2,2116.5 1051.8,2116.3 1053.4,2114.0 1055.0,2114.3 1056.6,2113.9 1058.2,2109.6 1059.8,2111.5 1061.4,2110.6 1063.0,2110.4 1064.6,2110.7 1066.2,2107.3 1067.8,2107.4 1069.4,2106.0 1071.0,2103.7 1072.6,2102.3 1074.2,2101.6 1075.8,2100.3 1077.4,2096.3 1079.0,2096.3 1080.6,2096.3 1082.2,2092.4 1083.8,2091.2 1085.4,2089.3 1087.0,2086.5 1088.6,2085.0 1090.2,2080.8 1091.8,2080.8 1093.4,2078.6 1095.0,2075.3 1096.6,2075.3 1098.2,2071.3 1099.8,2070.6 1101.4,2067.1 1103.0,2067.7 1104.6,2064.3 1106.2,2065.1 1107.8,2062.1 1109.4,2060.1 1111.0,2058.3 1112.6,2055.3 1114.2,2054.5 1115.8,2057.8 1117.4,2056.5 1119.0,2053.7 1120.6,2054.6 1122.2,2057.0 1123.8,2054.9 1125.4,2057.5 1127.0,2057.9 1128.6,2059.4 1130.2,2059.3 1131.8,2057.6 1133.4,2061.5 1135.0,2063.9 1136.6,2062.5 1138.2,2068.3 1139.8,2070.2 1141.4,2072.7 1143.0,2074.3 1144.6,2077.7 1146.2,2078.3 1147.8,2083.1 1149.4,2084.8 1151.0,2088.0 1152.6,2092.0 1154.2,2095.0 1155.8,2096.7 1157.4,2102.0 1159.0,2102.1 1160.6,2104.8 1162.2,2107.3 1163.8,2110.1 1165.4,2112.1 1167.0,2115.3 1168.6,2116.6 1170.2,2121.1 1171.8,2120.7 1173.4,2124.4 1175.0,2125.0 1176.6,2127.8 1178.2,2129.5 1179.8,2131.4 1181.4,2131.0 1183.0,2134.6 1184.6,2136.0 1186.2,2136.0 1187.8,2137.1 1189.4,2138.4 1191.0,2140.2 1192.6,2140.8 1194.2,2140.3 1195.8,2142.7 1197.4,2142.0 1199.0,2142.5 1200.6,2143.5 1202.2,2145.0 1203.8,2143.0 1205.4,2144.7 1207.0,2144.9 1208.6,2145.6 1210.2,2146.3 1211.8,2145.9 1213.4,2145.7 1215.0,2146.6 1216.6,2145.9 1218.2,2145.2 1219.8,2145.8" fill="#fff" stroke="#2a2a2a" stroke-width="1.2" stroke-linejoin="round"/>
<path d="M879.0,2146.3 881.0,2144.9 883.0,2143.5 885.0,2141.9 887.0,2140.4 889.0,2138.6 891.0,2136.1 893.0,2134.5 895.0,2133.1 897.0,2131.6 899.0,2130.9 901.0,2130.1 903.0,2128.5 905.0,2128.0 907.0,2125.3 909.0,2122.1 911.0,2117.3 913.0,2111.4 915.0,2103.2 917.0,2093.3 919.0,2080.4 921.0,2066.3 923.0,2048.6 925.0,2028.9 927.0,2007.4 929.0,1984.1 931.0,1958.6 933.0,1933.8 935.0,1906.7 937.0,1880.8 939.0,1855.3 941.0,1831.7 943.0,1809.5 945.0,1792.6 947.0,1775.7 949.0,1763.0 951.0,1756.7 951.1,1756.5 953.0,1758.0 955.0,1764.5 957.0,1773.2 959.0,1788.7 961.0,1804.0 963.0,1824.3 965.0,1845.2 967.0,1869.8 969.0,1895.3 971.0,1919.8 973.0,1944.0 975.0,1967.5 977.0,1990.1 979.0,2010.1 981.0,2028.5 983.0,2044.3 985.0,2058.3 987.0,2069.8 989.0,2080.0 991.0,2085.9 993.0,2092.3 995.0,2096.0 997.0,2097.8 999.0,2099.2 1001.0,2100.6 1003.0,2103.7 1005.0,2103.0 1007.0,2106.3 1009.0,2108.6 1011.0,2112.8 1013.0,2114.3 1015.0,2116.6 1017.0,2118.1 1019.0,2117.5 1021.0,2119.9 1023.0,2119.2 1025.0,2121.1 1027.0,2119.5 1029.0,2119.6 1031.0,2119.7 1033.0,2119.5 1035.0,2119.7 1037.0,2119.2 1039.0,2118.6 1041.0,2119.1 1043.0,2117.7 1045.0,2117.3 1047.0,2117.4 1049.0,2117.1 1051.0,2116.4 1053.0,2115.8 1055.0,2114.9 1057.0,2113.2 1059.0,2113.2 1061.0,2111.7 1063.0,2110.4 1065.0,2109.8 1067.0,2108.3 1069.0,2106.6 1071.0,2105.4 1073.0,2103.2 1075.0,2101.1 1077.0,2099.9 1079.0,2098.1 1081.0,2095.5 1083.0,2093.4 1085.0,2091.5 1087.0,2088.9 1089.0,2086.5 1091.0,2083.9 1093.0,2081.3 1095.0,2079.4 1097.0,2077.3 1099.0,2075.0 1101.0,2071.7 1103.0,2070.3 1105.0,2068.3 1107.0,2065.6 1109.0,2064.4 1111.0,2062.6 1113.0,2062.3 1115.0,2061.6 1117.0,2060.9 1119.0,2060.2 1121.0,2060.2 1123.0,2060.5 1125.0,2060.4 1127.0,2061.6 1129.0,2063.6 1131.0,2064.6 1133.0,2066.3 1135.0,2068.8 1137.0,2070.0 1139.0,2072.9 1141.0,2075.4 1143.0,2078.9 1145.0,2082.1 1147.0,2084.5 1149.0,2088.0 1151.0,2091.3 1153.0,2094.4 1155.0,2097.6 1157.0,2100.8 1159.0,2104.1 1161.0,2107.1 1163.0,2109.4 1165.0,2112.9 1167.0,2116.2 1169.0,2118.2 1171.0,2121.5 1173.0,2124.2 1175.0,2126.5 1177.0,2128.8 1179.0,2130.0 1181.0,2132.5 1183.0,2134.3 1185.0,2135.7 1187.0,2137.0 1189.0,2138.6 1191.0,2139.6 1193.0,2140.6 1195.0,2141.4 1197.0,2142.6 1199.0,2143.0 1201.0,2143.7 1203.0,2144.2 1205.0,2144.9 1207.0,2145.4 1209.0,2145.2 1211.0,2145.5 1213.0,2146.0 1215.0,2146.1 1217.0,2145.9 1219.0,2145.7" fill="#fff" stroke="#3a3a3a" stroke-width="1.2" stroke-linejoin="round"/>
<path d="M919,2148.5 920,2148.5 921,2148.4 922,2148.3 923,2148.2 924,2148.1 925,2148.0 926,2147.9 927,2147.7 928,2147.5 929,2147.3 930,2147.1 931,2146.8 932,2146.5 933,2146.2 934,2145.8 935,2145.4 936,2145.0 937,2144.5 938,2144.0 939,2143.5 940,2142.9 941,2142.3 942,2141.6 943,2141.0 944,2140.3 945,2139.5 946,2138.8 947,2138.0 948,2137.2 949,2136.4 950,2135.5 951,2134.7 952,2133.9 953,2133.1 954,2132.2 955,2131.4 956,2130.7 957,2129.9 958,2129.1 959,2128.4 960,2127.7 961,2127.1 962,2126.4 963,2125.9 964,2125.3 965,2124.8 966,2124.3 967,2123.9 968,2123.4 969,2123.1 970,2122.7 971,2122.4 972,2122.1 973,2121.9 974,2121.7 975,2121.5 976,2121.3 977,2121.2 978,2121.0 979,2120.9 980,2120.8 981,2120.7 982,2120.7 983,2120.6 984,2120.5 985,2120.5 986,2120.5 987,2120.4 988,2120.4 989,2120.4 990,2120.4 991,2120.4 992,2120.3 993,2120.3 994,2120.3 995,2120.3 996,2120.3 997,2120.3 998,2120.3 999,2120.3 1000,2120.3 1001,2120.3 1002,2120.3 1003,2120.3 1004,2120.3 1005,2120.3 1006,2120.3 1007,2120.3 1008,2120.3 1009,2120.3 1010,2120.3 1011,2120.3 1012,2120.3 1013,2120.3 1014,2120.3 1015,2120.3 1016,2120.3 1017,2120.3 1018,2120.3 1019,2120.3 1020,2120.3 1021,2120.3 1022,2120.3 1023,2120.3 1024,2120.3 1025,2120.3 1026,2120.3 1027,2120.3 1028,2120.3 1029,2120.3 1030,2120.3 1031,2120.3 1032,2120.3 1033,2120.3 1034,2120.3 1035,2120.3 1036,2120.3 1037,2120.3 1038,2120.3 1039,2120.3 1040,2120.3 1041,2120.3 1042,2120.3 1043,2120.3 1044,2120.3 1045,2120.3 1046,2120.3 1047,2120.3 1048,2120.3 1049,2120.3 1050,2120.3 1051,2120.3 1052,2120.3 1053,2120.3 1054,2120.3 1055,2120.4 1056,2120.4 1057,2120.4 1058,2120.4 1059,2120.4 1060,2120.4 1061,2120.4 1062,2120.4 1063,2120.4 1064,2120.5 1065,2120.5 1066,2120.5 1067,2120.5 1068,2120.6 1069,2120.6 1070,2120.6 1071,2120.6 1072,2120.7 1073,2120.7 1074,2120.8 1075,2120.8 1076,2120.9 1077,2120.9 1078,2121.0 1079,2121.1 1080,2121.2 1081,2121.2 1082,2121.3 1083,2121.4 1084,2121.5 1085,2121.6 1086,2121.7 1087,2121.9 1088,2122.0 1089,2122.1 1090,2122.3 1091,2122.5 1092,2122.6 1093,2122.8 1094,2123.0 1095,2123.2 1096,2123.4 1097,2123.6 1098,2123.9 1099,2124.1 1100,2124.4 1101,2124.6 1102,2124.9 1103,2125.2 1104,2125.5 1105,2125.8 1106,2126.2 1107,2126.5 1108,2126.8 1109,2127.2 1110,2127.6 1111,2127.9 1112,2128.3 1113,2128.7 1114,2129.1 1115,2129.5 1116,2130.0 1117,2130.4 1118,2130.8 1119,2131.3 1120,2131.7 1121,2132.2 1122,2132.6 1123,2133.1 1124,2133.5 1125,2134.0 1126,2134.5 1127,2134.9 1128,2135.4 1129,2135.8 1130,2136.3 1131,2136.8 1132,2137.2 1133,2137.7 1134,2138.1 1135,2138.5 1136,2139.0 1137,2139.4 1138,2139.8 1139,2140.2 1140,2140.6 1141,2141.0 1142,2141.4 1143,2141.8 1144,2142.1 1145,2142.5 1146,2142.8 1147,2143.1 1148,2143.5 1149,2143.8 1150,2144.1 1151,2144.3 1152,2144.6 1153,2144.9 1154,2145.1 1155,2145.4 1156,2145.6 1157,2145.8 1158,2146.0 1159,2146.2 1160,2146.4 1161,2146.6 1162,2146.7 1163,2146.9 1164,2147.0 1165,2147.2 1166,2147.3 1167,2147.4 1168,2147.5 1169,2147.6 1170,2147.7 1171,2147.8 1172,2147.9 1173,2148.0 1174,2148.1 1175,2148.1 1176,2148.2 1177,2148.3 1178,2148.3 1179,2148.4 1180,2148.4 1181,2148.4 1182,2148.5 1183,2148.5Z" fill="#fff"/>
<path d="M884,2148.5 885,2148.5 886,2148.4 887,2148.3 888,2148.2 889,2148.1 890,2147.9 891,2147.7 892,2147.5 893,2147.2 894,2146.9 895,2146.5 896,2146.1 897,2145.5 898,2144.9 899,2144.2 900,2143.4 901,2142.4 902,2141.3 903,2140.0 904,2138.6 905,2136.9 906,2135.0 907,2132.9 908,2130.5 909,2127.8 910,2124.7 911,2121.4 912,2117.6 913,2113.5 914,2108.9 915,2103.9 916,2098.4 917,2092.4 918,2085.9 919,2078.9 920,2071.4 921,2063.3 922,2054.7 923,2045.6 924,2035.9 925,2025.8 926,2015.1 927,2004.0 928,1992.5 929,1980.6 930,1968.4 931,1956.0 932,1943.3 933,1930.5 934,1917.7 935,1904.9 936,1892.2 937,1879.7 938,1867.5 939,1855.8 940,1844.5 941,1833.8 942,1823.8 943,1814.5 944,1806.1 945,1798.6 946,1792.1 947,1786.7 948,1782.3 949,1779.1 950,1777.1 951,1776.2 952,1776.6 953,1778.1 954,1780.9 955,1784.8 956,1789.8 957,1795.9 958,1803.0 959,1811.1 960,1820.0 961,1829.7 962,1840.1 963,1851.2 964,1862.8 965,1874.8 966,1887.2 967,1899.8 968,1912.5 969,1925.4 970,1938.2 971,1950.9 972,1963.5 973,1975.8 974,1987.8 975,1999.5 976,2010.7 977,2021.6 978,2031.9 979,2041.8 980,2051.1 981,2059.9 982,2068.2 983,2076.0 984,2083.2 985,2089.9 986,2096.0 987,2101.7 988,2106.9 989,2111.7 990,2116.0 991,2119.9 992,2123.4 993,2126.6 994,2129.4 995,2132.0 996,2134.2 997,2136.2 998,2137.9 999,2139.5 1000,2140.8 1001,2142.0 1002,2143.0 1003,2143.9 1004,2144.7 1005,2145.3 1006,2145.9 1007,2146.4 1008,2146.8 1009,2147.1 1010,2147.4 1011,2147.6 1012,2147.8 1013,2148.0 1014,2148.2 1015,2148.3 1016,2148.4 1017,2148.5 1018,2148.5Z" fill="#fa0000" stroke="#000" stroke-width="2" stroke-linejoin="round"/>
<path d="M1020,2148.5 1021,2148.5 1022,2148.4 1023,2148.4 1024,2148.4 1025,2148.3 1026,2148.3 1027,2148.2 1028,2148.2 1029,2148.1 1030,2148.0 1031,2148.0 1032,2147.9 1033,2147.8 1034,2147.7 1035,2147.6 1036,2147.5 1037,2147.4 1038,2147.2 1039,2147.1 1040,2147.0 1041,2146.8 1042,2146.6 1043,2146.5 1044,2146.3 1045,2146.1 1046,2145.8 1047,2145.6 1048,2145.3 1049,2145.1 1050,2144.8 1051,2144.5 1052,2144.2 1053,2143.8 1054,2143.5 1055,2143.1 1056,2142.7 1057,2142.3 1058,2141.8 1059,2141.4 1060,2140.9 1061,2140.4 1062,2139.8 1063,2139.2 1064,2138.7 1065,2138.0 1066,2137.4 1067,2136.7 1068,2136.0 1069,2135.3 1070,2134.5 1071,2133.8 1072,2132.9 1073,2132.1 1074,2131.2 1075,2130.4 1076,2129.4 1077,2128.5 1078,2127.5 1079,2126.5 1080,2125.5 1081,2124.5 1082,2123.4 1083,2122.3 1084,2121.2 1085,2120.1 1086,2118.9 1087,2117.8 1088,2116.6 1089,2115.4 1090,2114.2 1091,2113.0 1092,2111.8 1093,2110.6 1094,2109.4 1095,2108.2 1096,2106.9 1097,2105.7 1098,2104.5 1099,2103.3 1100,2102.2 1101,2101.0 1102,2099.9 1103,2098.7 1104,2097.6 1105,2096.6 1106,2095.5 1107,2094.5 1108,2093.5 1109,2092.6 1110,2091.7 1111,2090.8 1112,2090.0 1113,2089.2 1114,2088.5 1115,2087.8 1116,2087.2 1117,2086.6 1118,2086.1 1119,2085.6 1120,2085.2 1121,2084.8 1122,2084.5 1123,2084.3 1124,2084.2 1125,2084.0 1126,2084.0 1127,2084.0 1128,2084.1 1129,2084.2 1130,2084.4 1131,2084.7 1132,2085.0 1133,2085.4 1134,2085.9 1135,2086.4 1136,2086.9 1137,2087.5 1138,2088.2 1139,2088.9 1140,2089.7 1141,2090.5 1142,2091.3 1143,2092.2 1144,2093.1 1145,2094.1 1146,2095.1 1147,2096.1 1148,2097.2 1149,2098.3 1150,2099.4 1151,2100.5 1152,2101.7 1153,2102.9 1154,2104.1 1155,2105.3 1156,2106.5 1157,2107.7 1158,2108.9 1159,2110.1 1160,2111.3 1161,2112.5 1162,2113.7 1163,2114.9 1164,2116.1 1165,2117.3 1166,2118.5 1167,2119.6 1168,2120.8 1169,2121.9 1170,2123.0 1171,2124.0 1172,2125.1 1173,2126.1 1174,2127.1 1175,2128.1 1176,2129.1 1177,2130.0 1178,2130.9 1179,2131.8 1180,2132.6 1181,2133.4 1182,2134.2 1183,2135.0 1184,2135.7 1185,2136.4 1186,2137.1 1187,2137.8 1188,2138.4 1189,2139.0 1190,2139.6 1191,2140.1 1192,2140.7 1193,2141.2 1194,2141.6 1195,2142.1 1196,2142.5 1197,2142.9 1198,2143.3 1199,2143.7 1200,2144.0 1201,2144.4 1202,2144.7 1203,2145.0 1204,2145.2 1205,2145.5 1206,2145.7 1207,2146.0 1208,2146.2 1209,2146.4 1210,2146.6 1211,2146.7 1212,2146.9 1213,2147.0 1214,2147.2 1215,2147.3 1216,2147.4 1217,2147.6 1218,2147.7 1219,2147.8 1220,2147.8 1221,2147.9 1222,2148.0 1223,2148.1 1224,2148.1 1225,2148.2 1226,2148.3 1227,2148.3 1228,2148.3 1229,2148.4 1230,2148.4 1231,2148.5 1232,2148.5 1233,2148.5Z" fill="#fa0000" stroke="#000" stroke-width="1.8" stroke-linejoin="round"/>
<clipPath id="rclip4"><path d="M884,2148.5 885,2148.5 886,2148.4 887,2148.3 888,2148.2 889,2148.1 890,2147.9 891,2147.7 892,2147.5 893,2147.2 894,2146.9 895,2146.5 896,2146.1 897,2145.5 898,2144.9 899,2144.2 900,2143.4 901,2142.4 902,2141.3 903,2140.0 904,2138.6 905,2136.9 906,2135.0 907,2132.9 908,2130.5 909,2127.8 910,2124.7 911,2121.4 912,2117.6 913,2113.5 914,2108.9 915,2103.9 916,2098.4 917,2092.4 918,2085.9 919,2078.9 920,2071.4 921,2063.3 922,2054.7 923,2045.6 924,2035.9 925,2025.8 926,2015.1 927,2004.0 928,1992.5 929,1980.6 930,1968.4 931,1956.0 932,1943.3 933,1930.5 934,1917.7 935,1904.9 936,1892.2 937,1879.7 938,1867.5 939,1855.8 940,1844.5 941,1833.8 942,1823.8 943,1814.5 944,1806.1 945,1798.6 946,1792.1 947,1786.7 948,1782.3 949,1779.1 950,1777.1 951,1776.2 952,1776.6 953,1778.1 954,1780.9 955,1784.8 956,1789.8 957,1795.9 958,1803.0 959,1811.1 960,1820.0 961,1829.7 962,1840.1 963,1851.2 964,1862.8 965,1874.8 966,1887.2 967,1899.8 968,1912.5 969,1925.4 970,1938.2 971,1950.9 972,1963.5 973,1975.8 974,1987.8 975,1999.5 976,2010.7 977,2021.6 978,2031.9 979,2041.8 980,2051.1 981,2059.9 982,2068.2 983,2076.0 984,2083.2 985,2089.9 986,2096.0 987,2101.7 988,2106.9 989,2111.7 990,2116.0 991,2119.9 992,2123.4 993,2126.6 994,2129.4 995,2132.0 996,2134.2 997,2136.2 998,2137.9 999,2139.5 1000,2140.8 1001,2142.0 1002,2143.0 1003,2143.9 1004,2144.7 1005,2145.3 1006,2145.9 1007,2146.4 1008,2146.8 1009,2147.1 1010,2147.4 1011,2147.6 1012,2147.8 1013,2148.0 1014,2148.2 1015,2148.3 1016,2148.4 1017,2148.5 1018,2148.5Z"/><path d="M1020,2148.5 1021,2148.5 1022,2148.4 1023,2148.4 1024,2148.4 1025,2148.3 1026,2148.3 1027,2148.2 1028,2148.2 1029,2148.1 1030,2148.0 1031,2148.0 1032,2147.9 1033,2147.8 1034,2147.7 1035,2147.6 1036,2147.5 1037,2147.4 1038,2147.2 1039,2147.1 1040,2147.0 1041,2146.8 1042,2146.6 1043,2146.5 1044,2146.3 1045,2146.1 1046,2145.8 1047,2145.6 1048,2145.3 1049,2145.1 1050,2144.8 1051,2144.5 1052,2144.2 1053,2143.8 1054,2143.5 1055,2143.1 1056,2142.7 1057,2142.3 1058,2141.8 1059,2141.4 1060,2140.9 1061,2140.4 1062,2139.8 1063,2139.2 1064,2138.7 1065,2138.0 1066,2137.4 1067,2136.7 1068,2136.0 1069,2135.3 1070,2134.5 1071,2133.8 1072,2132.9 1073,2132.1 1074,2131.2 1075,2130.4 1076,2129.4 1077,2128.5 1078,2127.5 1079,2126.5 1080,2125.5 1081,2124.5 1082,2123.4 1083,2122.3 1084,2121.2 1085,2120.1 1086,2118.9 1087,2117.8 1088,2116.6 1089,2115.4 1090,2114.2 1091,2113.0 1092,2111.8 1093,2110.6 1094,2109.4 1095,2108.2 1096,2106.9 1097,2105.7 1098,2104.5 1099,2103.3 1100,2102.2 1101,2101.0 1102,2099.9 1103,2098.7 1104,2097.6 1105,2096.6 1106,2095.5 1107,2094.5 1108,2093.5 1109,2092.6 1110,2091.7 1111,2090.8 1112,2090.0 1113,2089.2 1114,2088.5 1115,2087.8 1116,2087.2 1117,2086.6 1118,2086.1 1119,2085.6 1120,2085.2 1121,2084.8 1122,2084.5 1123,2084.3 1124,2084.2 1125,2084.0 1126,2084.0 1127,2084.0 1128,2084.1 1129,2084.2 1130,2084.4 1131,2084.7 1132,2085.0 1133,2085.4 1134,2085.9 1135,2086.4 1136,2086.9 1137,2087.5 1138,2088.2 1139,2088.9 1140,2089.7 1141,2090.5 1142,2091.3 1143,2092.2 1144,2093.1 1145,2094.1 1146,2095.1 1147,2096.1 1148,2097.2 1149,2098.3 1150,2099.4 1151,2100.5 1152,2101.7 1153,2102.9 1154,2104.1 1155,2105.3 1156,2106.5 1157,2107.7 1158,2108.9 1159,2110.1 1160,2111.3 1161,2112.5 1162,2113.7 1163,2114.9 1164,2116.1 1165,2117.3 1166,2118.5 1167,2119.6 1168,2120.8 1169,2121.9 1170,2123.0 1171,2124.0 1172,2125.1 1173,2126.1 1174,2127.1 1175,2128.1 1176,2129.1 1177,2130.0 1178,2130.9 1179,2131.8 1180,2132.6 1181,2133.4 1182,2134.2 1183,2135.0 1184,2135.7 1185,2136.4 1186,2137.1 1187,2137.8 1188,2138.4 1189,2139.0 1190,2139.6 1191,2140.1 1192,2140.7 1193,2141.2 1194,2141.6 1195,2142.1 1196,2142.5 1197,2142.9 1198,2143.3 1199,2143.7 1200,2144.0 1201,2144.4 1202,2144.7 1203,2145.0 1204,2145.2 1205,2145.5 1206,2145.7 1207,2146.0 1208,2146.2 1209,2146.4 1210,2146.6 1211,2146.7 1212,2146.9 1213,2147.0 1214,2147.2 1215,2147.3 1216,2147.4 1217,2147.6 1218,2147.7 1219,2147.8 1220,2147.8 1221,2147.9 1222,2148.0 1223,2148.1 1224,2148.1 1225,2148.2 1226,2148.3 1227,2148.3 1228,2148.3 1229,2148.4 1230,2148.4 1231,2148.5 1232,2148.5 1233,2148.5Z"/></clipPath>
<g clip-path="url(#sclip4)" fill="none" stroke-width="1.5">
<path d="M864.2,2116.3l34.5,34.5M874.8,2116.3l34.5,34.5M885.4,2116.3l34.5,34.5M896.0,2116.3l34.5,34.5M906.6,2116.3l34.5,34.5M917.2,2116.3l34.5,34.5M927.8,2116.3l34.5,34.5M938.4,2116.3l34.5,34.5M949.0,2116.3l34.5,34.5M959.6,2116.3l34.5,34.5M970.2,2116.3l34.5,34.5M980.8,2116.3l34.5,34.5M991.4,2116.3l34.5,34.5M1002.0,2116.3l34.5,34.5M1012.6,2116.3l34.5,34.5M1023.2,2116.3l34.5,34.5M1033.8,2116.3l34.5,34.5M1044.4,2116.3l34.5,34.5M1055.0,2116.3l34.5,34.5M1065.6,2116.3l34.5,34.5M1076.2,2116.3l34.5,34.5M1086.8,2116.3l34.5,34.5M1097.4,2116.3l34.5,34.5M1108.0,2116.3l34.5,34.5M1118.6,2116.3l34.5,34.5M1129.2,2116.3l34.5,34.5M1139.8,2116.3l34.5,34.5M1150.4,2116.3l34.5,34.5M1161.0,2116.3l34.5,34.5M1171.6,2116.3l34.5,34.5M1182.2,2116.3l34.5,34.5M1192.8,2116.3l34.5,34.5M1203.4,2116.3l34.5,34.5M1214.0,2116.3l34.5,34.5M1224.6,2116.3l34.5,34.5" stroke="#4a4aff"/>
<g clip-path="url(#rclip4)"><path d="M864.2,2116.3l34.5,34.5M874.8,2116.3l34.5,34.5M885.4,2116.3l34.5,34.5M896.0,2116.3l34.5,34.5M906.6,2116.3l34.5,34.5M917.2,2116.3l34.5,34.5M927.8,2116.3l34.5,34.5M938.4,2116.3l34.5,34.5M949.0,2116.3l34.5,34.5M959.6,2116.3l34.5,34.5M970.2,2116.3l34.5,34.5M980.8,2116.3l34.5,34.5M991.4,2116.3l34.5,34.5M1002.0,2116.3l34.5,34.5M1012.6,2116.3l34.5,34.5M1023.2,2116.3l34.5,34.5M1033.8,2116.3l34.5,34.5M1044.4,2116.3l34.5,34.5M1055.0,2116.3l34.5,34.5M1065.6,2116.3l34.5,34.5M1076.2,2116.3l34.5,34.5M1086.8,2116.3l34.5,34.5M1097.4,2116.3l34.5,34.5M1108.0,2116.3l34.5,34.5M1118.6,2116.3l34.5,34.5M1129.2,2116.3l34.5,34.5M1139.8,2116.3l34.5,34.5M1150.4,2116.3l34.5,34.5M1161.0,2116.3l34.5,34.5M1171.6,2116.3l34.5,34.5M1182.2,2116.3l34.5,34.5M1192.8,2116.3l34.5,34.5M1203.4,2116.3l34.5,34.5M1214.0,2116.3l34.5,34.5M1224.6,2116.3l34.5,34.5" stroke="#7a0a8c" stroke-width="1.5"/></g>
</g>
<path d="M919,2148.5 920,2148.5 921,2148.4 922,2148.3 923,2148.2 924,2148.1 925,2148.0 926,2147.9 927,2147.7 928,2147.5 929,2147.3 930,2147.1 931,2146.8 932,2146.5 933,2146.2 934,2145.8 935,2145.4 936,2145.0 937,2144.5 938,2144.0 939,2143.5 940,2142.9 941,2142.3 942,2141.6 943,2141.0 944,2140.3 945,2139.5 946,2138.8 947,2138.0 948,2137.2 949,2136.4 950,2135.5 951,2134.7 952,2133.9 953,2133.1 954,2132.2 955,2131.4 956,2130.7 957,2129.9 958,2129.1 959,2128.4 960,2127.7 961,2127.1 962,2126.4 963,2125.9 964,2125.3 965,2124.8 966,2124.3 967,2123.9 968,2123.4 969,2123.1 970,2122.7 971,2122.4 972,2122.1 973,2121.9 974,2121.7 975,2121.5 976,2121.3 977,2121.2 978,2121.0 979,2120.9 980,2120.8 981,2120.7 982,2120.7 983,2120.6 984,2120.5 985,2120.5 986,2120.5 987,2120.4 988,2120.4 989,2120.4 990,2120.4 991,2120.4 992,2120.3 993,2120.3 994,2120.3 995,2120.3 996,2120.3 997,2120.3 998,2120.3 999,2120.3 1000,2120.3 1001,2120.3 1002,2120.3 1003,2120.3 1004,2120.3 1005,2120.3 1006,2120.3 1007,2120.3 1008,2120.3 1009,2120.3 1010,2120.3 1011,2120.3 1012,2120.3 1013,2120.3 1014,2120.3 1015,2120.3 1016,2120.3 1017,2120.3 1018,2120.3 1019,2120.3 1020,2120.3 1021,2120.3 1022,2120.3 1023,2120.3 1024,2120.3 1025,2120.3 1026,2120.3 1027,2120.3 1028,2120.3 1029,2120.3 1030,2120.3 1031,2120.3 1032,2120.3 1033,2120.3 1034,2120.3 1035,2120.3 1036,2120.3 1037,2120.3 1038,2120.3 1039,2120.3 1040,2120.3 1041,2120.3 1042,2120.3 1043,2120.3 1044,2120.3 1045,2120.3 1046,2120.3 1047,2120.3 1048,2120.3 1049,2120.3 1050,2120.3 1051,2120.3 1052,2120.3 1053,2120.3 1054,2120.3 1055,2120.4 1056,2120.4 1057,2120.4 1058,2120.4 1059,2120.4 1060,2120.4 1061,2120.4 1062,2120.4 1063,2120.4 1064,2120.5 1065,2120.5 1066,2120.5 1067,2120.5 1068,2120.6 1069,2120.6 1070,2120.6 1071,2120.6 1072,2120.7 1073,2120.7 1074,2120.8 1075,2120.8 1076,2120.9 1077,2120.9 1078,2121.0 1079,2121.1 1080,2121.2 1081,2121.2 1082,2121.3 1083,2121.4 1084,2121.5 1085,2121.6 1086,2121.7 1087,2121.9 1088,2122.0 1089,2122.1 1090,2122.3 1091,2122.5 1092,2122.6 1093,2122.8 1094,2123.0 1095,2123.2 1096,2123.4 1097,2123.6 1098,2123.9 1099,2124.1 1100,2124.4 1101,2124.6 1102,2124.9 1103,2125.2 1104,2125.5 1105,2125.8 1106,2126.2 1107,2126.5 1108,2126.8 1109,2127.2 1110,2127.6 1111,2127.9 1112,2128.3 1113,2128.7 1114,2129.1 1115,2129.5 1116,2130.0 1117,2130.4 1118,2130.8 1119,2131.3 1120,2131.7 1121,2132.2 1122,2132.6 1123,2133.1 1124,2133.5 1125,2134.0 1126,2134.5 1127,2134.9 1128,2135.4 1129,2135.8 1130,2136.3 1131,2136.8 1132,2137.2 1133,2137.7 1134,2138.1 1135,2138.5 1136,2139.0 1137,2139.4 1138,2139.8 1139,2140.2 1140,2140.6 1141,2141.0 1142,2141.4 1143,2141.8 1144,2142.1 1145,2142.5 1146,2142.8 1147,2143.1 1148,2143.5 1149,2143.8 1150,2144.1 1151,2144.3 1152,2144.6 1153,2144.9 1154,2145.1 1155,2145.4 1156,2145.6 1157,2145.8 1158,2146.0 1159,2146.2 1160,2146.4 1161,2146.6 1162,2146.7 1163,2146.9 1164,2147.0 1165,2147.2 1166,2147.3 1167,2147.4 1168,2147.5 1169,2147.6 1170,2147.7 1171,2147.8 1172,2147.9 1173,2148.0 1174,2148.1 1175,2148.1 1176,2148.2 1177,2148.3 1178,2148.3 1179,2148.4 1180,2148.4 1181,2148.4 1182,2148.5 1183,2148.5Z" fill="none" stroke="#111" stroke-width="1.4"/>
<line x1="774.40" y1="1722.80" x2="774.40" y2="2169.80" stroke="#3a3a3a" stroke-width="2.1"/>
<line x1="754.40" y1="2148.80" x2="880.00" y2="2148.80" stroke="#111" stroke-width="2.4"/>
<line x1="1219.90" y1="2148.80" x2="1272.50" y2="2148.80" stroke="#111" stroke-width="2.4"/>
<line x1="879.00" y1="2149.10" x2="1220.90" y2="2149.10" stroke="#7f8f8f" stroke-width="2.2"/>
<text x="747.40" y="2153.38" font-size="23" font-weight="bold" fill="#0a0a0a" transform="rotate(-90 747.40 2153.38)">0</text>
<line x1="765.10" y1="2127.55" x2="774.40" y2="2127.55" stroke="#3a3a3a" stroke-width="1.9"/>
<line x1="765.10" y1="2106.30" x2="774.40" y2="2106.30" stroke="#3a3a3a" stroke-width="1.9"/>
<line x1="765.10" y1="2085.05" x2="774.40" y2="2085.05" stroke="#3a3a3a" stroke-width="1.9"/>
<line x1="765.10" y1="2063.80" x2="774.40" y2="2063.80" stroke="#3a3a3a" stroke-width="1.9"/>
<line x1="754.60" y1="2042.55" x2="774.40" y2="2042.55" stroke="#3a3a3a" stroke-width="1.9"/>
<text x="747.40" y="2061.64" font-size="23" font-weight="bold" fill="#0a0a0a" transform="rotate(-90 747.40 2061.64)">500</text>
<line x1="765.10" y1="2021.30" x2="774.40" y2="2021.30" stroke="#3a3a3a" stroke-width="1.9"/>
<line x1="765.10" y1="2000.05" x2="774.40" y2="2000.05" stroke="#3a3a3a" stroke-width="1.9"/>
<line x1="765.10" y1="1978.80" x2="774.40" y2="1978.80" stroke="#3a3a3a" stroke-width="1.9"/>
<line x1="765.10" y1="1957.55" x2="774.40" y2="1957.55" stroke="#3a3a3a" stroke-width="1.9"/>
<line x1="754.60" y1="1936.30" x2="774.40" y2="1936.30" stroke="#3a3a3a" stroke-width="1.9"/>
<text x="747.40" y="1962.12" font-size="23" font-weight="bold" fill="#0a0a0a" transform="rotate(-90 747.40 1962.12)">1000</text>
<line x1="765.10" y1="1915.05" x2="774.40" y2="1915.05" stroke="#3a3a3a" stroke-width="1.9"/>
<line x1="765.10" y1="1893.80" x2="774.40" y2="1893.80" stroke="#3a3a3a" stroke-width="1.9"/>
<line x1="765.10" y1="1872.55" x2="774.40" y2="1872.55" stroke="#3a3a3a" stroke-width="1.9"/>
<line x1="765.10" y1="1851.30" x2="774.40" y2="1851.30" stroke="#3a3a3a" stroke-width="1.9"/>
<line x1="754.60" y1="1830.05" x2="774.40" y2="1830.05" stroke="#3a3a3a" stroke-width="1.9"/>
<text x="747.40" y="1849.12" font-size="23" font-weight="bold" fill="#0a0a0a" transform="rotate(-90 747.40 1849.12)">1500</text>
<line x1="765.10" y1="1808.80" x2="774.40" y2="1808.80" stroke="#3a3a3a" stroke-width="1.9"/>
<line x1="765.10" y1="1787.55" x2="774.40" y2="1787.55" stroke="#3a3a3a" stroke-width="1.9"/>
<line x1="765.10" y1="1766.30" x2="774.40" y2="1766.30" stroke="#3a3a3a" stroke-width="1.9"/>
<line x1="765.10" y1="1745.05" x2="774.40" y2="1745.05" stroke="#3a3a3a" stroke-width="1.9"/>
<line x1="754.60" y1="1723.80" x2="774.40" y2="1723.80" stroke="#3a3a3a" stroke-width="1.9"/>
<text x="747.40" y="1745.70" font-size="23" font-weight="bold" fill="#0a0a0a" transform="rotate(-90 747.40 1745.70)">2000</text>
<line x1="795.11" y1="2148.80" x2="795.11" y2="2159.20" stroke="#3a3a3a" stroke-width="2.0"/>
<line x1="815.82" y1="2148.80" x2="815.82" y2="2159.20" stroke="#3a3a3a" stroke-width="2.0"/>
<line x1="836.54" y1="2148.80" x2="836.54" y2="2159.20" stroke="#3a3a3a" stroke-width="2.0"/>
<line x1="857.25" y1="2148.80" x2="857.25" y2="2169.40" stroke="#3a3a3a" stroke-width="2.0"/>
<line x1="877.96" y1="2148.80" x2="877.96" y2="2159.20" stroke="#3a3a3a" stroke-width="2.0"/>
<line x1="898.67" y1="2148.80" x2="898.67" y2="2159.20" stroke="#3a3a3a" stroke-width="2.0"/>
<line x1="919.39" y1="2148.80" x2="919.39" y2="2159.20" stroke="#3a3a3a" stroke-width="2.0"/>
<line x1="940.10" y1="2148.80" x2="940.10" y2="2169.40" stroke="#3a3a3a" stroke-width="2.0"/>
<line x1="960.81" y1="2148.80" x2="960.81" y2="2159.20" stroke="#3a3a3a" stroke-width="2.0"/>
<line x1="981.52" y1="2148.80" x2="981.52" y2="2159.20" stroke="#3a3a3a" stroke-width="2.0"/>
<line x1="1002.24" y1="2148.80" x2="1002.24" y2="2159.20" stroke="#3a3a3a" stroke-width="2.0"/>
<line x1="1022.95" y1="2148.80" x2="1022.95" y2="2169.40" stroke="#3a3a3a" stroke-width="2.0"/>
<line x1="1043.66" y1="2148.80" x2="1043.66" y2="2159.20" stroke="#3a3a3a" stroke-width="2.0"/>
<line x1="1064.38" y1="2148.80" x2="1064.38" y2="2159.20" stroke="#3a3a3a" stroke-width="2.0"/>
<line x1="1085.09" y1="2148.80" x2="1085.09" y2="2159.20" stroke="#3a3a3a" stroke-width="2.0"/>
<line x1="1105.80" y1="2148.80" x2="1105.80" y2="2169.40" stroke="#3a3a3a" stroke-width="2.0"/>
<line x1="1126.51" y1="2148.80" x2="1126.51" y2="2159.20" stroke="#3a3a3a" stroke-width="2.0"/>
<line x1="1147.22" y1="2148.80" x2="1147.22" y2="2159.20" stroke="#3a3a3a" stroke-width="2.0"/>
<line x1="1167.94" y1="2148.80" x2="1167.94" y2="2159.20" stroke="#3a3a3a" stroke-width="2.0"/>
<line x1="1188.65" y1="2148.80" x2="1188.65" y2="2169.40" stroke="#3a3a3a" stroke-width="2.0"/>
<line x1="1209.36" y1="2148.80" x2="1209.36" y2="2159.20" stroke="#3a3a3a" stroke-width="2.0"/>
<line x1="1230.08" y1="2148.80" x2="1230.08" y2="2159.20" stroke="#3a3a3a" stroke-width="2.0"/>
<line x1="1250.79" y1="2148.80" x2="1250.79" y2="2159.20" stroke="#3a3a3a" stroke-width="2.0"/>
<line x1="1271.50" y1="2148.80" x2="1271.50" y2="2169.40" stroke="#3a3a3a" stroke-width="2.0"/>
<text x="766.66" y="2192.80" font-size="22.8" font-weight="bold" fill="#0a0a0a" textLength="13.11" lengthAdjust="spacingAndGlyphs">0</text>
<text x="844.29" y="2190.30" font-size="22.8" font-weight="bold" fill="#0a0a0a" textLength="25.90" lengthAdjust="spacingAndGlyphs">20</text>
<text x="928.86" y="2190.30" font-size="22.8" font-weight="bold" fill="#0a0a0a" textLength="25.09" lengthAdjust="spacingAndGlyphs">40</text>
<text x="1009.63" y="2190.30" font-size="22.8" font-weight="bold" fill="#0a0a0a" textLength="25.86" lengthAdjust="spacingAndGlyphs">60</text>
<text x="1090.95" y="2190.30" font-size="22.8" font-weight="bold" fill="#0a0a0a" textLength="25.84" lengthAdjust="spacingAndGlyphs">80</text>
<text x="1165.83" y="2190.30" font-size="22.8" font-weight="bold" fill="#0a0a0a" textLength="39.34" lengthAdjust="spacingAndGlyphs">100</text>
<text x="1249.92" y="2190.30" font-size="22.8" font-weight="bold" fill="#0a0a0a" textLength="39.45" lengthAdjust="spacingAndGlyphs">120</text>
<path d="M940.9,2163.2 L956.9,2163.2 L948.9,2149.3 Z" fill="#000"/>
<path d="M1118.3,2163.2 L1134.3,2163.2 L1126.3,2149.3 Z" fill="#000"/>
<rect x="1139.70" y="1745.90" width="22.10" height="19.60" fill="#fa0000" stroke="#16302e" stroke-width="1.6"/>
<rect x="1139.70" y="1771.70" width="22.10" height="19.30" fill="#fa0000" stroke="#16302e" stroke-width="1.6"/>
<rect x="1139.70" y="1796.80" width="22.10" height="19.80" fill="#fff" stroke="none" stroke-width="0"/>
<clipPath id="lg4"><rect x="1139.7" y="1796.8" width="22.1" height="19.8"/></clipPath>
<g clip-path="url(#lg4)">
<line x1="1122.10" y1="1796.00" x2="1146.10" y2="1821.50" stroke="#3c3cff" stroke-width="2.0"/>
<line x1="1136.30" y1="1796.00" x2="1160.30" y2="1821.50" stroke="#3c3cff" stroke-width="2.0"/>
<line x1="1151.20" y1="1796.00" x2="1175.20" y2="1821.50" stroke="#3c3cff" stroke-width="2.0"/>
</g>
<rect x="1139.70" y="1796.80" width="22.10" height="19.80" fill="none" stroke="#1c1c1c" stroke-width="1.6"/>
<text x="1171.52" y="1761.90" font-size="23.6" font-weight="bold" fill="#000" textLength="161.22" lengthAdjust="spacingAndGlyphs">Dip G1 60.93%</text>
<text x="1170.83" y="1790.50" font-size="23.6" font-weight="bold" fill="#000" textLength="160.61" lengthAdjust="spacingAndGlyphs">Dip G2 20.44%</text>
<text x="1171.22" y="1816.50" font-size="23.6" font-weight="bold" fill="#000" textLength="59.98" lengthAdjust="spacingAndGlyphs">Dip S</text>
<text x="1250.85" y="1816.50" font-size="23.6" font-weight="bold" fill="#000" textLength="78.77" lengthAdjust="spacingAndGlyphs">18.63%</text>
<text x="957.41" y="2229.70" font-size="23.5" font-weight="bold" fill="#000">FL2-A PE-A</text>
<text x="954.70" y="2284.90" font-size="37.6" font-weight="bold" fill="#000" textLength="183.23" lengthAdjust="spacingAndGlyphs">shCul4A-1</text>
<clipPath id="sclip5"><path d="M1578,2148.2 1580,2148.2 1580,2148.1 1582,2148.0 1582,2147.9 1584,2147.8 1584,2147.7 1586,2147.5 1586,2147.3 1588,2147.1 1588,2146.9 1590,2146.7 1590,2146.4 1592,2146.1 1592,2145.7 1594,2145.3 1594,2144.9 1596,2144.4 1596,2143.9 1598,2143.3 1598,2142.8 1600,2142.1 1600,2141.4 1602,2140.7 1602,2139.9 1604,2139.1 1604,2138.3 1606,2137.5 1606,2136.6 1608,2135.7 1608,2134.7 1610,2133.8 1610,2132.8 1612,2131.9 1612,2130.9 1614,2129.9 1614,2129.0 1616,2128.1 1616,2127.2 1618,2126.3 1618,2125.4 1620,2124.6 1620,2123.8 1622,2123.0 1622,2122.3 1624,2121.7 1624,2121.0 1626,2120.4 1626,2119.9 1628,2119.4 1628,2118.9 1630,2118.5 1630,2118.1 1632,2117.8 1632,2117.5 1634,2117.2 1634,2116.9 1636,2116.7 1636,2116.5 1638,2116.3 1638,2116.2 1640,2116.1 1640,2116.0 1642,2115.9 1642,2115.8 1644,2115.7 1644,2115.7 1646,2115.6 1646,2115.6 1648,2115.5 1648,2115.5 1650,2115.5 1650,2115.5 1652,2115.5 1652,2115.4 1654,2115.4 1654,2115.4 1656,2115.4 1656,2115.4 1658,2115.4 1658,2115.4 1660,2115.4 1660,2115.4 1662,2115.4 1662,2115.4 1664,2115.4 1664,2115.4 1666,2115.4 1666,2115.4 1668,2115.4 1668,2115.4 1670,2115.4 1670,2115.4 1672,2115.4 1672,2115.4 1674,2115.4 1674,2115.4 1676,2115.4 1676,2115.4 1678,2115.4 1678,2115.4 1680,2115.4 1680,2115.4 1682,2115.4 1682,2115.4 1684,2115.4 1684,2115.4 1686,2115.4 1686,2115.4 1688,2115.4 1688,2115.4 1690,2115.4 1690,2115.4 1692,2115.4 1692,2115.4 1694,2115.4 1694,2115.4 1696,2115.4 1696,2115.4 1698,2115.4 1698,2115.4 1700,2115.4 1700,2115.4 1702,2115.4 1702,2115.4 1704,2115.5 1704,2115.5 1706,2115.5 1706,2115.5 1708,2115.5 1708,2115.5 1710,2115.5 1710,2115.5 1712,2115.5 1712,2115.6 1714,2115.6 1714,2115.6 1716,2115.6 1716,2115.6 1718,2115.7 1718,2115.7 1720,2115.7 1720,2115.8 1722,2115.8 1722,2115.9 1724,2115.9 1724,2116.0 1726,2116.0 1726,2116.1 1728,2116.2 1728,2116.3 1730,2116.3 1730,2116.4 1732,2116.5 1732,2116.6 1734,2116.7 1734,2116.9 1736,2117.0 1736,2117.1 1738,2117.3 1738,2117.4 1740,2117.6 1740,2117.8 1742,2118.0 1742,2118.2 1744,2118.4 1744,2118.6 1746,2118.8 1746,2119.1 1748,2119.4 1748,2119.6 1750,2119.9 1750,2120.2 1752,2120.5 1752,2120.8 1754,2121.2 1754,2121.5 1756,2121.9 1756,2122.3 1758,2122.7 1758,2123.1 1760,2123.5 1760,2123.9 1762,2124.4 1762,2124.8 1764,2125.3 1764,2125.7 1766,2126.2 1766,2126.7 1768,2127.2 1768,2127.7 1770,2128.2 1770,2128.7 1772,2129.2 1772,2129.8 1774,2130.3 1774,2130.8 1776,2131.4 1776,2131.9 1778,2132.4 1778,2133.0 1780,2133.5 1780,2134.0 1782,2134.6 1782,2135.1 1784,2135.6 1784,2136.1 1786,2136.6 1786,2137.1 1788,2137.6 1788,2138.1 1790,2138.5 1790,2139.0 1792,2139.5 1792,2139.9 1794,2140.3 1794,2140.7 1796,2141.1 1796,2141.5 1798,2141.9 1798,2142.3 1800,2142.6 1800,2143.0 1802,2143.3 1802,2143.6 1804,2143.9 1804,2144.2 1806,2144.5 1806,2144.8 1808,2145.0 1808,2145.2 1810,2145.5 1810,2145.7 1812,2145.9 1812,2146.1 1814,2146.3 1814,2146.4 1816,2146.6 1816,2146.7 1818,2146.9 1818,2147.0 1820,2147.1 1820,2147.3 1822,2147.4 1822,2147.5 1824,2147.5 1824,2147.6 1826,2147.7 1826,2147.8 1828,2147.8 1828,2147.9 1830,2148.0 1830,2148.0 1832,2148.1 1832,2148.1 1834,2148.1 1834,2148.2 1836,2148.2Z"/></clipPath>
<path d="M1542.3,2148.2 1543.9,2147.8 1545.5,2146.1 1547.1,2147.9 1548.7,2145.7 1550.3,2146.7 1551.9,2143.5 1553.5,2143.4 1555.1,2141.6 1556.7,2142.0 1558.3,2140.0 1559.9,2139.1 1561.5,2137.5 1563.1,2134.3 1564.7,2132.6 1566.3,2128.1 1567.9,2122.5 1569.5,2117.6 1571.1,2111.5 1572.7,2100.9 1574.3,2094.2 1575.9,2084.6 1577.5,2072.0 1579.1,2059.9 1580.7,2045.4 1582.3,2029.8 1583.9,2009.8 1585.5,1994.9 1587.1,1976.2 1588.7,1956.2 1590.3,1934.5 1591.9,1918.3 1593.5,1899.3 1595.1,1874.6 1596.7,1862.4 1598.3,1842.2 1599.9,1822.9 1601.5,1803.5 1603.1,1794.7 1604.7,1784.7 1606.3,1768.7 1607.9,1764.0 1608.4,1761.5 1609.5,1758.6 1611.1,1759.1 1612.7,1762.3 1614.3,1769.9 1615.9,1775.2 1617.5,1785.5 1619.1,1800.8 1620.7,1815.8 1622.3,1829.2 1623.9,1846.4 1625.5,1866.8 1627.1,1884.2 1628.7,1900.4 1630.3,1921.2 1631.9,1940.2 1633.5,1957.5 1635.1,1975.3 1636.7,1991.8 1638.3,2010.0 1639.9,2019.2 1641.5,2034.3 1643.1,2047.5 1644.7,2055.4 1646.3,2065.3 1647.9,2073.2 1649.5,2075.9 1651.1,2076.7 1652.7,2086.5 1654.3,2085.7 1655.9,2085.7 1657.5,2097.9 1659.1,2097.2 1660.7,2093.9 1662.3,2103.4 1663.9,2100.0 1665.5,2096.7 1667.1,2099.6 1668.7,2103.2 1670.3,2113.3 1671.9,2101.6 1673.5,2108.9 1675.1,2109.5 1676.7,2111.3 1678.3,2118.7 1679.9,2118.2 1681.5,2117.7 1683.1,2108.0 1684.7,2116.5 1686.3,2114.0 1687.9,2113.8 1689.5,2112.8 1691.1,2112.6 1692.7,2112.5 1694.3,2113.7 1695.9,2115.3 1697.5,2111.4 1699.1,2110.8 1700.7,2109.3 1702.3,2110.1 1703.9,2110.0 1705.5,2108.2 1707.1,2109.6 1708.7,2108.2 1710.3,2107.3 1711.9,2105.0 1713.5,2102.0 1715.1,2102.3 1716.7,2100.7 1718.3,2100.5 1719.9,2099.1 1721.5,2098.5 1723.1,2096.8 1724.7,2097.7 1726.3,2094.7 1727.9,2093.1 1729.5,2089.0 1731.1,2087.4 1732.7,2084.9 1734.3,2082.5 1735.9,2082.8 1737.5,2079.2 1739.1,2076.1 1740.7,2076.5 1742.3,2073.1 1743.9,2072.7 1745.5,2072.5 1747.1,2068.4 1748.7,2067.7 1750.3,2064.7 1751.9,2063.7 1753.5,2061.1 1755.1,2062.7 1756.7,2055.9 1758.3,2055.5 1759.9,2056.6 1761.5,2056.3 1763.1,2054.3 1764.7,2052.8 1766.3,2052.6 1767.9,2052.4 1769.5,2055.3 1771.1,2054.3 1772.7,2051.4 1774.3,2053.3 1775.9,2056.3 1777.5,2056.3 1779.1,2058.2 1780.7,2058.9 1782.3,2057.5 1783.9,2060.9 1785.5,2061.0 1787.1,2064.1 1788.7,2068.3 1790.3,2069.4 1791.9,2068.1 1793.5,2074.3 1795.1,2077.1 1796.7,2076.9 1798.3,2080.9 1799.9,2083.7 1801.5,2084.7 1803.1,2091.2 1804.7,2091.4 1806.3,2095.9 1807.9,2099.0 1809.5,2101.0 1811.1,2101.4 1812.7,2105.5 1814.3,2109.9 1815.9,2111.5 1817.5,2111.1 1819.1,2114.0 1820.7,2118.5 1822.3,2117.0 1823.9,2122.0 1825.5,2124.8 1827.1,2125.6 1828.7,2126.3 1830.3,2127.4 1831.9,2129.6 1833.5,2132.4 1835.1,2133.9 1836.7,2136.1 1838.3,2136.0 1839.9,2137.6 1841.5,2137.9 1843.1,2140.2 1844.7,2140.4 1846.3,2141.5 1847.9,2142.5 1849.5,2143.1 1851.1,2143.6 1852.7,2144.2 1854.3,2143.2 1855.9,2144.0 1857.5,2145.5 1859.1,2144.3 1860.7,2144.7 1862.3,2144.0 1863.9,2145.5 1865.5,2145.6 1867.1,2146.1 1868.7,2145.5 1870.3,2145.3 1871.9,2145.6 1873.5,2146.0 1875.1,2145.4 1876.7,2145.8 1878.3,2145.8 1879.9,2146.7 1881.5,2145.9 1883.1,2146.9 1884.7,2146.9 1886.3,2146.2 1887.9,2144.9" fill="#fff" stroke="#2a2a2a" stroke-width="1.2" stroke-linejoin="round"/>
<path d="M1542.3,2147.2 1544.3,2146.9 1546.3,2146.5 1548.3,2145.6 1550.3,2144.9 1552.3,2144.2 1554.3,2143.6 1556.3,2142.6 1558.3,2141.5 1560.3,2139.9 1562.3,2138.1 1564.3,2135.3 1566.3,2132.3 1568.3,2127.6 1570.3,2121.3 1572.3,2114.4 1574.3,2105.0 1576.3,2094.8 1578.3,2081.7 1580.3,2066.6 1582.3,2050.2 1584.3,2031.3 1586.3,2009.3 1588.3,1988.3 1590.3,1964.7 1592.3,1940.3 1594.3,1915.4 1596.3,1891.0 1598.3,1867.2 1600.3,1845.6 1602.3,1827.1 1604.3,1811.1 1606.3,1799.3 1608.3,1790.6 1610.3,1785.2 1610.9,1784.0 1612.3,1783.3 1614.3,1785.3 1616.3,1791.4 1618.3,1802.1 1620.3,1814.9 1622.3,1833.6 1624.3,1853.6 1626.3,1875.4 1628.3,1897.6 1630.3,1921.5 1632.3,1944.8 1634.3,1966.6 1636.3,1987.4 1638.3,2007.4 1640.3,2025.1 1642.3,2040.3 1644.3,2053.9 1646.3,2065.4 1648.3,2075.8 1650.3,2082.0 1652.3,2087.2 1654.3,2092.8 1656.3,2092.3 1658.3,2094.9 1660.3,2096.5 1662.3,2095.6 1664.3,2099.4 1666.3,2102.6 1668.3,2104.6 1670.3,2106.7 1672.3,2108.8 1674.3,2111.4 1676.3,2113.4 1678.3,2114.0 1680.3,2114.5 1682.3,2114.9 1684.3,2113.9 1686.3,2113.9 1688.3,2113.5 1690.3,2113.5 1692.3,2113.1 1694.3,2112.5 1696.3,2112.0 1698.3,2111.0 1700.3,2111.0 1702.3,2110.0 1704.3,2109.2 1706.3,2108.7 1708.3,2107.1 1710.3,2106.2 1712.3,2105.7 1714.3,2103.6 1716.3,2102.1 1718.3,2101.1 1720.3,2098.7 1722.3,2097.4 1724.3,2095.9 1726.3,2093.4 1728.3,2091.6 1730.3,2089.7 1732.3,2087.7 1734.3,2084.6 1736.3,2082.6 1738.3,2079.7 1740.3,2077.4 1742.3,2075.2 1744.3,2072.8 1746.3,2069.7 1748.3,2067.4 1750.3,2065.5 1752.3,2063.8 1754.3,2062.1 1756.3,2060.1 1758.3,2057.9 1760.3,2056.9 1762.3,2056.1 1764.3,2055.6 1766.3,2054.5 1768.3,2054.5 1770.3,2054.2 1772.3,2054.3 1774.3,2054.7 1776.3,2056.0 1778.3,2057.3 1780.3,2058.6 1782.3,2059.8 1784.3,2062.3 1786.3,2065.1 1788.3,2066.6 1790.3,2069.7 1792.3,2071.5 1794.3,2075.8 1796.3,2078.8 1798.3,2082.1 1800.3,2085.1 1802.3,2088.8 1804.3,2092.4 1806.3,2095.9 1808.3,2098.7 1810.3,2102.1 1812.3,2105.3 1814.3,2107.6 1816.3,2111.1 1818.3,2113.9 1820.3,2117.2 1822.3,2119.6 1824.3,2122.3 1826.3,2124.7 1828.3,2126.7 1830.3,2128.9 1832.3,2130.9 1834.3,2132.8 1836.3,2134.8 1838.3,2136.2 1840.3,2137.3 1842.3,2138.7 1844.3,2140.0 1846.3,2140.7 1848.3,2141.9 1850.3,2142.6 1852.3,2142.9 1854.3,2143.8 1856.3,2143.9 1858.3,2144.5 1860.3,2144.7 1862.3,2144.9 1864.3,2145.8 1866.3,2145.5 1868.3,2145.9 1870.3,2145.8 1872.3,2145.8 1874.3,2145.6 1876.3,2145.9 1878.3,2145.6 1880.3,2146.2 1882.3,2146.2 1884.3,2146.2 1886.3,2146.2 1888.3,2146.5" fill="#fff" stroke="#3a3a3a" stroke-width="1.2" stroke-linejoin="round"/>
<path d="M1578,2148.2 1580,2148.2 1580,2148.1 1582,2148.0 1582,2147.9 1584,2147.8 1584,2147.7 1586,2147.5 1586,2147.3 1588,2147.1 1588,2146.9 1590,2146.7 1590,2146.4 1592,2146.1 1592,2145.7 1594,2145.3 1594,2144.9 1596,2144.4 1596,2143.9 1598,2143.3 1598,2142.8 1600,2142.1 1600,2141.4 1602,2140.7 1602,2139.9 1604,2139.1 1604,2138.3 1606,2137.5 1606,2136.6 1608,2135.7 1608,2134.7 1610,2133.8 1610,2132.8 1612,2131.9 1612,2130.9 1614,2129.9 1614,2129.0 1616,2128.1 1616,2127.2 1618,2126.3 1618,2125.4 1620,2124.6 1620,2123.8 1622,2123.0 1622,2122.3 1624,2121.7 1624,2121.0 1626,2120.4 1626,2119.9 1628,2119.4 1628,2118.9 1630,2118.5 1630,2118.1 1632,2117.8 1632,2117.5 1634,2117.2 1634,2116.9 1636,2116.7 1636,2116.5 1638,2116.3 1638,2116.2 1640,2116.1 1640,2116.0 1642,2115.9 1642,2115.8 1644,2115.7 1644,2115.7 1646,2115.6 1646,2115.6 1648,2115.5 1648,2115.5 1650,2115.5 1650,2115.5 1652,2115.5 1652,2115.4 1654,2115.4 1654,2115.4 1656,2115.4 1656,2115.4 1658,2115.4 1658,2115.4 1660,2115.4 1660,2115.4 1662,2115.4 1662,2115.4 1664,2115.4 1664,2115.4 1666,2115.4 1666,2115.4 1668,2115.4 1668,2115.4 1670,2115.4 1670,2115.4 1672,2115.4 1672,2115.4 1674,2115.4 1674,2115.4 1676,2115.4 1676,2115.4 1678,2115.4 1678,2115.4 1680,2115.4 1680,2115.4 1682,2115.4 1682,2115.4 1684,2115.4 1684,2115.4 1686,2115.4 1686,2115.4 1688,2115.4 1688,2115.4 1690,2115.4 1690,2115.4 1692,2115.4 1692,2115.4 1694,2115.4 1694,2115.4 1696,2115.4 1696,2115.4 1698,2115.4 1698,2115.4 1700,2115.4 1700,2115.4 1702,2115.4 1702,2115.4 1704,2115.5 1704,2115.5 1706,2115.5 1706,2115.5 1708,2115.5 1708,2115.5 1710,2115.5 1710,2115.5 1712,2115.5 1712,2115.6 1714,2115.6 1714,2115.6 1716,2115.6 1716,2115.6 1718,2115.7 1718,2115.7 1720,2115.7 1720,2115.8 1722,2115.8 1722,2115.9 1724,2115.9 1724,2116.0 1726,2116.0 1726,2116.1 1728,2116.2 1728,2116.3 1730,2116.3 1730,2116.4 1732,2116.5 1732,2116.6 1734,2116.7 1734,2116.9 1736,2117.0 1736,2117.1 1738,2117.3 1738,2117.4 1740,2117.6 1740,2117.8 1742,2118.0 1742,2118.2 1744,2118.4 1744,2118.6 1746,2118.8 1746,2119.1 1748,2119.4 1748,2119.6 1750,2119.9 1750,2120.2 1752,2120.5 1752,2120.8 1754,2121.2 1754,2121.5 1756,2121.9 1756,2122.3 1758,2122.7 1758,2123.1 1760,2123.5 1760,2123.9 1762,2124.4 1762,2124.8 1764,2125.3 1764,2125.7 1766,2126.2 1766,2126.7 1768,2127.2 1768,2127.7 1770,2128.2 1770,2128.7 1772,2129.2 1772,2129.8 1774,2130.3 1774,2130.8 1776,2131.4 1776,2131.9 1778,2132.4 1778,2133.0 1780,2133.5 1780,2134.0 1782,2134.6 1782,2135.1 1784,2135.6 1784,2136.1 1786,2136.6 1786,2137.1 1788,2137.6 1788,2138.1 1790,2138.5 1790,2139.0 1792,2139.5 1792,2139.9 1794,2140.3 1794,2140.7 1796,2141.1 1796,2141.5 1798,2141.9 1798,2142.3 1800,2142.6 1800,2143.0 1802,2143.3 1802,2143.6 1804,2143.9 1804,2144.2 1806,2144.5 1806,2144.8 1808,2145.0 1808,2145.2 1810,2145.5 1810,2145.7 1812,2145.9 1812,2146.1 1814,2146.3 1814,2146.4 1816,2146.6 1816,2146.7 1818,2146.9 1818,2147.0 1820,2147.1 1820,2147.3 1822,2147.4 1822,2147.5 1824,2147.5 1824,2147.6 1826,2147.7 1826,2147.8 1828,2147.8 1828,2147.9 1830,2148.0 1830,2148.0 1832,2148.1 1832,2148.1 1834,2148.1 1834,2148.2 1836,2148.2Z" fill="#fff"/>
<path d="M1544,2148.2 1546,2148.2 1546,2148.1 1548,2148.0 1548,2147.9 1550,2147.8 1550,2147.6 1552,2147.4 1552,2147.2 1554,2146.9 1554,2146.6 1556,2146.2 1556,2145.8 1558,2145.3 1558,2144.7 1560,2144.0 1560,2143.2 1562,2142.2 1562,2141.1 1564,2139.9 1564,2138.5 1566,2136.8 1566,2135.0 1568,2132.9 1568,2130.6 1570,2127.9 1570,2125.0 1572,2121.7 1572,2118.1 1574,2114.1 1574,2109.6 1576,2104.8 1576,2099.5 1578,2093.8 1578,2087.5 1580,2080.8 1580,2073.6 1582,2065.9 1582,2057.6 1584,2048.9 1584,2039.7 1586,2030.0 1586,2019.9 1588,2009.3 1588,1998.4 1590,1987.2 1590,1975.6 1592,1963.9 1592,1951.9 1594,1939.9 1594,1927.8 1596,1915.8 1596,1904.0 1598,1892.3 1598,1881.0 1600,1870.1 1600,1859.7 1602,1849.8 1602,1840.6 1604,1832.1 1604,1824.5 1606,1817.7 1606,1811.9 1608,1807.1 1608,1803.3 1610,1800.6 1610,1799.1 1612,1798.6 1612,1799.3 1614,1801.1 1614,1804.0 1616,1808.0 1616,1813.0 1618,1819.0 1618,1825.9 1620,1833.8 1620,1842.4 1622,1851.7 1622,1861.7 1624,1872.2 1624,1883.3 1626,1894.7 1626,1906.3 1628,1918.2 1628,1930.2 1630,1942.3 1630,1954.3 1632,1966.2 1632,1978.0 1634,1989.4 1634,2000.6 1636,2011.5 1636,2021.9 1638,2032.0 1638,2041.6 1640,2050.7 1640,2059.3 1642,2067.4 1642,2075.1 1644,2082.2 1644,2088.8 1646,2094.9 1646,2100.6 1648,2105.8 1648,2110.6 1650,2114.9 1650,2118.8 1652,2122.4 1652,2125.6 1654,2128.5 1654,2131.1 1656,2133.3 1656,2135.4 1658,2137.2 1658,2138.8 1660,2140.1 1660,2141.4 1662,2142.4 1662,2143.3 1664,2144.1 1664,2144.8 1666,2145.4 1666,2145.9 1668,2146.3 1668,2146.7 1670,2147.0 1670,2147.3 1672,2147.5 1672,2147.7 1674,2147.8 1674,2147.9 1676,2148.0 1676,2148.1 1678,2148.2 1678,2148.3Z" fill="#fa0000" stroke="#000" stroke-width="2" stroke-linejoin="round"/>
<path d="M1668,2148.2 1670,2148.2 1670,2148.1 1672,2148.1 1672,2148.1 1674,2148.0 1674,2148.0 1676,2147.9 1676,2147.9 1678,2147.8 1678,2147.7 1680,2147.7 1680,2147.6 1682,2147.5 1682,2147.4 1684,2147.3 1684,2147.2 1686,2147.1 1686,2146.9 1688,2146.8 1688,2146.6 1690,2146.5 1690,2146.3 1692,2146.1 1692,2145.9 1694,2145.7 1694,2145.5 1696,2145.2 1696,2145.0 1698,2144.7 1698,2144.4 1700,2144.1 1700,2143.8 1702,2143.4 1702,2143.0 1704,2142.6 1704,2142.2 1706,2141.8 1706,2141.3 1708,2140.8 1708,2140.3 1710,2139.8 1710,2139.2 1712,2138.6 1712,2138.0 1714,2137.3 1714,2136.6 1716,2135.9 1716,2135.2 1718,2134.4 1718,2133.6 1720,2132.8 1720,2131.9 1722,2131.0 1722,2130.1 1724,2129.1 1724,2128.1 1726,2127.1 1726,2126.1 1728,2125.0 1728,2123.9 1730,2122.7 1730,2121.6 1732,2120.4 1732,2119.2 1734,2118.0 1734,2116.7 1736,2115.4 1736,2114.1 1738,2112.8 1738,2111.5 1740,2110.1 1740,2108.8 1742,2107.4 1742,2106.1 1744,2104.7 1744,2103.3 1746,2101.9 1746,2100.6 1748,2099.2 1748,2097.9 1750,2096.5 1750,2095.2 1752,2093.9 1752,2092.6 1754,2091.3 1754,2090.1 1756,2088.9 1756,2087.7 1758,2086.6 1758,2085.5 1760,2084.4 1760,2083.4 1762,2082.4 1762,2081.5 1764,2080.6 1764,2079.8 1766,2079.1 1766,2078.4 1768,2077.7 1768,2077.2 1770,2076.6 1770,2076.2 1772,2075.8 1772,2075.5 1774,2075.2 1774,2075.1 1776,2074.9 1776,2074.9 1778,2074.9 1778,2075.0 1780,2075.2 1780,2075.4 1782,2075.7 1782,2076.1 1784,2076.5 1784,2077.0 1786,2077.6 1786,2078.2 1788,2078.9 1788,2079.7 1790,2080.5 1790,2081.3 1792,2082.2 1792,2083.2 1794,2084.2 1794,2085.3 1796,2086.3 1796,2087.5 1798,2088.6 1798,2089.8 1800,2091.1 1800,2092.3 1802,2093.6 1802,2094.9 1804,2096.2 1804,2097.6 1806,2098.9 1806,2100.3 1808,2101.7 1808,2103.0 1810,2104.4 1810,2105.8 1812,2107.2 1812,2108.5 1814,2109.9 1814,2111.2 1816,2112.5 1816,2113.9 1818,2115.2 1818,2116.4 1820,2117.7 1820,2118.9 1822,2120.2 1822,2121.4 1824,2122.5 1824,2123.7 1826,2124.8 1826,2125.9 1828,2126.9 1828,2127.9 1830,2128.9 1830,2129.9 1832,2130.8 1832,2131.7 1834,2132.6 1834,2133.4 1836,2134.3 1836,2135.0 1838,2135.8 1838,2136.5 1840,2137.2 1840,2137.8 1842,2138.5 1842,2139.1 1844,2139.7 1844,2140.2 1846,2140.7 1846,2141.2 1848,2141.7 1848,2142.1 1850,2142.6 1850,2143.0 1852,2143.3 1852,2143.7 1854,2144.0 1854,2144.3 1856,2144.6 1856,2144.9 1858,2145.2 1858,2145.4 1860,2145.7 1860,2145.9 1862,2146.1 1862,2146.3 1864,2146.4 1864,2146.6 1866,2146.8 1866,2146.9 1868,2147.0 1868,2147.1 1870,2147.3 1870,2147.4 1872,2147.5 1872,2147.6 1874,2147.6 1874,2147.7 1876,2147.8 1876,2147.8 1878,2147.9 1878,2148.0 1880,2148.0 1880,2148.1 1882,2148.1 1882,2148.1 1884,2148.2 1884,2148.2Z" fill="#fa0000" stroke="#000" stroke-width="1.8" stroke-linejoin="round"/>
<clipPath id="rclip5"><path d="M1544,2148.2 1546,2148.2 1546,2148.1 1548,2148.0 1548,2147.9 1550,2147.8 1550,2147.6 1552,2147.4 1552,2147.2 1554,2146.9 1554,2146.6 1556,2146.2 1556,2145.8 1558,2145.3 1558,2144.7 1560,2144.0 1560,2143.2 1562,2142.2 1562,2141.1 1564,2139.9 1564,2138.5 1566,2136.8 1566,2135.0 1568,2132.9 1568,2130.6 1570,2127.9 1570,2125.0 1572,2121.7 1572,2118.1 1574,2114.1 1574,2109.6 1576,2104.8 1576,2099.5 1578,2093.8 1578,2087.5 1580,2080.8 1580,2073.6 1582,2065.9 1582,2057.6 1584,2048.9 1584,2039.7 1586,2030.0 1586,2019.9 1588,2009.3 1588,1998.4 1590,1987.2 1590,1975.6 1592,1963.9 1592,1951.9 1594,1939.9 1594,1927.8 1596,1915.8 1596,1904.0 1598,1892.3 1598,1881.0 1600,1870.1 1600,1859.7 1602,1849.8 1602,1840.6 1604,1832.1 1604,1824.5 1606,1817.7 1606,1811.9 1608,1807.1 1608,1803.3 1610,1800.6 1610,1799.1 1612,1798.6 1612,1799.3 1614,1801.1 1614,1804.0 1616,1808.0 1616,1813.0 1618,1819.0 1618,1825.9 1620,1833.8 1620,1842.4 1622,1851.7 1622,1861.7 1624,1872.2 1624,1883.3 1626,1894.7 1626,1906.3 1628,1918.2 1628,1930.2 1630,1942.3 1630,1954.3 1632,1966.2 1632,1978.0 1634,1989.4 1634,2000.6 1636,2011.5 1636,2021.9 1638,2032.0 1638,2041.6 1640,2050.7 1640,2059.3 1642,2067.4 1642,2075.1 1644,2082.2 1644,2088.8 1646,2094.9 1646,2100.6 1648,2105.8 1648,2110.6 1650,2114.9 1650,2118.8 1652,2122.4 1652,2125.6 1654,2128.5 1654,2131.1 1656,2133.3 1656,2135.4 1658,2137.2 1658,2138.8 1660,2140.1 1660,2141.4 1662,2142.4 1662,2143.3 1664,2144.1 1664,2144.8 1666,2145.4 1666,2145.9 1668,2146.3 1668,2146.7 1670,2147.0 1670,2147.3 1672,2147.5 1672,2147.7 1674,2147.8 1674,2147.9 1676,2148.0 1676,2148.1 1678,2148.2 1678,2148.3Z"/><path d="M1668,2148.2 1670,2148.2 1670,2148.1 1672,2148.1 1672,2148.1 1674,2148.0 1674,2148.0 1676,2147.9 1676,2147.9 1678,2147.8 1678,2147.7 1680,2147.7 1680,2147.6 1682,2147.5 1682,2147.4 1684,2147.3 1684,2147.2 1686,2147.1 1686,2146.9 1688,2146.8 1688,2146.6 1690,2146.5 1690,2146.3 1692,2146.1 1692,2145.9 1694,2145.7 1694,2145.5 1696,2145.2 1696,2145.0 1698,2144.7 1698,2144.4 1700,2144.1 1700,2143.8 1702,2143.4 1702,2143.0 1704,2142.6 1704,2142.2 1706,2141.8 1706,2141.3 1708,2140.8 1708,2140.3 1710,2139.8 1710,2139.2 1712,2138.6 1712,2138.0 1714,2137.3 1714,2136.6 1716,2135.9 1716,2135.2 1718,2134.4 1718,2133.6 1720,2132.8 1720,2131.9 1722,2131.0 1722,2130.1 1724,2129.1 1724,2128.1 1726,2127.1 1726,2126.1 1728,2125.0 1728,2123.9 1730,2122.7 1730,2121.6 1732,2120.4 1732,2119.2 1734,2118.0 1734,2116.7 1736,2115.4 1736,2114.1 1738,2112.8 1738,2111.5 1740,2110.1 1740,2108.8 1742,2107.4 1742,2106.1 1744,2104.7 1744,2103.3 1746,2101.9 1746,2100.6 1748,2099.2 1748,2097.9 1750,2096.5 1750,2095.2 1752,2093.9 1752,2092.6 1754,2091.3 1754,2090.1 1756,2088.9 1756,2087.7 1758,2086.6 1758,2085.5 1760,2084.4 1760,2083.4 1762,2082.4 1762,2081.5 1764,2080.6 1764,2079.8 1766,2079.1 1766,2078.4 1768,2077.7 1768,2077.2 1770,2076.6 1770,2076.2 1772,2075.8 1772,2075.5 1774,2075.2 1774,2075.1 1776,2074.9 1776,2074.9 1778,2074.9 1778,2075.0 1780,2075.2 1780,2075.4 1782,2075.7 1782,2076.1 1784,2076.5 1784,2077.0 1786,2077.6 1786,2078.2 1788,2078.9 1788,2079.7 1790,2080.5 1790,2081.3 1792,2082.2 1792,2083.2 1794,2084.2 1794,2085.3 1796,2086.3 1796,2087.5 1798,2088.6 1798,2089.8 1800,2091.1 1800,2092.3 1802,2093.6 1802,2094.9 1804,2096.2 1804,2097.6 1806,2098.9 1806,2100.3 1808,2101.7 1808,2103.0 1810,2104.4 1810,2105.8 1812,2107.2 1812,2108.5 1814,2109.9 1814,2111.2 1816,2112.5 1816,2113.9 1818,2115.2 1818,2116.4 1820,2117.7 1820,2118.9 1822,2120.2 1822,2121.4 1824,2122.5 1824,2123.7 1826,2124.8 1826,2125.9 1828,2126.9 1828,2127.9 1830,2128.9 1830,2129.9 1832,2130.8 1832,2131.7 1834,2132.6 1834,2133.4 1836,2134.3 1836,2135.0 1838,2135.8 1838,2136.5 1840,2137.2 1840,2137.8 1842,2138.5 1842,2139.1 1844,2139.7 1844,2140.2 1846,2140.7 1846,2141.2 1848,2141.7 1848,2142.1 1850,2142.6 1850,2143.0 1852,2143.3 1852,2143.7 1854,2144.0 1854,2144.3 1856,2144.6 1856,2144.9 1858,2145.2 1858,2145.4 1860,2145.7 1860,2145.9 1862,2146.1 1862,2146.3 1864,2146.4 1864,2146.6 1866,2146.8 1866,2146.9 1868,2147.0 1868,2147.1 1870,2147.3 1870,2147.4 1872,2147.5 1872,2147.6 1874,2147.6 1874,2147.7 1876,2147.8 1876,2147.8 1878,2147.9 1878,2148.0 1880,2148.0 1880,2148.1 1882,2148.1 1882,2148.1 1884,2148.2 1884,2148.2Z"/></clipPath>
<g clip-path="url(#sclip5)" fill="none" stroke-width="1.5">
<path d="M1519.4,2111.4l39.1,39.1M1530.0,2111.4l39.1,39.1M1540.6,2111.4l39.1,39.1M1551.2,2111.4l39.1,39.1M1561.8,2111.4l39.1,39.1M1572.4,2111.4l39.1,39.1M1583.0,2111.4l39.1,39.1M1593.6,2111.4l39.1,39.1M1604.2,2111.4l39.1,39.1M1614.8,2111.4l39.1,39.1M1625.4,2111.4l39.1,39.1M1636.0,2111.4l39.1,39.1M1646.6,2111.4l39.1,39.1M1657.2,2111.4l39.1,39.1M1667.8,2111.4l39.1,39.1M1678.4,2111.4l39.1,39.1M1689.0,2111.4l39.1,39.1M1699.6,2111.4l39.1,39.1M1710.2,2111.4l39.1,39.1M1720.8,2111.4l39.1,39.1M1731.4,2111.4l39.1,39.1M1742.0,2111.4l39.1,39.1M1752.6,2111.4l39.1,39.1M1763.2,2111.4l39.1,39.1M1773.8,2111.4l39.1,39.1M1784.4,2111.4l39.1,39.1M1795.0,2111.4l39.1,39.1M1805.6,2111.4l39.1,39.1M1816.2,2111.4l39.1,39.1M1826.8,2111.4l39.1,39.1M1837.4,2111.4l39.1,39.1M1848.0,2111.4l39.1,39.1M1858.6,2111.4l39.1,39.1M1869.2,2111.4l39.1,39.1" stroke="#4a4aff"/>
<g clip-path="url(#rclip5)"><path d="M1519.4,2111.4l39.1,39.1M1530.0,2111.4l39.1,39.1M1540.6,2111.4l39.1,39.1M1551.2,2111.4l39.1,39.1M1561.8,2111.4l39.1,39.1M1572.4,2111.4l39.1,39.1M1583.0,2111.4l39.1,39.1M1593.6,2111.4l39.1,39.1M1604.2,2111.4l39.1,39.1M1614.8,2111.4l39.1,39.1M1625.4,2111.4l39.1,39.1M1636.0,2111.4l39.1,39.1M1646.6,2111.4l39.1,39.1M1657.2,2111.4l39.1,39.1M1667.8,2111.4l39.1,39.1M1678.4,2111.4l39.1,39.1M1689.0,2111.4l39.1,39.1M1699.6,2111.4l39.1,39.1M1710.2,2111.4l39.1,39.1M1720.8,2111.4l39.1,39.1M1731.4,2111.4l39.1,39.1M1742.0,2111.4l39.1,39.1M1752.6,2111.4l39.1,39.1M1763.2,2111.4l39.1,39.1M1773.8,2111.4l39.1,39.1M1784.4,2111.4l39.1,39.1M1795.0,2111.4l39.1,39.1M1805.6,2111.4l39.1,39.1M1816.2,2111.4l39.1,39.1M1826.8,2111.4l39.1,39.1M1837.4,2111.4l39.1,39.1M1848.0,2111.4l39.1,39.1M1858.6,2111.4l39.1,39.1M1869.2,2111.4l39.1,39.1" stroke="#7a0a8c" stroke-width="1.5"/></g>
</g>
<path d="M1578,2148.2 1580,2148.2 1580,2148.1 1582,2148.0 1582,2147.9 1584,2147.8 1584,2147.7 1586,2147.5 1586,2147.3 1588,2147.1 1588,2146.9 1590,2146.7 1590,2146.4 1592,2146.1 1592,2145.7 1594,2145.3 1594,2144.9 1596,2144.4 1596,2143.9 1598,2143.3 1598,2142.8 1600,2142.1 1600,2141.4 1602,2140.7 1602,2139.9 1604,2139.1 1604,2138.3 1606,2137.5 1606,2136.6 1608,2135.7 1608,2134.7 1610,2133.8 1610,2132.8 1612,2131.9 1612,2130.9 1614,2129.9 1614,2129.0 1616,2128.1 1616,2127.2 1618,2126.3 1618,2125.4 1620,2124.6 1620,2123.8 1622,2123.0 1622,2122.3 1624,2121.7 1624,2121.0 1626,2120.4 1626,2119.9 1628,2119.4 1628,2118.9 1630,2118.5 1630,2118.1 1632,2117.8 1632,2117.5 1634,2117.2 1634,2116.9 1636,2116.7 1636,2116.5 1638,2116.3 1638,2116.2 1640,2116.1 1640,2116.0 1642,2115.9 1642,2115.8 1644,2115.7 1644,2115.7 1646,2115.6 1646,2115.6 1648,2115.5 1648,2115.5 1650,2115.5 1650,2115.5 1652,2115.5 1652,2115.4 1654,2115.4 1654,2115.4 1656,2115.4 1656,2115.4 1658,2115.4 1658,2115.4 1660,2115.4 1660,2115.4 1662,2115.4 1662,2115.4 1664,2115.4 1664,2115.4 1666,2115.4 1666,2115.4 1668,2115.4 1668,2115.4 1670,2115.4 1670,2115.4 1672,2115.4 1672,2115.4 1674,2115.4 1674,2115.4 1676,2115.4 1676,2115.4 1678,2115.4 1678,2115.4 1680,2115.4 1680,2115.4 1682,2115.4 1682,2115.4 1684,2115.4 1684,2115.4 1686,2115.4 1686,2115.4 1688,2115.4 1688,2115.4 1690,2115.4 1690,2115.4 1692,2115.4 1692,2115.4 1694,2115.4 1694,2115.4 1696,2115.4 1696,2115.4 1698,2115.4 1698,2115.4 1700,2115.4 1700,2115.4 1702,2115.4 1702,2115.4 1704,2115.5 1704,2115.5 1706,2115.5 1706,2115.5 1708,2115.5 1708,2115.5 1710,2115.5 1710,2115.5 1712,2115.5 1712,2115.6 1714,2115.6 1714,2115.6 1716,2115.6 1716,2115.6 1718,2115.7 1718,2115.7 1720,2115.7 1720,2115.8 1722,2115.8 1722,2115.9 1724,2115.9 1724,2116.0 1726,2116.0 1726,2116.1 1728,2116.2 1728,2116.3 1730,2116.3 1730,2116.4 1732,2116.5 1732,2116.6 1734,2116.7 1734,2116.9 1736,2117.0 1736,2117.1 1738,2117.3 1738,2117.4 1740,2117.6 1740,2117.8 1742,2118.0 1742,2118.2 1744,2118.4 1744,2118.6 1746,2118.8 1746,2119.1 1748,2119.4 1748,2119.6 1750,2119.9 1750,2120.2 1752,2120.5 1752,2120.8 1754,2121.2 1754,2121.5 1756,2121.9 1756,2122.3 1758,2122.7 1758,2123.1 1760,2123.5 1760,2123.9 1762,2124.4 1762,2124.8 1764,2125.3 1764,2125.7 1766,2126.2 1766,2126.7 1768,2127.2 1768,2127.7 1770,2128.2 1770,2128.7 1772,2129.2 1772,2129.8 1774,2130.3 1774,2130.8 1776,2131.4 1776,2131.9 1778,2132.4 1778,2133.0 1780,2133.5 1780,2134.0 1782,2134.6 1782,2135.1 1784,2135.6 1784,2136.1 1786,2136.6 1786,2137.1 1788,2137.6 1788,2138.1 1790,2138.5 1790,2139.0 1792,2139.5 1792,2139.9 1794,2140.3 1794,2140.7 1796,2141.1 1796,2141.5 1798,2141.9 1798,2142.3 1800,2142.6 1800,2143.0 1802,2143.3 1802,2143.6 1804,2143.9 1804,2144.2 1806,2144.5 1806,2144.8 1808,2145.0 1808,2145.2 1810,2145.5 1810,2145.7 1812,2145.9 1812,2146.1 1814,2146.3 1814,2146.4 1816,2146.6 1816,2146.7 1818,2146.9 1818,2147.0 1820,2147.1 1820,2147.3 1822,2147.4 1822,2147.5 1824,2147.5 1824,2147.6 1826,2147.7 1826,2147.8 1828,2147.8 1828,2147.9 1830,2148.0 1830,2148.0 1832,2148.1 1832,2148.1 1834,2148.1 1834,2148.2 1836,2148.2Z" fill="none" stroke="#111" stroke-width="1.4"/>
<line x1="1437.50" y1="1719.50" x2="1437.50" y2="2169.50" stroke="#3a3a3a" stroke-width="2.1"/>
<line x1="1417.50" y1="2148.50" x2="1543.30" y2="2148.50" stroke="#111" stroke-width="2.4"/>
<line x1="1888.20" y1="2148.50" x2="1938.60" y2="2148.50" stroke="#111" stroke-width="2.4"/>
<line x1="1542.30" y1="2148.80" x2="1889.20" y2="2148.80" stroke="#7f8f8f" stroke-width="2.2"/>
<text x="1411.60" y="2153.38" font-size="23" font-weight="bold" fill="#0a0a0a" transform="rotate(-90 1411.60 2153.38)">0</text>
<line x1="1428.20" y1="2127.10" x2="1437.50" y2="2127.10" stroke="#3a3a3a" stroke-width="1.9"/>
<line x1="1428.20" y1="2105.70" x2="1437.50" y2="2105.70" stroke="#3a3a3a" stroke-width="1.9"/>
<line x1="1428.20" y1="2084.30" x2="1437.50" y2="2084.30" stroke="#3a3a3a" stroke-width="1.9"/>
<line x1="1428.20" y1="2062.90" x2="1437.50" y2="2062.90" stroke="#3a3a3a" stroke-width="1.9"/>
<line x1="1417.70" y1="2041.50" x2="1437.50" y2="2041.50" stroke="#3a3a3a" stroke-width="1.9"/>
<text x="1411.60" y="2060.59" font-size="23" font-weight="bold" fill="#0a0a0a" transform="rotate(-90 1411.60 2060.59)">500</text>
<line x1="1428.20" y1="2020.10" x2="1437.50" y2="2020.10" stroke="#3a3a3a" stroke-width="1.9"/>
<line x1="1428.20" y1="1998.70" x2="1437.50" y2="1998.70" stroke="#3a3a3a" stroke-width="1.9"/>
<line x1="1428.20" y1="1977.30" x2="1437.50" y2="1977.30" stroke="#3a3a3a" stroke-width="1.9"/>
<line x1="1428.20" y1="1955.90" x2="1437.50" y2="1955.90" stroke="#3a3a3a" stroke-width="1.9"/>
<line x1="1417.70" y1="1934.50" x2="1437.50" y2="1934.50" stroke="#3a3a3a" stroke-width="1.9"/>
<text x="1411.60" y="1960.32" font-size="23" font-weight="bold" fill="#0a0a0a" transform="rotate(-90 1411.60 1960.32)">1000</text>
<line x1="1428.20" y1="1913.10" x2="1437.50" y2="1913.10" stroke="#3a3a3a" stroke-width="1.9"/>
<line x1="1428.20" y1="1891.70" x2="1437.50" y2="1891.70" stroke="#3a3a3a" stroke-width="1.9"/>
<line x1="1428.20" y1="1870.30" x2="1437.50" y2="1870.30" stroke="#3a3a3a" stroke-width="1.9"/>
<line x1="1428.20" y1="1848.90" x2="1437.50" y2="1848.90" stroke="#3a3a3a" stroke-width="1.9"/>
<line x1="1417.70" y1="1827.50" x2="1437.50" y2="1827.50" stroke="#3a3a3a" stroke-width="1.9"/>
<text x="1411.60" y="1849.62" font-size="23" font-weight="bold" fill="#0a0a0a" transform="rotate(-90 1411.60 1849.62)">1500</text>
<line x1="1428.20" y1="1806.10" x2="1437.50" y2="1806.10" stroke="#3a3a3a" stroke-width="1.9"/>
<line x1="1428.20" y1="1784.70" x2="1437.50" y2="1784.70" stroke="#3a3a3a" stroke-width="1.9"/>
<line x1="1428.20" y1="1763.30" x2="1437.50" y2="1763.30" stroke="#3a3a3a" stroke-width="1.9"/>
<line x1="1428.20" y1="1741.90" x2="1437.50" y2="1741.90" stroke="#3a3a3a" stroke-width="1.9"/>
<line x1="1417.70" y1="1720.50" x2="1437.50" y2="1720.50" stroke="#3a3a3a" stroke-width="1.9"/>
<text x="1411.60" y="1745.90" font-size="23" font-weight="bold" fill="#0a0a0a" transform="rotate(-90 1411.60 1745.90)">2000</text>
<line x1="1458.34" y1="2148.50" x2="1458.34" y2="2158.90" stroke="#3a3a3a" stroke-width="2.0"/>
<line x1="1479.17" y1="2148.50" x2="1479.17" y2="2158.90" stroke="#3a3a3a" stroke-width="2.0"/>
<line x1="1500.01" y1="2148.50" x2="1500.01" y2="2158.90" stroke="#3a3a3a" stroke-width="2.0"/>
<line x1="1520.85" y1="2148.50" x2="1520.85" y2="2169.10" stroke="#3a3a3a" stroke-width="2.0"/>
<line x1="1541.69" y1="2148.50" x2="1541.69" y2="2158.90" stroke="#3a3a3a" stroke-width="2.0"/>
<line x1="1562.53" y1="2148.50" x2="1562.53" y2="2158.90" stroke="#3a3a3a" stroke-width="2.0"/>
<line x1="1583.36" y1="2148.50" x2="1583.36" y2="2158.90" stroke="#3a3a3a" stroke-width="2.0"/>
<line x1="1604.20" y1="2148.50" x2="1604.20" y2="2169.10" stroke="#3a3a3a" stroke-width="2.0"/>
<line x1="1625.04" y1="2148.50" x2="1625.04" y2="2158.90" stroke="#3a3a3a" stroke-width="2.0"/>
<line x1="1645.88" y1="2148.50" x2="1645.88" y2="2158.90" stroke="#3a3a3a" stroke-width="2.0"/>
<line x1="1666.71" y1="2148.50" x2="1666.71" y2="2158.90" stroke="#3a3a3a" stroke-width="2.0"/>
<line x1="1687.55" y1="2148.50" x2="1687.55" y2="2169.10" stroke="#3a3a3a" stroke-width="2.0"/>
<line x1="1708.39" y1="2148.50" x2="1708.39" y2="2158.90" stroke="#3a3a3a" stroke-width="2.0"/>
<line x1="1729.22" y1="2148.50" x2="1729.22" y2="2158.90" stroke="#3a3a3a" stroke-width="2.0"/>
<line x1="1750.06" y1="2148.50" x2="1750.06" y2="2158.90" stroke="#3a3a3a" stroke-width="2.0"/>
<line x1="1770.90" y1="2148.50" x2="1770.90" y2="2169.10" stroke="#3a3a3a" stroke-width="2.0"/>
<line x1="1791.74" y1="2148.50" x2="1791.74" y2="2158.90" stroke="#3a3a3a" stroke-width="2.0"/>
<line x1="1812.58" y1="2148.50" x2="1812.58" y2="2158.90" stroke="#3a3a3a" stroke-width="2.0"/>
<line x1="1833.41" y1="2148.50" x2="1833.41" y2="2158.90" stroke="#3a3a3a" stroke-width="2.0"/>
<line x1="1854.25" y1="2148.50" x2="1854.25" y2="2169.10" stroke="#3a3a3a" stroke-width="2.0"/>
<line x1="1875.09" y1="2148.50" x2="1875.09" y2="2158.90" stroke="#3a3a3a" stroke-width="2.0"/>
<line x1="1895.92" y1="2148.50" x2="1895.92" y2="2158.90" stroke="#3a3a3a" stroke-width="2.0"/>
<line x1="1916.76" y1="2148.50" x2="1916.76" y2="2158.90" stroke="#3a3a3a" stroke-width="2.0"/>
<line x1="1937.60" y1="2148.50" x2="1937.60" y2="2169.10" stroke="#3a3a3a" stroke-width="2.0"/>
<text x="1430.84" y="2192.30" font-size="22.8" font-weight="bold" fill="#0a0a0a" textLength="13.35" lengthAdjust="spacingAndGlyphs">0</text>
<text x="1508.88" y="2190.30" font-size="22.8" font-weight="bold" fill="#0a0a0a" textLength="26.01" lengthAdjust="spacingAndGlyphs">20</text>
<text x="1593.06" y="2190.30" font-size="22.8" font-weight="bold" fill="#0a0a0a" textLength="25.20" lengthAdjust="spacingAndGlyphs">40</text>
<text x="1674.63" y="2190.30" font-size="22.8" font-weight="bold" fill="#0a0a0a" textLength="25.86" lengthAdjust="spacingAndGlyphs">60</text>
<text x="1755.35" y="2190.30" font-size="22.8" font-weight="bold" fill="#0a0a0a" textLength="25.62" lengthAdjust="spacingAndGlyphs">80</text>
<text x="1833.35" y="2190.30" font-size="22.8" font-weight="bold" fill="#0a0a0a" textLength="38.70" lengthAdjust="spacingAndGlyphs">100</text>
<text x="1917.04" y="2190.30" font-size="22.8" font-weight="bold" fill="#0a0a0a" textLength="38.91" lengthAdjust="spacingAndGlyphs">120</text>
<path d="M1600.9,2163.2 L1616.9,2163.2 L1608.9,2149.0 Z" fill="#000"/>
<path d="M1754.6,2163.2 L1770.6,2163.2 L1762.6,2149.0 Z" fill="#000"/>
<rect x="1803.90" y="1745.90" width="22.00" height="19.60" fill="#fa0000" stroke="#16302e" stroke-width="1.6"/>
<rect x="1803.90" y="1771.70" width="22.00" height="19.30" fill="#fa0000" stroke="#16302e" stroke-width="1.6"/>
<rect x="1803.90" y="1796.80" width="22.00" height="19.80" fill="#fff" stroke="none" stroke-width="0"/>
<clipPath id="lg5"><rect x="1803.9" y="1796.8" width="22.0" height="19.8"/></clipPath>
<g clip-path="url(#lg5)">
<line x1="1786.30" y1="1796.00" x2="1810.30" y2="1821.50" stroke="#3c3cff" stroke-width="2.0"/>
<line x1="1800.50" y1="1796.00" x2="1824.50" y2="1821.50" stroke="#3c3cff" stroke-width="2.0"/>
<line x1="1815.40" y1="1796.00" x2="1839.40" y2="1821.50" stroke="#3c3cff" stroke-width="2.0"/>
</g>
<rect x="1803.90" y="1796.80" width="22.00" height="19.80" fill="none" stroke="#1c1c1c" stroke-width="1.6"/>
<text x="1836.13" y="1761.90" font-size="23.6" font-weight="bold" fill="#000" textLength="160.61" lengthAdjust="spacingAndGlyphs">Dip G1 56.41%</text>
<text x="1835.12" y="1790.50" font-size="23.6" font-weight="bold" fill="#000" textLength="161.02" lengthAdjust="spacingAndGlyphs">Dip G2 22.55%</text>
<text x="1835.92" y="1816.50" font-size="23.6" font-weight="bold" fill="#000" textLength="59.77" lengthAdjust="spacingAndGlyphs">Dip S</text>
<text x="1915.19" y="1816.50" font-size="23.6" font-weight="bold" fill="#000" textLength="78.43" lengthAdjust="spacingAndGlyphs">21.05%</text>
<text x="1621.61" y="2229.70" font-size="23.5" font-weight="bold" fill="#000">FL2-A PE-A</text>
<text x="1616.27" y="2284.90" font-size="37.6" font-weight="bold" fill="#000" textLength="187.77" lengthAdjust="spacingAndGlyphs">shCul4A-2</text>
<text x="1371.80" y="1969.07" font-size="23" font-weight="bold" fill="#000" transform="rotate(-90 1371.80 1969.07)">Number</text>
<path d="M100.4,2123.4 L100.4,1807.3 Q100.4,1804.1 103.6,1804.1 L128.8,1804.1 Q132.0,1804.1 132.0,1807.3 L132.0,2123.4 Z" fill="#000000"/>
<line x1="116.20" y1="1800.40" x2="116.20" y2="1808.10" stroke="#000" stroke-width="5.0"/>
<rect x="109.5" y="1799.4" width="13.4" height="5.2" fill="#000" rx="0.8"/>
<line x1="115.80" y1="2123.40" x2="115.80" y2="2134.60" stroke="#000" stroke-width="4.0"/>
<text x="102.63" y="2182.31" font-size="26.5" font-weight="bold" fill="#000" transform="rotate(-45 102.63 2182.31)">NT</text>
<path d="M140.0,2123.4 L140.0,1783.0 Q140.0,1779.8 143.2,1779.8 L168.2,1779.8 Q171.4,1779.8 171.4,1783.0 L171.4,2123.4 Z" fill="#a0a0a4"/>
<line x1="155.70" y1="1775.30" x2="155.70" y2="1783.80" stroke="#000" stroke-width="5.0"/>
<rect x="149.0" y="1774.3" width="13.4" height="5.2" fill="#000" rx="0.8"/>
<line x1="155.30" y1="2123.40" x2="155.30" y2="2134.60" stroke="#000" stroke-width="4.0"/>
<text x="76.24" y="2249.04" font-size="26.5" font-weight="bold" fill="#000" transform="rotate(-45 76.24 2249.04)">shDDB1-1</text>
<path d="M179.8,2123.4 L179.8,1854.9 Q179.8,1851.7 183.0,1851.7 L207.7,1851.7 Q210.9,1851.7 210.9,1854.9 L210.9,2123.4 Z" fill="#828282"/>
<line x1="195.35" y1="1844.20" x2="195.35" y2="1855.70" stroke="#000" stroke-width="5.0"/>
<rect x="188.7" y="1843.2" width="13.4" height="5.2" fill="#000" rx="0.8"/>
<line x1="194.95" y1="2123.40" x2="194.95" y2="2134.60" stroke="#000" stroke-width="4.0"/>
<text x="118.37" y="2250.44" font-size="26.5" font-weight="bold" fill="#000" transform="rotate(-45 118.37 2250.44)">shDDB1-2</text>
<path d="M219.4,2123.4 L219.4,1827.7 Q219.4,1824.5 222.6,1824.5 L247.5,1824.5 Q250.7,1824.5 250.7,1827.7 L250.7,2123.4 Z" fill="#d6d6d6"/>
<line x1="235.05" y1="1805.00" x2="235.05" y2="1828.50" stroke="#000" stroke-width="5.0"/>
<rect x="228.4" y="1804.0" width="13.4" height="5.2" fill="#000" rx="0.8"/>
<line x1="234.65" y1="2123.40" x2="234.65" y2="2134.60" stroke="#000" stroke-width="4.0"/>
<text x="160.80" y="2250.44" font-size="26.5" font-weight="bold" fill="#000" transform="rotate(-45 160.80 2250.44)">shCul4A-1</text>
<path d="M259.1,2123.4 L259.1,1825.1 Q259.1,1821.9 262.3,1821.9 L287.5,1821.9 Q290.7,1821.9 290.7,1825.1 L290.7,2123.4 Z" fill="#646464"/>
<line x1="274.90" y1="1797.80" x2="274.90" y2="1825.90" stroke="#000" stroke-width="5.0"/>
<rect x="268.2" y="1796.8" width="13.4" height="5.2" fill="#000" rx="0.8"/>
<line x1="274.50" y1="2123.40" x2="274.50" y2="2134.60" stroke="#000" stroke-width="4.0"/>
<text x="203.94" y="2248.14" font-size="26.5" font-weight="bold" fill="#000" transform="rotate(-45 203.94 2248.14)">shCul4A-2</text>
<path d="M298.4,2123.4 L298.4,2052.0 Q298.4,2048.8 301.6,2048.8 L327.0,2048.8 Q330.2,2048.8 330.2,2052.0 L330.2,2123.4 Z" fill="#000000"/>
<line x1="314.30" y1="2047.30" x2="314.30" y2="2052.80" stroke="#000" stroke-width="5.0"/>
<rect x="307.6" y="2046.3" width="13.4" height="5.2" fill="#000" rx="0.8"/>
<line x1="313.90" y1="2123.40" x2="313.90" y2="2134.60" stroke="#000" stroke-width="4.0"/>
<text x="304.33" y="2186.11" font-size="26.5" font-weight="bold" fill="#000" transform="rotate(-45 304.33 2186.11)">NT</text>
<path d="M338.2,2123.4 L338.2,2035.1 Q338.2,2031.9 341.4,2031.9 L367.2,2031.9 Q370.4,2031.9 370.4,2035.1 L370.4,2123.4 Z" fill="#a0a0a4"/>
<line x1="354.30" y1="2027.90" x2="354.30" y2="2035.90" stroke="#000" stroke-width="5.0"/>
<rect x="347.6" y="2026.9" width="13.4" height="5.2" fill="#000" rx="0.8"/>
<line x1="353.90" y1="2123.40" x2="353.90" y2="2134.60" stroke="#000" stroke-width="4.0"/>
<text x="280.84" y="2249.04" font-size="26.5" font-weight="bold" fill="#000" transform="rotate(-45 280.84 2249.04)">shDDB1-1</text>
<path d="M377.9,2123.4 L377.9,2019.8 Q377.9,2016.6 381.1,2016.6 L406.8,2016.6 Q410.0,2016.6 410.0,2019.8 L410.0,2123.4 Z" fill="#828282"/>
<line x1="393.95" y1="2012.60" x2="393.95" y2="2020.60" stroke="#000" stroke-width="5.0"/>
<rect x="387.2" y="2011.6" width="13.4" height="5.2" fill="#000" rx="0.8"/>
<line x1="393.55" y1="2123.40" x2="393.55" y2="2134.60" stroke="#000" stroke-width="4.0"/>
<text x="323.97" y="2250.44" font-size="26.5" font-weight="bold" fill="#000" transform="rotate(-45 323.97 2250.44)">shDDB1-2</text>
<path d="M417.7,2123.4 L417.7,2028.0 Q417.7,2024.8 420.9,2024.8 L446.6,2024.8 Q449.8,2024.8 449.8,2028.0 L449.8,2123.4 Z" fill="#d6d6d6"/>
<line x1="433.75" y1="2020.80" x2="433.75" y2="2028.80" stroke="#000" stroke-width="5.0"/>
<rect x="427.1" y="2019.8" width="13.4" height="5.2" fill="#000" rx="0.8"/>
<line x1="433.35" y1="2123.40" x2="433.35" y2="2134.60" stroke="#000" stroke-width="4.0"/>
<text x="366.40" y="2250.44" font-size="26.5" font-weight="bold" fill="#000" transform="rotate(-45 366.40 2250.44)">shCul4A-1</text>
<path d="M457.6,2123.4 L457.6,2019.8 Q457.6,2016.6 460.8,2016.6 L486.5,2016.6 Q489.7,2016.6 489.7,2019.8 L489.7,2123.4 Z" fill="#646464"/>
<line x1="473.65" y1="2010.50" x2="473.65" y2="2020.60" stroke="#000" stroke-width="5.0"/>
<rect x="466.9" y="2009.5" width="13.4" height="5.2" fill="#000" rx="0.8"/>
<line x1="473.25" y1="2123.40" x2="473.25" y2="2134.60" stroke="#000" stroke-width="4.0"/>
<text x="409.74" y="2248.64" font-size="26.5" font-weight="bold" fill="#000" transform="rotate(-45 409.74 2248.64)">shCul4A-2</text>
<path d="M496.9,2123.4 L496.9,2017.2 Q496.9,2014.0 500.1,2014.0 L526.3,2014.0 Q529.5,2014.0 529.5,2017.2 L529.5,2123.4 Z" fill="#000000"/>
<line x1="513.20" y1="2012.60" x2="513.20" y2="2018.00" stroke="#000" stroke-width="5.0"/>
<rect x="506.5" y="2011.6" width="13.4" height="5.2" fill="#000" rx="0.8"/>
<line x1="512.80" y1="2123.40" x2="512.80" y2="2134.60" stroke="#000" stroke-width="4.0"/>
<text x="513.83" y="2185.01" font-size="26.5" font-weight="bold" fill="#000" transform="rotate(-45 513.83 2185.01)">NT</text>
<path d="M536.8,2123.4 L536.8,2058.4 Q536.8,2055.2 540.0,2055.2 L565.7,2055.2 Q568.9,2055.2 568.9,2058.4 L568.9,2123.4 Z" fill="#a0a0a4"/>
<line x1="552.85" y1="2052.50" x2="552.85" y2="2059.20" stroke="#000" stroke-width="5.0"/>
<rect x="546.1" y="2051.5" width="13.4" height="5.2" fill="#000" rx="0.8"/>
<line x1="552.45" y1="2123.40" x2="552.45" y2="2134.60" stroke="#000" stroke-width="4.0"/>
<text x="489.64" y="2246.34" font-size="26.5" font-weight="bold" fill="#000" transform="rotate(-45 489.64 2246.34)">shDDB1-1</text>
<path d="M576.6,2123.4 L576.6,2002.6 Q576.6,1999.4 579.8,1999.4 L605.5,1999.4 Q608.7,1999.4 608.7,2002.6 L608.7,2123.4 Z" fill="#828282"/>
<line x1="592.65" y1="1990.60" x2="592.65" y2="2003.40" stroke="#000" stroke-width="5.0"/>
<rect x="586.0" y="1989.6" width="13.4" height="5.2" fill="#000" rx="0.8"/>
<line x1="592.25" y1="2123.40" x2="592.25" y2="2134.60" stroke="#000" stroke-width="4.0"/>
<text x="532.67" y="2247.44" font-size="26.5" font-weight="bold" fill="#000" transform="rotate(-45 532.67 2247.44)">shDDB1-2</text>
<path d="M616.5,2123.4 L616.5,2020.9 Q616.5,2017.7 619.7,2017.7 L645.4,2017.7 Q648.6,2017.7 648.6,2020.9 L648.6,2123.4 Z" fill="#d6d6d6"/>
<line x1="632.55" y1="1997.60" x2="632.55" y2="2021.70" stroke="#000" stroke-width="5.0"/>
<rect x="625.8" y="1996.6" width="13.4" height="5.2" fill="#000" rx="0.8"/>
<line x1="632.15" y1="2123.40" x2="632.15" y2="2134.60" stroke="#000" stroke-width="4.0"/>
<text x="574.00" y="2247.44" font-size="26.5" font-weight="bold" fill="#000" transform="rotate(-45 574.00 2247.44)">shCul4A-1</text>
<path d="M656.3,2123.4 L656.3,2031.9 Q656.3,2028.7 659.5,2028.7 L684.8,2028.7 Q688.0,2028.7 688.0,2031.9 L688.0,2123.4 Z" fill="#646464"/>
<line x1="672.15" y1="2009.40" x2="672.15" y2="2032.70" stroke="#000" stroke-width="5.0"/>
<rect x="665.4" y="2008.4" width="13.4" height="5.2" fill="#000" rx="0.8"/>
<line x1="671.75" y1="2123.40" x2="671.75" y2="2134.60" stroke="#000" stroke-width="4.0"/>
<text x="615.64" y="2245.24" font-size="26.5" font-weight="bold" fill="#000" transform="rotate(-45 615.64 2245.24)">shCul4A-2</text>
<line x1="96.40" y1="1723.20" x2="97.20" y2="2125.40" stroke="#000" stroke-width="3.6"/>
<line x1="85.40" y1="2123.40" x2="693.50" y2="2123.40" stroke="#000" stroke-width="4.6"/>
<line x1="85.40" y1="1725.70" x2="96.80" y2="1725.70" stroke="#000" stroke-width="3.6"/>
<text x="47.06" y="1735.90" font-size="29.2" font-weight="bold" fill="#000">80</text>
<line x1="85.40" y1="1825.60" x2="96.80" y2="1825.60" stroke="#000" stroke-width="3.6"/>
<text x="47.06" y="1835.80" font-size="29.2" font-weight="bold" fill="#000">60</text>
<line x1="85.40" y1="1924.60" x2="96.80" y2="1924.60" stroke="#000" stroke-width="3.6"/>
<text x="47.06" y="1934.80" font-size="29.2" font-weight="bold" fill="#000">40</text>
<line x1="85.40" y1="2023.40" x2="96.80" y2="2023.40" stroke="#000" stroke-width="3.6"/>
<text x="47.06" y="2033.60" font-size="29.2" font-weight="bold" fill="#000">20</text>
<text x="63.26" y="2133.60" font-size="29.2" font-weight="bold" fill="#000">0</text>
<line x1="120.10" y1="1739.90" x2="280.80" y2="1739.90" stroke="#000" stroke-width="5.0"/>
<text x="159.41" y="1730.10" font-size="32.3" font-weight="bold" fill="#000">G0-G1</text>
<line x1="314.60" y1="1956.70" x2="475.60" y2="1956.70" stroke="#000" stroke-width="5.0"/>
<text x="353.18" y="1948.80" font-size="32" font-weight="bold" fill="#000" textLength="82.45" lengthAdjust="spacingAndGlyphs">G2-M</text>
<text x="330.20" y="1962.00" font-size="60" font-weight="normal" fill="#000" textLength="22.14" lengthAdjust="spacingAndGlyphs">*</text>
<line x1="509.10" y1="1903.20" x2="670.10" y2="1903.20" stroke="#000" stroke-width="5.0"/>
<text x="578.92" y="1895.00" font-size="31.5" font-weight="bold" fill="#000" textLength="21.77" lengthAdjust="spacingAndGlyphs">S</text>
<text x="36.90" y="2026.24" font-size="30" font-weight="bold" fill="#000" transform="rotate(-90 36.90 2026.24)" textLength="197.00" lengthAdjust="spacingAndGlyphs">Percentage (%)</text>
</svg>
</body>
</html>
